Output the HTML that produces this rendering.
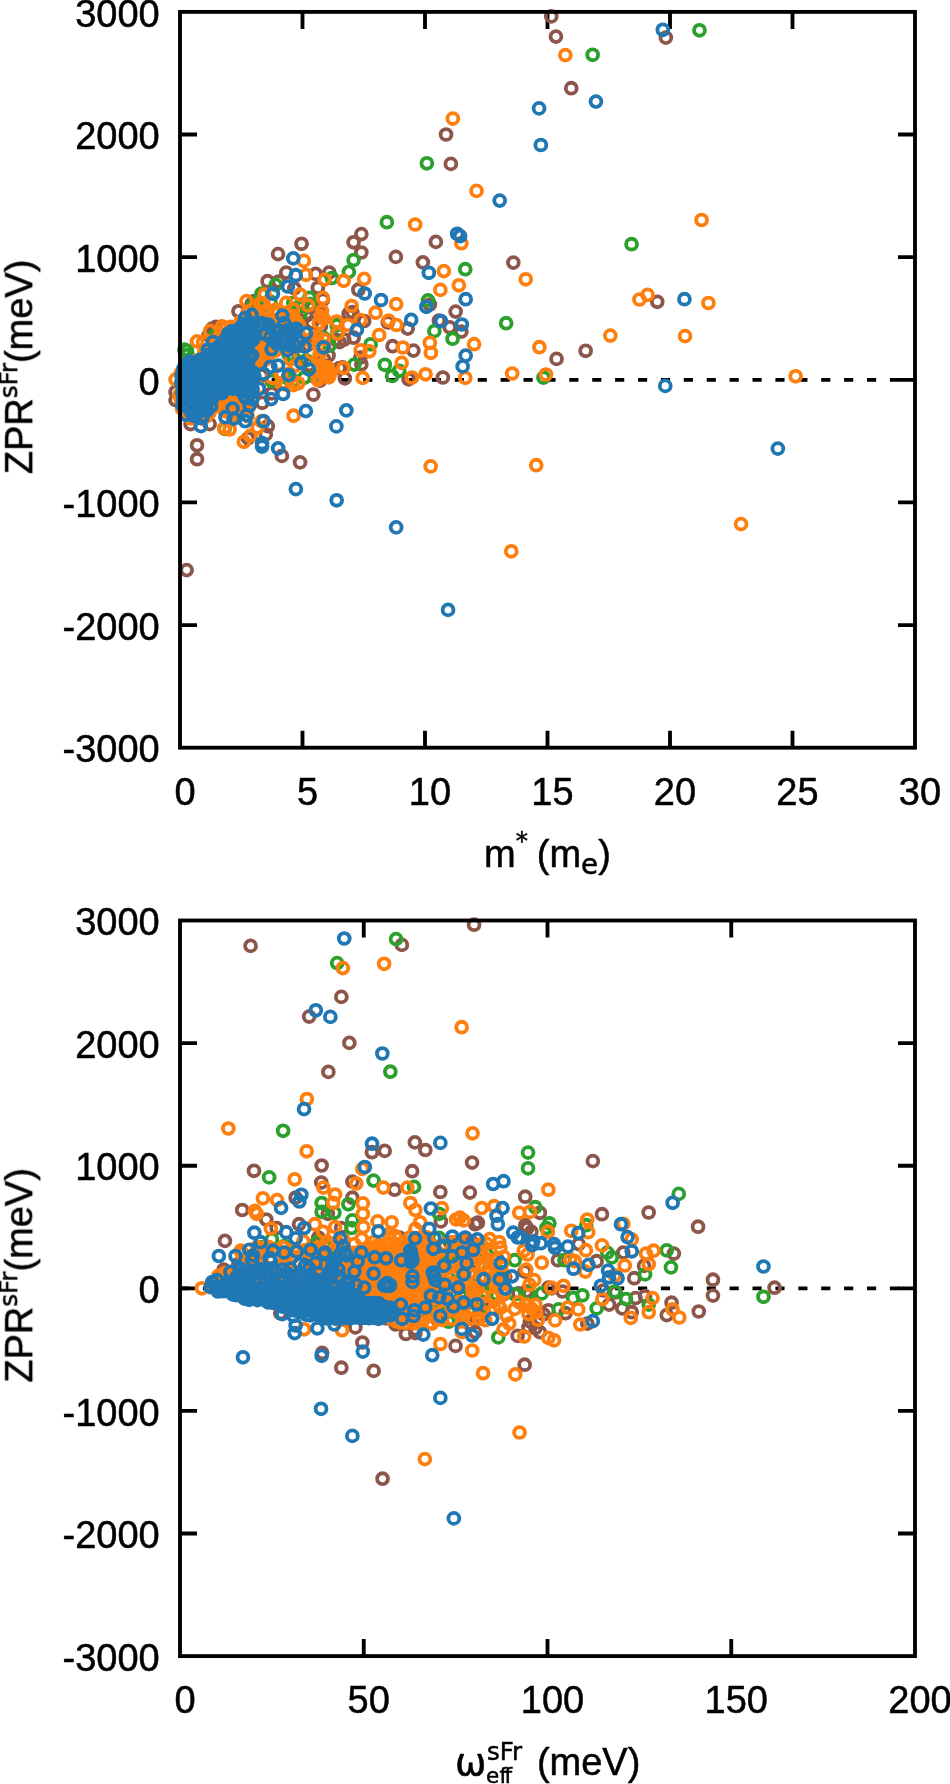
<!DOCTYPE html>
<html><head><meta charset="utf-8"><title>ZPR scatter</title>
<style>html,body{margin:0;padding:0;background:#fff}svg{display:block}text{font-family:"Liberation Sans",sans-serif;font-size:38px;fill:#000;stroke:#000;stroke-width:.5px}.s{font-family:"DejaVu Sans",sans-serif;font-size:24.5px}.w{font-family:"DejaVu Sans",sans-serif;font-size:37.5px}</style></head><body>
<svg width="950" height="1784" viewBox="0 0 950 1784">
<rect width="950" height="1784" fill="#fff"/>
<g style="will-change:transform">
<line x1="180.0" y1="379.80" x2="915.0" y2="379.80" stroke="#000" stroke-width="3.85" stroke-dasharray="9.15 13.75"/>
<path d="M302.50 747.7v-17.0M302.50 11.9v17.0M425.00 747.7v-17.0M425.00 11.9v17.0M547.50 747.7v-17.0M547.50 11.9v17.0M670.00 747.7v-17.0M670.00 11.9v17.0M792.50 747.7v-17.0M792.50 11.9v17.0M180.0 134.53h17.0M915.0 134.53h-17.0M180.0 257.17h17.0M915.0 257.17h-17.0M180.0 379.80h17.0M915.0 379.80h-17.0M180.0 502.43h17.0M915.0 502.43h-17.0M180.0 625.07h17.0M915.0 625.07h-17.0" stroke="#000" stroke-width="3.85" fill="none"/>
<g fill="none" stroke-width="3.8">
<path stroke="#8c564b" d="M210.4 326.9a5.45 5.45 0 1 0 10.9 0a5.45 5.45 0 1 0 -10.9 0zM247.9 305.8a5.45 5.45 0 1 0 10.9 0a5.45 5.45 0 1 0 -10.9 0zM233.0 311.3a5.45 5.45 0 1 0 10.9 0a5.45 5.45 0 1 0 -10.9 0zM246.2 303.9a5.45 5.45 0 1 0 10.9 0a5.45 5.45 0 1 0 -10.9 0zM203.2 335.4a5.45 5.45 0 1 0 10.9 0a5.45 5.45 0 1 0 -10.9 0zM248.6 308.1a5.45 5.45 0 1 0 10.9 0a5.45 5.45 0 1 0 -10.9 0zM206.7 328.7a5.45 5.45 0 1 0 10.9 0a5.45 5.45 0 1 0 -10.9 0zM256.4 308.7a5.45 5.45 0 1 0 10.9 0a5.45 5.45 0 1 0 -10.9 0zM293.7 342.0a5.45 5.45 0 1 0 10.9 0a5.45 5.45 0 1 0 -10.9 0zM294.2 320.2a5.45 5.45 0 1 0 10.9 0a5.45 5.45 0 1 0 -10.9 0zM314.4 380.7a5.45 5.45 0 1 0 10.9 0a5.45 5.45 0 1 0 -10.9 0zM300.8 315.7a5.45 5.45 0 1 0 10.9 0a5.45 5.45 0 1 0 -10.9 0zM289.4 332.1a5.45 5.45 0 1 0 10.9 0a5.45 5.45 0 1 0 -10.9 0zM266.1 393.4a5.45 5.45 0 1 0 10.9 0a5.45 5.45 0 1 0 -10.9 0zM318.6 359.1a5.45 5.45 0 1 0 10.9 0a5.45 5.45 0 1 0 -10.9 0zM277.4 327.8a5.45 5.45 0 1 0 10.9 0a5.45 5.45 0 1 0 -10.9 0zM302.6 344.8a5.45 5.45 0 1 0 10.9 0a5.45 5.45 0 1 0 -10.9 0zM303.6 364.9a5.45 5.45 0 1 0 10.9 0a5.45 5.45 0 1 0 -10.9 0zM255.9 375.2a5.45 5.45 0 1 0 10.9 0a5.45 5.45 0 1 0 -10.9 0zM297.2 304.3a5.45 5.45 0 1 0 10.9 0a5.45 5.45 0 1 0 -10.9 0zM545.8 16.4a5.45 5.45 0 1 0 10.9 0a5.45 5.45 0 1 0 -10.9 0zM550.5 36.6a5.45 5.45 0 1 0 10.9 0a5.45 5.45 0 1 0 -10.9 0zM565.8 88.2a5.45 5.45 0 1 0 10.9 0a5.45 5.45 0 1 0 -10.9 0zM660.4 37.6a5.45 5.45 0 1 0 10.9 0a5.45 5.45 0 1 0 -10.9 0zM450.2 311.6a5.45 5.45 0 1 0 10.9 0a5.45 5.45 0 1 0 -10.9 0zM455.9 331.6a5.45 5.45 0 1 0 10.9 0a5.45 5.45 0 1 0 -10.9 0zM507.9 262.6a5.45 5.45 0 1 0 10.9 0a5.45 5.45 0 1 0 -10.9 0zM551.1 358.9a5.45 5.45 0 1 0 10.9 0a5.45 5.45 0 1 0 -10.9 0zM580.2 350.8a5.45 5.45 0 1 0 10.9 0a5.45 5.45 0 1 0 -10.9 0zM651.8 301.8a5.45 5.45 0 1 0 10.9 0a5.45 5.45 0 1 0 -10.9 0zM440.6 134.5a5.45 5.45 0 1 0 10.9 0a5.45 5.45 0 1 0 -10.9 0zM445.4 163.9a5.45 5.45 0 1 0 10.9 0a5.45 5.45 0 1 0 -10.9 0zM355.9 234.1a5.45 5.45 0 1 0 10.9 0a5.45 5.45 0 1 0 -10.9 0zM348.1 242.3a5.45 5.45 0 1 0 10.9 0a5.45 5.45 0 1 0 -10.9 0zM355.9 252.5a5.45 5.45 0 1 0 10.9 0a5.45 5.45 0 1 0 -10.9 0zM390.4 256.9a5.45 5.45 0 1 0 10.9 0a5.45 5.45 0 1 0 -10.9 0zM430.4 241.9a5.45 5.45 0 1 0 10.9 0a5.45 5.45 0 1 0 -10.9 0zM417.4 262.4a5.45 5.45 0 1 0 10.9 0a5.45 5.45 0 1 0 -10.9 0zM352.9 289.7a5.45 5.45 0 1 0 10.9 0a5.45 5.45 0 1 0 -10.9 0zM346.9 312.1a5.45 5.45 0 1 0 10.9 0a5.45 5.45 0 1 0 -10.9 0zM358.7 321.0a5.45 5.45 0 1 0 10.9 0a5.45 5.45 0 1 0 -10.9 0zM382.4 322.5a5.45 5.45 0 1 0 10.9 0a5.45 5.45 0 1 0 -10.9 0zM402.2 328.6a5.45 5.45 0 1 0 10.9 0a5.45 5.45 0 1 0 -10.9 0zM330.2 339.6a5.45 5.45 0 1 0 10.9 0a5.45 5.45 0 1 0 -10.9 0zM338.8 339.6a5.45 5.45 0 1 0 10.9 0a5.45 5.45 0 1 0 -10.9 0zM348.2 337.7a5.45 5.45 0 1 0 10.9 0a5.45 5.45 0 1 0 -10.9 0zM387.1 346.2a5.45 5.45 0 1 0 10.9 0a5.45 5.45 0 1 0 -10.9 0zM407.9 350.6a5.45 5.45 0 1 0 10.9 0a5.45 5.45 0 1 0 -10.9 0zM354.9 357.6a5.45 5.45 0 1 0 10.9 0a5.45 5.45 0 1 0 -10.9 0zM355.9 364.2a5.45 5.45 0 1 0 10.9 0a5.45 5.45 0 1 0 -10.9 0zM334.1 368.0a5.45 5.45 0 1 0 10.9 0a5.45 5.45 0 1 0 -10.9 0zM339.4 378.4a5.45 5.45 0 1 0 10.9 0a5.45 5.45 0 1 0 -10.9 0zM403.2 379.4a5.45 5.45 0 1 0 10.9 0a5.45 5.45 0 1 0 -10.9 0zM437.4 377.5a5.45 5.45 0 1 0 10.9 0a5.45 5.45 0 1 0 -10.9 0zM433.4 320.6a5.45 5.45 0 1 0 10.9 0a5.45 5.45 0 1 0 -10.9 0zM444.2 327.3a5.45 5.45 0 1 0 10.9 0a5.45 5.45 0 1 0 -10.9 0zM424.4 304.5a5.45 5.45 0 1 0 10.9 0a5.45 5.45 0 1 0 -10.9 0zM296.1 243.8a5.45 5.45 0 1 0 10.9 0a5.45 5.45 0 1 0 -10.9 0zM272.6 254.1a5.45 5.45 0 1 0 10.9 0a5.45 5.45 0 1 0 -10.9 0zM280.8 272.6a5.45 5.45 0 1 0 10.9 0a5.45 5.45 0 1 0 -10.9 0zM310.2 273.9a5.45 5.45 0 1 0 10.9 0a5.45 5.45 0 1 0 -10.9 0zM323.8 272.6a5.45 5.45 0 1 0 10.9 0a5.45 5.45 0 1 0 -10.9 0zM262.1 281.2a5.45 5.45 0 1 0 10.9 0a5.45 5.45 0 1 0 -10.9 0zM273.2 281.5a5.45 5.45 0 1 0 10.9 0a5.45 5.45 0 1 0 -10.9 0zM288.9 288.4a5.45 5.45 0 1 0 10.9 0a5.45 5.45 0 1 0 -10.9 0zM312.4 287.8a5.45 5.45 0 1 0 10.9 0a5.45 5.45 0 1 0 -10.9 0zM317.4 299.8a5.45 5.45 0 1 0 10.9 0a5.45 5.45 0 1 0 -10.9 0zM248.6 301.1a5.45 5.45 0 1 0 10.9 0a5.45 5.45 0 1 0 -10.9 0zM305.4 307.4a5.45 5.45 0 1 0 10.9 0a5.45 5.45 0 1 0 -10.9 0zM316.2 313.7a5.45 5.45 0 1 0 10.9 0a5.45 5.45 0 1 0 -10.9 0zM343.2 313.7a5.45 5.45 0 1 0 10.9 0a5.45 5.45 0 1 0 -10.9 0zM307.9 394.6a5.45 5.45 0 1 0 10.9 0a5.45 5.45 0 1 0 -10.9 0zM256.8 402.8a5.45 5.45 0 1 0 10.9 0a5.45 5.45 0 1 0 -10.9 0zM262.4 426.2a5.45 5.45 0 1 0 10.9 0a5.45 5.45 0 1 0 -10.9 0zM306.7 322.6a5.45 5.45 0 1 0 10.9 0a5.45 5.45 0 1 0 -10.9 0zM315.4 326.4a5.45 5.45 0 1 0 10.9 0a5.45 5.45 0 1 0 -10.9 0zM323.1 355.5a5.45 5.45 0 1 0 10.9 0a5.45 5.45 0 1 0 -10.9 0zM185.1 424.1a5.45 5.45 0 1 0 10.9 0a5.45 5.45 0 1 0 -10.9 0zM204.2 424.1a5.45 5.45 0 1 0 10.9 0a5.45 5.45 0 1 0 -10.9 0zM191.6 445.3a5.45 5.45 0 1 0 10.9 0a5.45 5.45 0 1 0 -10.9 0zM191.6 459.2a5.45 5.45 0 1 0 10.9 0a5.45 5.45 0 1 0 -10.9 0zM242.6 438.4a5.45 5.45 0 1 0 10.9 0a5.45 5.45 0 1 0 -10.9 0zM276.4 455.9a5.45 5.45 0 1 0 10.9 0a5.45 5.45 0 1 0 -10.9 0zM294.6 462.4a5.45 5.45 0 1 0 10.9 0a5.45 5.45 0 1 0 -10.9 0zM260.4 434.3a5.45 5.45 0 1 0 10.9 0a5.45 5.45 0 1 0 -10.9 0zM170.1 391.9a5.45 5.45 0 1 0 10.9 0a5.45 5.45 0 1 0 -10.9 0zM170.1 400.1a5.45 5.45 0 1 0 10.9 0a5.45 5.45 0 1 0 -10.9 0zM181.2 570.1a5.45 5.45 0 1 0 10.9 0a5.45 5.45 0 1 0 -10.9 0zM337.2 367.4a5.45 5.45 0 1 0 10.9 0a5.45 5.45 0 1 0 -10.9 0zM334.1 342.1a5.45 5.45 0 1 0 10.9 0a5.45 5.45 0 1 0 -10.9 0z"/>
<path stroke="#2ca02c" d="M181.5 350.7a5.45 5.45 0 1 0 10.9 0a5.45 5.45 0 1 0 -10.9 0zM256.4 315.1a5.45 5.45 0 1 0 10.9 0a5.45 5.45 0 1 0 -10.9 0zM225.8 333.1a5.45 5.45 0 1 0 10.9 0a5.45 5.45 0 1 0 -10.9 0zM209.6 335.6a5.45 5.45 0 1 0 10.9 0a5.45 5.45 0 1 0 -10.9 0zM246.4 320.6a5.45 5.45 0 1 0 10.9 0a5.45 5.45 0 1 0 -10.9 0zM182.2 355.0a5.45 5.45 0 1 0 10.9 0a5.45 5.45 0 1 0 -10.9 0zM179.0 349.7a5.45 5.45 0 1 0 10.9 0a5.45 5.45 0 1 0 -10.9 0zM216.1 336.7a5.45 5.45 0 1 0 10.9 0a5.45 5.45 0 1 0 -10.9 0zM283.4 354.9a5.45 5.45 0 1 0 10.9 0a5.45 5.45 0 1 0 -10.9 0zM324.1 345.6a5.45 5.45 0 1 0 10.9 0a5.45 5.45 0 1 0 -10.9 0zM288.2 357.6a5.45 5.45 0 1 0 10.9 0a5.45 5.45 0 1 0 -10.9 0zM260.4 350.2a5.45 5.45 0 1 0 10.9 0a5.45 5.45 0 1 0 -10.9 0zM298.8 377.7a5.45 5.45 0 1 0 10.9 0a5.45 5.45 0 1 0 -10.9 0zM252.7 329.7a5.45 5.45 0 1 0 10.9 0a5.45 5.45 0 1 0 -10.9 0zM304.2 304.1a5.45 5.45 0 1 0 10.9 0a5.45 5.45 0 1 0 -10.9 0zM300.8 360.3a5.45 5.45 0 1 0 10.9 0a5.45 5.45 0 1 0 -10.9 0zM587.2 54.8a5.45 5.45 0 1 0 10.9 0a5.45 5.45 0 1 0 -10.9 0zM694.0 30.3a5.45 5.45 0 1 0 10.9 0a5.45 5.45 0 1 0 -10.9 0zM459.8 269.2a5.45 5.45 0 1 0 10.9 0a5.45 5.45 0 1 0 -10.9 0zM447.1 338.7a5.45 5.45 0 1 0 10.9 0a5.45 5.45 0 1 0 -10.9 0zM500.7 323.2a5.45 5.45 0 1 0 10.9 0a5.45 5.45 0 1 0 -10.9 0zM538.0 377.6a5.45 5.45 0 1 0 10.9 0a5.45 5.45 0 1 0 -10.9 0zM626.1 244.2a5.45 5.45 0 1 0 10.9 0a5.45 5.45 0 1 0 -10.9 0zM421.4 163.3a5.45 5.45 0 1 0 10.9 0a5.45 5.45 0 1 0 -10.9 0zM381.4 222.2a5.45 5.45 0 1 0 10.9 0a5.45 5.45 0 1 0 -10.9 0zM348.1 260.1a5.45 5.45 0 1 0 10.9 0a5.45 5.45 0 1 0 -10.9 0zM343.4 271.9a5.45 5.45 0 1 0 10.9 0a5.45 5.45 0 1 0 -10.9 0zM326.4 278.0a5.45 5.45 0 1 0 10.9 0a5.45 5.45 0 1 0 -10.9 0zM331.2 325.4a5.45 5.45 0 1 0 10.9 0a5.45 5.45 0 1 0 -10.9 0zM365.2 344.3a5.45 5.45 0 1 0 10.9 0a5.45 5.45 0 1 0 -10.9 0zM348.9 364.6a5.45 5.45 0 1 0 10.9 0a5.45 5.45 0 1 0 -10.9 0zM379.4 364.8a5.45 5.45 0 1 0 10.9 0a5.45 5.45 0 1 0 -10.9 0zM393.8 370.8a5.45 5.45 0 1 0 10.9 0a5.45 5.45 0 1 0 -10.9 0zM386.7 376.0a5.45 5.45 0 1 0 10.9 0a5.45 5.45 0 1 0 -10.9 0zM428.9 331.1a5.45 5.45 0 1 0 10.9 0a5.45 5.45 0 1 0 -10.9 0zM422.6 300.4a5.45 5.45 0 1 0 10.9 0a5.45 5.45 0 1 0 -10.9 0zM270.2 284.9a5.45 5.45 0 1 0 10.9 0a5.45 5.45 0 1 0 -10.9 0zM256.2 293.5a5.45 5.45 0 1 0 10.9 0a5.45 5.45 0 1 0 -10.9 0zM303.9 297.9a5.45 5.45 0 1 0 10.9 0a5.45 5.45 0 1 0 -10.9 0zM248.0 304.8a5.45 5.45 0 1 0 10.9 0a5.45 5.45 0 1 0 -10.9 0zM287.8 302.9a5.45 5.45 0 1 0 10.9 0a5.45 5.45 0 1 0 -10.9 0zM295.2 313.7a5.45 5.45 0 1 0 10.9 0a5.45 5.45 0 1 0 -10.9 0zM331.2 322.0a5.45 5.45 0 1 0 10.9 0a5.45 5.45 0 1 0 -10.9 0zM331.9 332.7a5.45 5.45 0 1 0 10.9 0a5.45 5.45 0 1 0 -10.9 0zM287.8 380.7a5.45 5.45 0 1 0 10.9 0a5.45 5.45 0 1 0 -10.9 0zM266.2 380.7a5.45 5.45 0 1 0 10.9 0a5.45 5.45 0 1 0 -10.9 0zM309.2 376.9a5.45 5.45 0 1 0 10.9 0a5.45 5.45 0 1 0 -10.9 0zM318.1 337.8a5.45 5.45 0 1 0 10.9 0a5.45 5.45 0 1 0 -10.9 0zM219.2 428.8a5.45 5.45 0 1 0 10.9 0a5.45 5.45 0 1 0 -10.9 0zM282.2 378.2a5.45 5.45 0 1 0 10.9 0a5.45 5.45 0 1 0 -10.9 0zM293.4 306.8a5.45 5.45 0 1 0 10.9 0a5.45 5.45 0 1 0 -10.9 0zM252.2 301.7a5.45 5.45 0 1 0 10.9 0a5.45 5.45 0 1 0 -10.9 0zM264.9 301.7a5.45 5.45 0 1 0 10.9 0a5.45 5.45 0 1 0 -10.9 0zM317.2 347.4a5.45 5.45 0 1 0 10.9 0a5.45 5.45 0 1 0 -10.9 0z"/>
<path stroke="#ff7f0e" d="M235.2 321.8a5.45 5.45 0 1 0 10.9 0a5.45 5.45 0 1 0 -10.9 0zM241.7 322.2a5.45 5.45 0 1 0 10.9 0a5.45 5.45 0 1 0 -10.9 0zM245.4 322.4a5.45 5.45 0 1 0 10.9 0a5.45 5.45 0 1 0 -10.9 0zM228.6 327.6a5.45 5.45 0 1 0 10.9 0a5.45 5.45 0 1 0 -10.9 0zM233.8 326.6a5.45 5.45 0 1 0 10.9 0a5.45 5.45 0 1 0 -10.9 0zM238.1 326.8a5.45 5.45 0 1 0 10.9 0a5.45 5.45 0 1 0 -10.9 0zM244.5 325.7a5.45 5.45 0 1 0 10.9 0a5.45 5.45 0 1 0 -10.9 0zM225.5 331.2a5.45 5.45 0 1 0 10.9 0a5.45 5.45 0 1 0 -10.9 0zM231.8 331.6a5.45 5.45 0 1 0 10.9 0a5.45 5.45 0 1 0 -10.9 0zM236.7 331.6a5.45 5.45 0 1 0 10.9 0a5.45 5.45 0 1 0 -10.9 0zM240.6 331.7a5.45 5.45 0 1 0 10.9 0a5.45 5.45 0 1 0 -10.9 0zM246.4 330.2a5.45 5.45 0 1 0 10.9 0a5.45 5.45 0 1 0 -10.9 0zM218.4 334.7a5.45 5.45 0 1 0 10.9 0a5.45 5.45 0 1 0 -10.9 0zM222.8 336.1a5.45 5.45 0 1 0 10.9 0a5.45 5.45 0 1 0 -10.9 0zM228.6 334.7a5.45 5.45 0 1 0 10.9 0a5.45 5.45 0 1 0 -10.9 0zM233.8 336.0a5.45 5.45 0 1 0 10.9 0a5.45 5.45 0 1 0 -10.9 0zM237.6 334.4a5.45 5.45 0 1 0 10.9 0a5.45 5.45 0 1 0 -10.9 0zM242.9 335.8a5.45 5.45 0 1 0 10.9 0a5.45 5.45 0 1 0 -10.9 0zM247.9 335.7a5.45 5.45 0 1 0 10.9 0a5.45 5.45 0 1 0 -10.9 0zM215.7 340.4a5.45 5.45 0 1 0 10.9 0a5.45 5.45 0 1 0 -10.9 0zM220.7 340.5a5.45 5.45 0 1 0 10.9 0a5.45 5.45 0 1 0 -10.9 0zM226.6 339.5a5.45 5.45 0 1 0 10.9 0a5.45 5.45 0 1 0 -10.9 0zM230.6 338.7a5.45 5.45 0 1 0 10.9 0a5.45 5.45 0 1 0 -10.9 0zM236.9 338.7a5.45 5.45 0 1 0 10.9 0a5.45 5.45 0 1 0 -10.9 0zM241.7 340.6a5.45 5.45 0 1 0 10.9 0a5.45 5.45 0 1 0 -10.9 0zM246.2 339.0a5.45 5.45 0 1 0 10.9 0a5.45 5.45 0 1 0 -10.9 0zM208.2 344.7a5.45 5.45 0 1 0 10.9 0a5.45 5.45 0 1 0 -10.9 0zM214.4 343.0a5.45 5.45 0 1 0 10.9 0a5.45 5.45 0 1 0 -10.9 0zM218.0 343.6a5.45 5.45 0 1 0 10.9 0a5.45 5.45 0 1 0 -10.9 0zM224.6 344.5a5.45 5.45 0 1 0 10.9 0a5.45 5.45 0 1 0 -10.9 0zM228.2 343.4a5.45 5.45 0 1 0 10.9 0a5.45 5.45 0 1 0 -10.9 0zM233.9 344.7a5.45 5.45 0 1 0 10.9 0a5.45 5.45 0 1 0 -10.9 0zM239.5 343.7a5.45 5.45 0 1 0 10.9 0a5.45 5.45 0 1 0 -10.9 0zM244.4 344.4a5.45 5.45 0 1 0 10.9 0a5.45 5.45 0 1 0 -10.9 0zM206.8 348.5a5.45 5.45 0 1 0 10.9 0a5.45 5.45 0 1 0 -10.9 0zM212.0 349.1a5.45 5.45 0 1 0 10.9 0a5.45 5.45 0 1 0 -10.9 0zM215.4 348.4a5.45 5.45 0 1 0 10.9 0a5.45 5.45 0 1 0 -10.9 0zM220.2 347.4a5.45 5.45 0 1 0 10.9 0a5.45 5.45 0 1 0 -10.9 0zM225.2 349.0a5.45 5.45 0 1 0 10.9 0a5.45 5.45 0 1 0 -10.9 0zM231.7 349.0a5.45 5.45 0 1 0 10.9 0a5.45 5.45 0 1 0 -10.9 0zM235.8 348.5a5.45 5.45 0 1 0 10.9 0a5.45 5.45 0 1 0 -10.9 0zM241.7 348.1a5.45 5.45 0 1 0 10.9 0a5.45 5.45 0 1 0 -10.9 0zM246.2 347.8a5.45 5.45 0 1 0 10.9 0a5.45 5.45 0 1 0 -10.9 0zM198.9 351.8a5.45 5.45 0 1 0 10.9 0a5.45 5.45 0 1 0 -10.9 0zM202.8 353.4a5.45 5.45 0 1 0 10.9 0a5.45 5.45 0 1 0 -10.9 0zM207.7 352.1a5.45 5.45 0 1 0 10.9 0a5.45 5.45 0 1 0 -10.9 0zM214.6 352.5a5.45 5.45 0 1 0 10.9 0a5.45 5.45 0 1 0 -10.9 0zM217.8 352.0a5.45 5.45 0 1 0 10.9 0a5.45 5.45 0 1 0 -10.9 0zM223.1 353.1a5.45 5.45 0 1 0 10.9 0a5.45 5.45 0 1 0 -10.9 0zM227.8 353.5a5.45 5.45 0 1 0 10.9 0a5.45 5.45 0 1 0 -10.9 0zM233.4 353.6a5.45 5.45 0 1 0 10.9 0a5.45 5.45 0 1 0 -10.9 0zM239.4 352.2a5.45 5.45 0 1 0 10.9 0a5.45 5.45 0 1 0 -10.9 0zM243.1 352.6a5.45 5.45 0 1 0 10.9 0a5.45 5.45 0 1 0 -10.9 0zM196.9 357.9a5.45 5.45 0 1 0 10.9 0a5.45 5.45 0 1 0 -10.9 0zM202.0 356.2a5.45 5.45 0 1 0 10.9 0a5.45 5.45 0 1 0 -10.9 0zM205.5 357.2a5.45 5.45 0 1 0 10.9 0a5.45 5.45 0 1 0 -10.9 0zM212.1 357.1a5.45 5.45 0 1 0 10.9 0a5.45 5.45 0 1 0 -10.9 0zM216.5 357.3a5.45 5.45 0 1 0 10.9 0a5.45 5.45 0 1 0 -10.9 0zM220.6 357.1a5.45 5.45 0 1 0 10.9 0a5.45 5.45 0 1 0 -10.9 0zM225.7 356.5a5.45 5.45 0 1 0 10.9 0a5.45 5.45 0 1 0 -10.9 0zM230.2 356.5a5.45 5.45 0 1 0 10.9 0a5.45 5.45 0 1 0 -10.9 0zM237.1 356.9a5.45 5.45 0 1 0 10.9 0a5.45 5.45 0 1 0 -10.9 0zM241.4 357.3a5.45 5.45 0 1 0 10.9 0a5.45 5.45 0 1 0 -10.9 0zM188.2 361.4a5.45 5.45 0 1 0 10.9 0a5.45 5.45 0 1 0 -10.9 0zM193.8 361.5a5.45 5.45 0 1 0 10.9 0a5.45 5.45 0 1 0 -10.9 0zM198.1 360.3a5.45 5.45 0 1 0 10.9 0a5.45 5.45 0 1 0 -10.9 0zM203.1 360.4a5.45 5.45 0 1 0 10.9 0a5.45 5.45 0 1 0 -10.9 0zM208.7 360.4a5.45 5.45 0 1 0 10.9 0a5.45 5.45 0 1 0 -10.9 0zM212.8 361.6a5.45 5.45 0 1 0 10.9 0a5.45 5.45 0 1 0 -10.9 0zM218.2 361.9a5.45 5.45 0 1 0 10.9 0a5.45 5.45 0 1 0 -10.9 0zM223.6 362.0a5.45 5.45 0 1 0 10.9 0a5.45 5.45 0 1 0 -10.9 0zM227.9 361.3a5.45 5.45 0 1 0 10.9 0a5.45 5.45 0 1 0 -10.9 0zM234.2 360.5a5.45 5.45 0 1 0 10.9 0a5.45 5.45 0 1 0 -10.9 0zM239.5 360.6a5.45 5.45 0 1 0 10.9 0a5.45 5.45 0 1 0 -10.9 0zM244.2 362.3a5.45 5.45 0 1 0 10.9 0a5.45 5.45 0 1 0 -10.9 0zM181.9 365.2a5.45 5.45 0 1 0 10.9 0a5.45 5.45 0 1 0 -10.9 0zM186.9 364.9a5.45 5.45 0 1 0 10.9 0a5.45 5.45 0 1 0 -10.9 0zM191.9 364.7a5.45 5.45 0 1 0 10.9 0a5.45 5.45 0 1 0 -10.9 0zM195.7 366.4a5.45 5.45 0 1 0 10.9 0a5.45 5.45 0 1 0 -10.9 0zM201.7 366.4a5.45 5.45 0 1 0 10.9 0a5.45 5.45 0 1 0 -10.9 0zM206.8 366.1a5.45 5.45 0 1 0 10.9 0a5.45 5.45 0 1 0 -10.9 0zM211.5 365.0a5.45 5.45 0 1 0 10.9 0a5.45 5.45 0 1 0 -10.9 0zM216.0 364.9a5.45 5.45 0 1 0 10.9 0a5.45 5.45 0 1 0 -10.9 0zM221.5 366.0a5.45 5.45 0 1 0 10.9 0a5.45 5.45 0 1 0 -10.9 0zM225.6 364.8a5.45 5.45 0 1 0 10.9 0a5.45 5.45 0 1 0 -10.9 0zM232.0 366.2a5.45 5.45 0 1 0 10.9 0a5.45 5.45 0 1 0 -10.9 0zM236.2 365.7a5.45 5.45 0 1 0 10.9 0a5.45 5.45 0 1 0 -10.9 0zM241.8 365.5a5.45 5.45 0 1 0 10.9 0a5.45 5.45 0 1 0 -10.9 0zM178.9 369.8a5.45 5.45 0 1 0 10.9 0a5.45 5.45 0 1 0 -10.9 0zM183.7 369.1a5.45 5.45 0 1 0 10.9 0a5.45 5.45 0 1 0 -10.9 0zM188.2 369.2a5.45 5.45 0 1 0 10.9 0a5.45 5.45 0 1 0 -10.9 0zM192.9 369.5a5.45 5.45 0 1 0 10.9 0a5.45 5.45 0 1 0 -10.9 0zM199.2 369.8a5.45 5.45 0 1 0 10.9 0a5.45 5.45 0 1 0 -10.9 0zM203.4 370.2a5.45 5.45 0 1 0 10.9 0a5.45 5.45 0 1 0 -10.9 0zM208.1 369.0a5.45 5.45 0 1 0 10.9 0a5.45 5.45 0 1 0 -10.9 0zM213.7 370.0a5.45 5.45 0 1 0 10.9 0a5.45 5.45 0 1 0 -10.9 0zM218.9 369.8a5.45 5.45 0 1 0 10.9 0a5.45 5.45 0 1 0 -10.9 0zM224.0 370.4a5.45 5.45 0 1 0 10.9 0a5.45 5.45 0 1 0 -10.9 0zM228.1 370.0a5.45 5.45 0 1 0 10.9 0a5.45 5.45 0 1 0 -10.9 0zM233.6 369.4a5.45 5.45 0 1 0 10.9 0a5.45 5.45 0 1 0 -10.9 0zM238.4 370.1a5.45 5.45 0 1 0 10.9 0a5.45 5.45 0 1 0 -10.9 0zM175.2 373.4a5.45 5.45 0 1 0 10.9 0a5.45 5.45 0 1 0 -10.9 0zM181.1 375.0a5.45 5.45 0 1 0 10.9 0a5.45 5.45 0 1 0 -10.9 0zM185.4 374.8a5.45 5.45 0 1 0 10.9 0a5.45 5.45 0 1 0 -10.9 0zM191.9 373.9a5.45 5.45 0 1 0 10.9 0a5.45 5.45 0 1 0 -10.9 0zM196.5 375.0a5.45 5.45 0 1 0 10.9 0a5.45 5.45 0 1 0 -10.9 0zM200.8 374.7a5.45 5.45 0 1 0 10.9 0a5.45 5.45 0 1 0 -10.9 0zM206.6 374.5a5.45 5.45 0 1 0 10.9 0a5.45 5.45 0 1 0 -10.9 0zM211.8 375.1a5.45 5.45 0 1 0 10.9 0a5.45 5.45 0 1 0 -10.9 0zM217.0 374.4a5.45 5.45 0 1 0 10.9 0a5.45 5.45 0 1 0 -10.9 0zM220.5 373.8a5.45 5.45 0 1 0 10.9 0a5.45 5.45 0 1 0 -10.9 0zM225.5 374.4a5.45 5.45 0 1 0 10.9 0a5.45 5.45 0 1 0 -10.9 0zM231.6 373.4a5.45 5.45 0 1 0 10.9 0a5.45 5.45 0 1 0 -10.9 0zM236.5 374.7a5.45 5.45 0 1 0 10.9 0a5.45 5.45 0 1 0 -10.9 0zM240.8 374.3a5.45 5.45 0 1 0 10.9 0a5.45 5.45 0 1 0 -10.9 0zM179.2 378.9a5.45 5.45 0 1 0 10.9 0a5.45 5.45 0 1 0 -10.9 0zM183.1 379.4a5.45 5.45 0 1 0 10.9 0a5.45 5.45 0 1 0 -10.9 0zM189.5 377.9a5.45 5.45 0 1 0 10.9 0a5.45 5.45 0 1 0 -10.9 0zM194.2 379.3a5.45 5.45 0 1 0 10.9 0a5.45 5.45 0 1 0 -10.9 0zM198.9 379.0a5.45 5.45 0 1 0 10.9 0a5.45 5.45 0 1 0 -10.9 0zM203.5 379.5a5.45 5.45 0 1 0 10.9 0a5.45 5.45 0 1 0 -10.9 0zM209.5 378.4a5.45 5.45 0 1 0 10.9 0a5.45 5.45 0 1 0 -10.9 0zM214.2 378.5a5.45 5.45 0 1 0 10.9 0a5.45 5.45 0 1 0 -10.9 0zM217.9 378.3a5.45 5.45 0 1 0 10.9 0a5.45 5.45 0 1 0 -10.9 0zM222.9 379.4a5.45 5.45 0 1 0 10.9 0a5.45 5.45 0 1 0 -10.9 0zM229.5 377.9a5.45 5.45 0 1 0 10.9 0a5.45 5.45 0 1 0 -10.9 0zM233.8 378.4a5.45 5.45 0 1 0 10.9 0a5.45 5.45 0 1 0 -10.9 0zM237.8 378.2a5.45 5.45 0 1 0 10.9 0a5.45 5.45 0 1 0 -10.9 0zM176.0 382.0a5.45 5.45 0 1 0 10.9 0a5.45 5.45 0 1 0 -10.9 0zM181.4 383.2a5.45 5.45 0 1 0 10.9 0a5.45 5.45 0 1 0 -10.9 0zM186.8 382.4a5.45 5.45 0 1 0 10.9 0a5.45 5.45 0 1 0 -10.9 0zM190.7 383.0a5.45 5.45 0 1 0 10.9 0a5.45 5.45 0 1 0 -10.9 0zM195.6 383.1a5.45 5.45 0 1 0 10.9 0a5.45 5.45 0 1 0 -10.9 0zM200.6 383.3a5.45 5.45 0 1 0 10.9 0a5.45 5.45 0 1 0 -10.9 0zM206.7 383.6a5.45 5.45 0 1 0 10.9 0a5.45 5.45 0 1 0 -10.9 0zM212.0 383.0a5.45 5.45 0 1 0 10.9 0a5.45 5.45 0 1 0 -10.9 0zM216.1 383.7a5.45 5.45 0 1 0 10.9 0a5.45 5.45 0 1 0 -10.9 0zM221.6 383.1a5.45 5.45 0 1 0 10.9 0a5.45 5.45 0 1 0 -10.9 0zM225.9 382.5a5.45 5.45 0 1 0 10.9 0a5.45 5.45 0 1 0 -10.9 0zM230.2 383.6a5.45 5.45 0 1 0 10.9 0a5.45 5.45 0 1 0 -10.9 0zM235.2 383.4a5.45 5.45 0 1 0 10.9 0a5.45 5.45 0 1 0 -10.9 0zM178.7 386.9a5.45 5.45 0 1 0 10.9 0a5.45 5.45 0 1 0 -10.9 0zM183.6 387.0a5.45 5.45 0 1 0 10.9 0a5.45 5.45 0 1 0 -10.9 0zM188.7 386.3a5.45 5.45 0 1 0 10.9 0a5.45 5.45 0 1 0 -10.9 0zM193.5 387.2a5.45 5.45 0 1 0 10.9 0a5.45 5.45 0 1 0 -10.9 0zM198.2 387.1a5.45 5.45 0 1 0 10.9 0a5.45 5.45 0 1 0 -10.9 0zM204.2 387.6a5.45 5.45 0 1 0 10.9 0a5.45 5.45 0 1 0 -10.9 0zM208.6 387.6a5.45 5.45 0 1 0 10.9 0a5.45 5.45 0 1 0 -10.9 0zM213.4 386.7a5.45 5.45 0 1 0 10.9 0a5.45 5.45 0 1 0 -10.9 0zM217.6 386.8a5.45 5.45 0 1 0 10.9 0a5.45 5.45 0 1 0 -10.9 0zM223.8 388.0a5.45 5.45 0 1 0 10.9 0a5.45 5.45 0 1 0 -10.9 0zM229.2 387.3a5.45 5.45 0 1 0 10.9 0a5.45 5.45 0 1 0 -10.9 0zM176.2 391.7a5.45 5.45 0 1 0 10.9 0a5.45 5.45 0 1 0 -10.9 0zM180.8 390.6a5.45 5.45 0 1 0 10.9 0a5.45 5.45 0 1 0 -10.9 0zM185.9 391.5a5.45 5.45 0 1 0 10.9 0a5.45 5.45 0 1 0 -10.9 0zM190.9 392.3a5.45 5.45 0 1 0 10.9 0a5.45 5.45 0 1 0 -10.9 0zM196.2 392.1a5.45 5.45 0 1 0 10.9 0a5.45 5.45 0 1 0 -10.9 0zM201.9 392.1a5.45 5.45 0 1 0 10.9 0a5.45 5.45 0 1 0 -10.9 0zM206.1 392.1a5.45 5.45 0 1 0 10.9 0a5.45 5.45 0 1 0 -10.9 0zM211.4 391.9a5.45 5.45 0 1 0 10.9 0a5.45 5.45 0 1 0 -10.9 0zM216.4 391.4a5.45 5.45 0 1 0 10.9 0a5.45 5.45 0 1 0 -10.9 0zM173.7 395.2a5.45 5.45 0 1 0 10.9 0a5.45 5.45 0 1 0 -10.9 0zM179.2 395.9a5.45 5.45 0 1 0 10.9 0a5.45 5.45 0 1 0 -10.9 0zM183.5 395.0a5.45 5.45 0 1 0 10.9 0a5.45 5.45 0 1 0 -10.9 0zM188.6 396.4a5.45 5.45 0 1 0 10.9 0a5.45 5.45 0 1 0 -10.9 0zM193.4 395.7a5.45 5.45 0 1 0 10.9 0a5.45 5.45 0 1 0 -10.9 0zM198.9 395.0a5.45 5.45 0 1 0 10.9 0a5.45 5.45 0 1 0 -10.9 0zM203.6 396.8a5.45 5.45 0 1 0 10.9 0a5.45 5.45 0 1 0 -10.9 0zM209.0 395.7a5.45 5.45 0 1 0 10.9 0a5.45 5.45 0 1 0 -10.9 0zM214.0 396.1a5.45 5.45 0 1 0 10.9 0a5.45 5.45 0 1 0 -10.9 0zM175.6 400.5a5.45 5.45 0 1 0 10.9 0a5.45 5.45 0 1 0 -10.9 0zM180.6 400.4a5.45 5.45 0 1 0 10.9 0a5.45 5.45 0 1 0 -10.9 0zM185.4 400.8a5.45 5.45 0 1 0 10.9 0a5.45 5.45 0 1 0 -10.9 0zM191.8 399.9a5.45 5.45 0 1 0 10.9 0a5.45 5.45 0 1 0 -10.9 0zM195.5 401.2a5.45 5.45 0 1 0 10.9 0a5.45 5.45 0 1 0 -10.9 0zM201.5 401.0a5.45 5.45 0 1 0 10.9 0a5.45 5.45 0 1 0 -10.9 0zM205.2 401.1a5.45 5.45 0 1 0 10.9 0a5.45 5.45 0 1 0 -10.9 0zM211.2 399.9a5.45 5.45 0 1 0 10.9 0a5.45 5.45 0 1 0 -10.9 0zM178.2 405.1a5.45 5.45 0 1 0 10.9 0a5.45 5.45 0 1 0 -10.9 0zM183.1 405.0a5.45 5.45 0 1 0 10.9 0a5.45 5.45 0 1 0 -10.9 0zM189.0 404.2a5.45 5.45 0 1 0 10.9 0a5.45 5.45 0 1 0 -10.9 0zM192.8 404.4a5.45 5.45 0 1 0 10.9 0a5.45 5.45 0 1 0 -10.9 0zM198.6 403.8a5.45 5.45 0 1 0 10.9 0a5.45 5.45 0 1 0 -10.9 0zM203.0 403.7a5.45 5.45 0 1 0 10.9 0a5.45 5.45 0 1 0 -10.9 0zM208.8 405.4a5.45 5.45 0 1 0 10.9 0a5.45 5.45 0 1 0 -10.9 0zM176.7 408.9a5.45 5.45 0 1 0 10.9 0a5.45 5.45 0 1 0 -10.9 0zM181.2 408.4a5.45 5.45 0 1 0 10.9 0a5.45 5.45 0 1 0 -10.9 0zM186.5 408.6a5.45 5.45 0 1 0 10.9 0a5.45 5.45 0 1 0 -10.9 0zM191.2 409.7a5.45 5.45 0 1 0 10.9 0a5.45 5.45 0 1 0 -10.9 0zM197.1 408.0a5.45 5.45 0 1 0 10.9 0a5.45 5.45 0 1 0 -10.9 0zM201.7 409.6a5.45 5.45 0 1 0 10.9 0a5.45 5.45 0 1 0 -10.9 0zM205.7 408.7a5.45 5.45 0 1 0 10.9 0a5.45 5.45 0 1 0 -10.9 0zM179.2 412.3a5.45 5.45 0 1 0 10.9 0a5.45 5.45 0 1 0 -10.9 0zM183.1 412.5a5.45 5.45 0 1 0 10.9 0a5.45 5.45 0 1 0 -10.9 0zM187.8 412.3a5.45 5.45 0 1 0 10.9 0a5.45 5.45 0 1 0 -10.9 0zM193.9 413.7a5.45 5.45 0 1 0 10.9 0a5.45 5.45 0 1 0 -10.9 0zM199.0 414.0a5.45 5.45 0 1 0 10.9 0a5.45 5.45 0 1 0 -10.9 0zM203.9 413.0a5.45 5.45 0 1 0 10.9 0a5.45 5.45 0 1 0 -10.9 0zM185.6 418.5a5.45 5.45 0 1 0 10.9 0a5.45 5.45 0 1 0 -10.9 0zM190.4 418.4a5.45 5.45 0 1 0 10.9 0a5.45 5.45 0 1 0 -10.9 0zM196.8 418.3a5.45 5.45 0 1 0 10.9 0a5.45 5.45 0 1 0 -10.9 0zM200.2 416.8a5.45 5.45 0 1 0 10.9 0a5.45 5.45 0 1 0 -10.9 0zM258.1 311.5a5.45 5.45 0 1 0 10.9 0a5.45 5.45 0 1 0 -10.9 0zM272.2 313.5a5.45 5.45 0 1 0 10.9 0a5.45 5.45 0 1 0 -10.9 0zM279.2 312.8a5.45 5.45 0 1 0 10.9 0a5.45 5.45 0 1 0 -10.9 0zM287.7 309.3a5.45 5.45 0 1 0 10.9 0a5.45 5.45 0 1 0 -10.9 0zM262.1 318.0a5.45 5.45 0 1 0 10.9 0a5.45 5.45 0 1 0 -10.9 0zM268.9 320.1a5.45 5.45 0 1 0 10.9 0a5.45 5.45 0 1 0 -10.9 0zM276.4 320.4a5.45 5.45 0 1 0 10.9 0a5.45 5.45 0 1 0 -10.9 0zM282.4 319.7a5.45 5.45 0 1 0 10.9 0a5.45 5.45 0 1 0 -10.9 0zM290.2 320.4a5.45 5.45 0 1 0 10.9 0a5.45 5.45 0 1 0 -10.9 0zM258.4 322.7a5.45 5.45 0 1 0 10.9 0a5.45 5.45 0 1 0 -10.9 0zM262.1 323.3a5.45 5.45 0 1 0 10.9 0a5.45 5.45 0 1 0 -10.9 0zM273.9 324.4a5.45 5.45 0 1 0 10.9 0a5.45 5.45 0 1 0 -10.9 0zM279.9 323.7a5.45 5.45 0 1 0 10.9 0a5.45 5.45 0 1 0 -10.9 0zM286.8 324.2a5.45 5.45 0 1 0 10.9 0a5.45 5.45 0 1 0 -10.9 0zM293.6 325.2a5.45 5.45 0 1 0 10.9 0a5.45 5.45 0 1 0 -10.9 0zM261.1 333.6a5.45 5.45 0 1 0 10.9 0a5.45 5.45 0 1 0 -10.9 0zM269.7 333.9a5.45 5.45 0 1 0 10.9 0a5.45 5.45 0 1 0 -10.9 0zM276.2 329.6a5.45 5.45 0 1 0 10.9 0a5.45 5.45 0 1 0 -10.9 0zM284.9 333.7a5.45 5.45 0 1 0 10.9 0a5.45 5.45 0 1 0 -10.9 0zM292.7 331.7a5.45 5.45 0 1 0 10.9 0a5.45 5.45 0 1 0 -10.9 0zM257.4 336.4a5.45 5.45 0 1 0 10.9 0a5.45 5.45 0 1 0 -10.9 0zM265.7 338.3a5.45 5.45 0 1 0 10.9 0a5.45 5.45 0 1 0 -10.9 0zM270.4 335.6a5.45 5.45 0 1 0 10.9 0a5.45 5.45 0 1 0 -10.9 0zM280.9 340.5a5.45 5.45 0 1 0 10.9 0a5.45 5.45 0 1 0 -10.9 0zM284.7 339.5a5.45 5.45 0 1 0 10.9 0a5.45 5.45 0 1 0 -10.9 0zM293.9 336.1a5.45 5.45 0 1 0 10.9 0a5.45 5.45 0 1 0 -10.9 0zM262.1 342.1a5.45 5.45 0 1 0 10.9 0a5.45 5.45 0 1 0 -10.9 0zM268.4 342.1a5.45 5.45 0 1 0 10.9 0a5.45 5.45 0 1 0 -10.9 0zM276.4 343.6a5.45 5.45 0 1 0 10.9 0a5.45 5.45 0 1 0 -10.9 0zM284.9 347.0a5.45 5.45 0 1 0 10.9 0a5.45 5.45 0 1 0 -10.9 0zM290.6 347.1a5.45 5.45 0 1 0 10.9 0a5.45 5.45 0 1 0 -10.9 0zM264.4 348.6a5.45 5.45 0 1 0 10.9 0a5.45 5.45 0 1 0 -10.9 0zM269.9 350.6a5.45 5.45 0 1 0 10.9 0a5.45 5.45 0 1 0 -10.9 0zM279.8 349.3a5.45 5.45 0 1 0 10.9 0a5.45 5.45 0 1 0 -10.9 0zM204.7 330.9a5.45 5.45 0 1 0 10.9 0a5.45 5.45 0 1 0 -10.9 0zM313.7 367.7a5.45 5.45 0 1 0 10.9 0a5.45 5.45 0 1 0 -10.9 0zM318.2 367.8a5.45 5.45 0 1 0 10.9 0a5.45 5.45 0 1 0 -10.9 0zM322.2 367.4a5.45 5.45 0 1 0 10.9 0a5.45 5.45 0 1 0 -10.9 0zM316.4 373.4a5.45 5.45 0 1 0 10.9 0a5.45 5.45 0 1 0 -10.9 0zM321.2 371.9a5.45 5.45 0 1 0 10.9 0a5.45 5.45 0 1 0 -10.9 0zM325.1 373.0a5.45 5.45 0 1 0 10.9 0a5.45 5.45 0 1 0 -10.9 0zM313.7 377.8a5.45 5.45 0 1 0 10.9 0a5.45 5.45 0 1 0 -10.9 0zM318.9 376.0a5.45 5.45 0 1 0 10.9 0a5.45 5.45 0 1 0 -10.9 0zM323.4 377.4a5.45 5.45 0 1 0 10.9 0a5.45 5.45 0 1 0 -10.9 0zM248.8 349.5a5.45 5.45 0 1 0 10.9 0a5.45 5.45 0 1 0 -10.9 0zM253.7 349.9a5.45 5.45 0 1 0 10.9 0a5.45 5.45 0 1 0 -10.9 0zM258.1 349.8a5.45 5.45 0 1 0 10.9 0a5.45 5.45 0 1 0 -10.9 0zM251.7 353.2a5.45 5.45 0 1 0 10.9 0a5.45 5.45 0 1 0 -10.9 0zM256.2 352.1a5.45 5.45 0 1 0 10.9 0a5.45 5.45 0 1 0 -10.9 0zM259.8 352.4a5.45 5.45 0 1 0 10.9 0a5.45 5.45 0 1 0 -10.9 0zM252.7 357.6a5.45 5.45 0 1 0 10.9 0a5.45 5.45 0 1 0 -10.9 0zM258.1 356.1a5.45 5.45 0 1 0 10.9 0a5.45 5.45 0 1 0 -10.9 0zM262.7 356.1a5.45 5.45 0 1 0 10.9 0a5.45 5.45 0 1 0 -10.9 0zM251.1 359.9a5.45 5.45 0 1 0 10.9 0a5.45 5.45 0 1 0 -10.9 0zM254.4 361.4a5.45 5.45 0 1 0 10.9 0a5.45 5.45 0 1 0 -10.9 0zM259.2 360.1a5.45 5.45 0 1 0 10.9 0a5.45 5.45 0 1 0 -10.9 0zM312.4 379.8a5.45 5.45 0 1 0 10.9 0a5.45 5.45 0 1 0 -10.9 0zM285.2 322.7a5.45 5.45 0 1 0 10.9 0a5.45 5.45 0 1 0 -10.9 0zM242.6 363.6a5.45 5.45 0 1 0 10.9 0a5.45 5.45 0 1 0 -10.9 0zM283.9 373.5a5.45 5.45 0 1 0 10.9 0a5.45 5.45 0 1 0 -10.9 0zM275.4 374.6a5.45 5.45 0 1 0 10.9 0a5.45 5.45 0 1 0 -10.9 0zM266.6 377.8a5.45 5.45 0 1 0 10.9 0a5.45 5.45 0 1 0 -10.9 0zM306.8 338.2a5.45 5.45 0 1 0 10.9 0a5.45 5.45 0 1 0 -10.9 0zM289.9 365.6a5.45 5.45 0 1 0 10.9 0a5.45 5.45 0 1 0 -10.9 0zM259.6 352.5a5.45 5.45 0 1 0 10.9 0a5.45 5.45 0 1 0 -10.9 0zM313.4 323.1a5.45 5.45 0 1 0 10.9 0a5.45 5.45 0 1 0 -10.9 0zM216.7 326.3a5.45 5.45 0 1 0 10.9 0a5.45 5.45 0 1 0 -10.9 0zM220.2 328.6a5.45 5.45 0 1 0 10.9 0a5.45 5.45 0 1 0 -10.9 0zM254.6 303.4a5.45 5.45 0 1 0 10.9 0a5.45 5.45 0 1 0 -10.9 0zM244.4 320.9a5.45 5.45 0 1 0 10.9 0a5.45 5.45 0 1 0 -10.9 0zM225.5 326.8a5.45 5.45 0 1 0 10.9 0a5.45 5.45 0 1 0 -10.9 0zM229.1 330.8a5.45 5.45 0 1 0 10.9 0a5.45 5.45 0 1 0 -10.9 0zM197.6 342.2a5.45 5.45 0 1 0 10.9 0a5.45 5.45 0 1 0 -10.9 0zM191.6 341.4a5.45 5.45 0 1 0 10.9 0a5.45 5.45 0 1 0 -10.9 0zM234.8 385.5a5.45 5.45 0 1 0 10.9 0a5.45 5.45 0 1 0 -10.9 0zM218.2 389.1a5.45 5.45 0 1 0 10.9 0a5.45 5.45 0 1 0 -10.9 0zM221.7 390.4a5.45 5.45 0 1 0 10.9 0a5.45 5.45 0 1 0 -10.9 0zM228.0 388.5a5.45 5.45 0 1 0 10.9 0a5.45 5.45 0 1 0 -10.9 0zM232.9 390.0a5.45 5.45 0 1 0 10.9 0a5.45 5.45 0 1 0 -10.9 0zM237.1 389.9a5.45 5.45 0 1 0 10.9 0a5.45 5.45 0 1 0 -10.9 0zM221.1 393.7a5.45 5.45 0 1 0 10.9 0a5.45 5.45 0 1 0 -10.9 0zM226.4 393.8a5.45 5.45 0 1 0 10.9 0a5.45 5.45 0 1 0 -10.9 0zM230.5 395.0a5.45 5.45 0 1 0 10.9 0a5.45 5.45 0 1 0 -10.9 0zM235.9 392.9a5.45 5.45 0 1 0 10.9 0a5.45 5.45 0 1 0 -10.9 0zM240.8 394.4a5.45 5.45 0 1 0 10.9 0a5.45 5.45 0 1 0 -10.9 0zM218.2 398.5a5.45 5.45 0 1 0 10.9 0a5.45 5.45 0 1 0 -10.9 0zM221.5 398.4a5.45 5.45 0 1 0 10.9 0a5.45 5.45 0 1 0 -10.9 0zM226.8 399.3a5.45 5.45 0 1 0 10.9 0a5.45 5.45 0 1 0 -10.9 0zM232.8 397.4a5.45 5.45 0 1 0 10.9 0a5.45 5.45 0 1 0 -10.9 0zM238.9 397.4a5.45 5.45 0 1 0 10.9 0a5.45 5.45 0 1 0 -10.9 0zM242.6 397.2a5.45 5.45 0 1 0 10.9 0a5.45 5.45 0 1 0 -10.9 0zM215.2 401.9a5.45 5.45 0 1 0 10.9 0a5.45 5.45 0 1 0 -10.9 0zM219.9 401.9a5.45 5.45 0 1 0 10.9 0a5.45 5.45 0 1 0 -10.9 0zM224.9 403.5a5.45 5.45 0 1 0 10.9 0a5.45 5.45 0 1 0 -10.9 0zM230.2 402.9a5.45 5.45 0 1 0 10.9 0a5.45 5.45 0 1 0 -10.9 0zM235.4 402.8a5.45 5.45 0 1 0 10.9 0a5.45 5.45 0 1 0 -10.9 0zM240.9 401.9a5.45 5.45 0 1 0 10.9 0a5.45 5.45 0 1 0 -10.9 0zM218.2 408.7a5.45 5.45 0 1 0 10.9 0a5.45 5.45 0 1 0 -10.9 0zM221.2 406.5a5.45 5.45 0 1 0 10.9 0a5.45 5.45 0 1 0 -10.9 0zM228.2 407.7a5.45 5.45 0 1 0 10.9 0a5.45 5.45 0 1 0 -10.9 0zM231.5 408.1a5.45 5.45 0 1 0 10.9 0a5.45 5.45 0 1 0 -10.9 0zM239.2 407.3a5.45 5.45 0 1 0 10.9 0a5.45 5.45 0 1 0 -10.9 0zM242.8 407.7a5.45 5.45 0 1 0 10.9 0a5.45 5.45 0 1 0 -10.9 0zM219.2 411.1a5.45 5.45 0 1 0 10.9 0a5.45 5.45 0 1 0 -10.9 0zM225.4 411.9a5.45 5.45 0 1 0 10.9 0a5.45 5.45 0 1 0 -10.9 0zM229.5 411.7a5.45 5.45 0 1 0 10.9 0a5.45 5.45 0 1 0 -10.9 0zM234.1 411.5a5.45 5.45 0 1 0 10.9 0a5.45 5.45 0 1 0 -10.9 0zM226.8 415.8a5.45 5.45 0 1 0 10.9 0a5.45 5.45 0 1 0 -10.9 0zM559.9 55.1a5.45 5.45 0 1 0 10.9 0a5.45 5.45 0 1 0 -10.9 0zM696.1 220.0a5.45 5.45 0 1 0 10.9 0a5.45 5.45 0 1 0 -10.9 0zM703.0 303.0a5.45 5.45 0 1 0 10.9 0a5.45 5.45 0 1 0 -10.9 0zM679.6 336.1a5.45 5.45 0 1 0 10.9 0a5.45 5.45 0 1 0 -10.9 0zM790.2 376.3a5.45 5.45 0 1 0 10.9 0a5.45 5.45 0 1 0 -10.9 0zM471.1 190.9a5.45 5.45 0 1 0 10.9 0a5.45 5.45 0 1 0 -10.9 0zM455.9 243.2a5.45 5.45 0 1 0 10.9 0a5.45 5.45 0 1 0 -10.9 0zM453.4 285.3a5.45 5.45 0 1 0 10.9 0a5.45 5.45 0 1 0 -10.9 0zM468.6 344.2a5.45 5.45 0 1 0 10.9 0a5.45 5.45 0 1 0 -10.9 0zM459.8 377.8a5.45 5.45 0 1 0 10.9 0a5.45 5.45 0 1 0 -10.9 0zM520.3 279.3a5.45 5.45 0 1 0 10.9 0a5.45 5.45 0 1 0 -10.9 0zM533.9 347.2a5.45 5.45 0 1 0 10.9 0a5.45 5.45 0 1 0 -10.9 0zM506.7 373.5a5.45 5.45 0 1 0 10.9 0a5.45 5.45 0 1 0 -10.9 0zM540.5 374.5a5.45 5.45 0 1 0 10.9 0a5.45 5.45 0 1 0 -10.9 0zM604.9 335.6a5.45 5.45 0 1 0 10.9 0a5.45 5.45 0 1 0 -10.9 0zM634.0 299.5a5.45 5.45 0 1 0 10.9 0a5.45 5.45 0 1 0 -10.9 0zM642.1 294.9a5.45 5.45 0 1 0 10.9 0a5.45 5.45 0 1 0 -10.9 0zM447.4 118.6a5.45 5.45 0 1 0 10.9 0a5.45 5.45 0 1 0 -10.9 0zM409.7 224.5a5.45 5.45 0 1 0 10.9 0a5.45 5.45 0 1 0 -10.9 0zM438.4 271.1a5.45 5.45 0 1 0 10.9 0a5.45 5.45 0 1 0 -10.9 0zM338.2 280.8a5.45 5.45 0 1 0 10.9 0a5.45 5.45 0 1 0 -10.9 0zM358.7 278.9a5.45 5.45 0 1 0 10.9 0a5.45 5.45 0 1 0 -10.9 0zM390.7 304.1a5.45 5.45 0 1 0 10.9 0a5.45 5.45 0 1 0 -10.9 0zM346.2 306.0a5.45 5.45 0 1 0 10.9 0a5.45 5.45 0 1 0 -10.9 0zM370.1 312.7a5.45 5.45 0 1 0 10.9 0a5.45 5.45 0 1 0 -10.9 0zM354.9 320.1a5.45 5.45 0 1 0 10.9 0a5.45 5.45 0 1 0 -10.9 0zM383.2 320.6a5.45 5.45 0 1 0 10.9 0a5.45 5.45 0 1 0 -10.9 0zM390.9 325.0a5.45 5.45 0 1 0 10.9 0a5.45 5.45 0 1 0 -10.9 0zM331.2 321.6a5.45 5.45 0 1 0 10.9 0a5.45 5.45 0 1 0 -10.9 0zM342.6 325.0a5.45 5.45 0 1 0 10.9 0a5.45 5.45 0 1 0 -10.9 0zM332.2 333.5a5.45 5.45 0 1 0 10.9 0a5.45 5.45 0 1 0 -10.9 0zM373.7 335.0a5.45 5.45 0 1 0 10.9 0a5.45 5.45 0 1 0 -10.9 0zM397.4 347.5a5.45 5.45 0 1 0 10.9 0a5.45 5.45 0 1 0 -10.9 0zM355.2 350.4a5.45 5.45 0 1 0 10.9 0a5.45 5.45 0 1 0 -10.9 0zM363.9 351.3a5.45 5.45 0 1 0 10.9 0a5.45 5.45 0 1 0 -10.9 0zM337.9 368.0a5.45 5.45 0 1 0 10.9 0a5.45 5.45 0 1 0 -10.9 0zM357.2 377.9a5.45 5.45 0 1 0 10.9 0a5.45 5.45 0 1 0 -10.9 0zM396.2 362.9a5.45 5.45 0 1 0 10.9 0a5.45 5.45 0 1 0 -10.9 0zM406.4 377.5a5.45 5.45 0 1 0 10.9 0a5.45 5.45 0 1 0 -10.9 0zM420.1 374.3a5.45 5.45 0 1 0 10.9 0a5.45 5.45 0 1 0 -10.9 0zM424.4 342.8a5.45 5.45 0 1 0 10.9 0a5.45 5.45 0 1 0 -10.9 0zM425.4 352.8a5.45 5.45 0 1 0 10.9 0a5.45 5.45 0 1 0 -10.9 0zM434.9 289.9a5.45 5.45 0 1 0 10.9 0a5.45 5.45 0 1 0 -10.9 0zM298.4 260.9a5.45 5.45 0 1 0 10.9 0a5.45 5.45 0 1 0 -10.9 0zM300.4 274.8a5.45 5.45 0 1 0 10.9 0a5.45 5.45 0 1 0 -10.9 0zM319.1 279.6a5.45 5.45 0 1 0 10.9 0a5.45 5.45 0 1 0 -10.9 0zM259.2 294.7a5.45 5.45 0 1 0 10.9 0a5.45 5.45 0 1 0 -10.9 0zM294.7 294.7a5.45 5.45 0 1 0 10.9 0a5.45 5.45 0 1 0 -10.9 0zM317.4 297.9a5.45 5.45 0 1 0 10.9 0a5.45 5.45 0 1 0 -10.9 0zM241.0 301.1a5.45 5.45 0 1 0 10.9 0a5.45 5.45 0 1 0 -10.9 0zM280.8 302.9a5.45 5.45 0 1 0 10.9 0a5.45 5.45 0 1 0 -10.9 0zM302.7 305.5a5.45 5.45 0 1 0 10.9 0a5.45 5.45 0 1 0 -10.9 0zM270.1 309.9a5.45 5.45 0 1 0 10.9 0a5.45 5.45 0 1 0 -10.9 0zM242.2 312.4a5.45 5.45 0 1 0 10.9 0a5.45 5.45 0 1 0 -10.9 0zM261.2 313.7a5.45 5.45 0 1 0 10.9 0a5.45 5.45 0 1 0 -10.9 0zM280.2 313.7a5.45 5.45 0 1 0 10.9 0a5.45 5.45 0 1 0 -10.9 0zM316.6 311.2a5.45 5.45 0 1 0 10.9 0a5.45 5.45 0 1 0 -10.9 0zM318.1 318.7a5.45 5.45 0 1 0 10.9 0a5.45 5.45 0 1 0 -10.9 0zM287.8 316.2a5.45 5.45 0 1 0 10.9 0a5.45 5.45 0 1 0 -10.9 0zM318.7 346.6a5.45 5.45 0 1 0 10.9 0a5.45 5.45 0 1 0 -10.9 0zM318.1 370.6a5.45 5.45 0 1 0 10.9 0a5.45 5.45 0 1 0 -10.9 0zM320.6 373.2a5.45 5.45 0 1 0 10.9 0a5.45 5.45 0 1 0 -10.9 0zM319.2 367.5a5.45 5.45 0 1 0 10.9 0a5.45 5.45 0 1 0 -10.9 0zM288.1 415.7a5.45 5.45 0 1 0 10.9 0a5.45 5.45 0 1 0 -10.9 0zM256.2 421.2a5.45 5.45 0 1 0 10.9 0a5.45 5.45 0 1 0 -10.9 0zM242.2 416.1a5.45 5.45 0 1 0 10.9 0a5.45 5.45 0 1 0 -10.9 0zM312.9 360.5a5.45 5.45 0 1 0 10.9 0a5.45 5.45 0 1 0 -10.9 0zM306.7 352.9a5.45 5.45 0 1 0 10.9 0a5.45 5.45 0 1 0 -10.9 0zM285.2 359.3a5.45 5.45 0 1 0 10.9 0a5.45 5.45 0 1 0 -10.9 0zM292.8 383.3a5.45 5.45 0 1 0 10.9 0a5.45 5.45 0 1 0 -10.9 0zM280.2 384.5a5.45 5.45 0 1 0 10.9 0a5.45 5.45 0 1 0 -10.9 0zM285.2 326.4a5.45 5.45 0 1 0 10.9 0a5.45 5.45 0 1 0 -10.9 0zM311.8 336.5a5.45 5.45 0 1 0 10.9 0a5.45 5.45 0 1 0 -10.9 0zM218.7 428.2a5.45 5.45 0 1 0 10.9 0a5.45 5.45 0 1 0 -10.9 0zM224.1 429.5a5.45 5.45 0 1 0 10.9 0a5.45 5.45 0 1 0 -10.9 0zM238.5 441.8a5.45 5.45 0 1 0 10.9 0a5.45 5.45 0 1 0 -10.9 0zM245.2 435.7a5.45 5.45 0 1 0 10.9 0a5.45 5.45 0 1 0 -10.9 0zM252.2 427.5a5.45 5.45 0 1 0 10.9 0a5.45 5.45 0 1 0 -10.9 0zM216.2 396.7a5.45 5.45 0 1 0 10.9 0a5.45 5.45 0 1 0 -10.9 0zM253.4 387.8a5.45 5.45 0 1 0 10.9 0a5.45 5.45 0 1 0 -10.9 0zM287.8 385.1a5.45 5.45 0 1 0 10.9 0a5.45 5.45 0 1 0 -10.9 0zM170.1 379.6a5.45 5.45 0 1 0 10.9 0a5.45 5.45 0 1 0 -10.9 0zM425.2 466.4a5.45 5.45 0 1 0 10.9 0a5.45 5.45 0 1 0 -10.9 0zM530.8 465.2a5.45 5.45 0 1 0 10.9 0a5.45 5.45 0 1 0 -10.9 0zM505.8 551.3a5.45 5.45 0 1 0 10.9 0a5.45 5.45 0 1 0 -10.9 0zM735.6 524.1a5.45 5.45 0 1 0 10.9 0a5.45 5.45 0 1 0 -10.9 0zM315.4 316.1a5.45 5.45 0 1 0 10.9 0a5.45 5.45 0 1 0 -10.9 0zM258.2 303.2a5.45 5.45 0 1 0 10.9 0a5.45 5.45 0 1 0 -10.9 0zM318.2 339.5a5.45 5.45 0 1 0 10.9 0a5.45 5.45 0 1 0 -10.9 0zM276.2 383.2a5.45 5.45 0 1 0 10.9 0a5.45 5.45 0 1 0 -10.9 0zM303.4 340.0a5.45 5.45 0 1 0 10.9 0a5.45 5.45 0 1 0 -10.9 0zM314.1 354.7a5.45 5.45 0 1 0 10.9 0a5.45 5.45 0 1 0 -10.9 0z"/>
<path stroke="#1f77b4" d="M236.5 391.4a5.45 5.45 0 1 0 10.9 0a5.45 5.45 0 1 0 -10.9 0zM240.2 389.3a5.45 5.45 0 1 0 10.9 0a5.45 5.45 0 1 0 -10.9 0zM247.2 389.1a5.45 5.45 0 1 0 10.9 0a5.45 5.45 0 1 0 -10.9 0zM239.2 395.9a5.45 5.45 0 1 0 10.9 0a5.45 5.45 0 1 0 -10.9 0zM244.8 393.8a5.45 5.45 0 1 0 10.9 0a5.45 5.45 0 1 0 -10.9 0zM240.7 398.2a5.45 5.45 0 1 0 10.9 0a5.45 5.45 0 1 0 -10.9 0zM246.8 399.1a5.45 5.45 0 1 0 10.9 0a5.45 5.45 0 1 0 -10.9 0zM238.1 324.0a5.45 5.45 0 1 0 10.9 0a5.45 5.45 0 1 0 -10.9 0zM241.8 323.7a5.45 5.45 0 1 0 10.9 0a5.45 5.45 0 1 0 -10.9 0zM247.2 323.4a5.45 5.45 0 1 0 10.9 0a5.45 5.45 0 1 0 -10.9 0zM234.7 328.0a5.45 5.45 0 1 0 10.9 0a5.45 5.45 0 1 0 -10.9 0zM240.6 327.5a5.45 5.45 0 1 0 10.9 0a5.45 5.45 0 1 0 -10.9 0zM244.1 328.7a5.45 5.45 0 1 0 10.9 0a5.45 5.45 0 1 0 -10.9 0zM249.1 328.4a5.45 5.45 0 1 0 10.9 0a5.45 5.45 0 1 0 -10.9 0zM227.8 331.7a5.45 5.45 0 1 0 10.9 0a5.45 5.45 0 1 0 -10.9 0zM232.2 331.9a5.45 5.45 0 1 0 10.9 0a5.45 5.45 0 1 0 -10.9 0zM238.2 332.4a5.45 5.45 0 1 0 10.9 0a5.45 5.45 0 1 0 -10.9 0zM243.0 332.4a5.45 5.45 0 1 0 10.9 0a5.45 5.45 0 1 0 -10.9 0zM247.6 332.3a5.45 5.45 0 1 0 10.9 0a5.45 5.45 0 1 0 -10.9 0zM225.5 336.2a5.45 5.45 0 1 0 10.9 0a5.45 5.45 0 1 0 -10.9 0zM230.8 336.8a5.45 5.45 0 1 0 10.9 0a5.45 5.45 0 1 0 -10.9 0zM236.2 336.8a5.45 5.45 0 1 0 10.9 0a5.45 5.45 0 1 0 -10.9 0zM239.5 335.8a5.45 5.45 0 1 0 10.9 0a5.45 5.45 0 1 0 -10.9 0zM244.2 336.1a5.45 5.45 0 1 0 10.9 0a5.45 5.45 0 1 0 -10.9 0zM249.4 336.5a5.45 5.45 0 1 0 10.9 0a5.45 5.45 0 1 0 -10.9 0zM218.8 340.6a5.45 5.45 0 1 0 10.9 0a5.45 5.45 0 1 0 -10.9 0zM224.7 340.3a5.45 5.45 0 1 0 10.9 0a5.45 5.45 0 1 0 -10.9 0zM228.4 339.9a5.45 5.45 0 1 0 10.9 0a5.45 5.45 0 1 0 -10.9 0zM233.2 339.1a5.45 5.45 0 1 0 10.9 0a5.45 5.45 0 1 0 -10.9 0zM237.6 340.0a5.45 5.45 0 1 0 10.9 0a5.45 5.45 0 1 0 -10.9 0zM241.7 339.2a5.45 5.45 0 1 0 10.9 0a5.45 5.45 0 1 0 -10.9 0zM247.4 339.7a5.45 5.45 0 1 0 10.9 0a5.45 5.45 0 1 0 -10.9 0zM216.2 343.5a5.45 5.45 0 1 0 10.9 0a5.45 5.45 0 1 0 -10.9 0zM221.4 344.7a5.45 5.45 0 1 0 10.9 0a5.45 5.45 0 1 0 -10.9 0zM225.4 344.4a5.45 5.45 0 1 0 10.9 0a5.45 5.45 0 1 0 -10.9 0zM230.2 344.0a5.45 5.45 0 1 0 10.9 0a5.45 5.45 0 1 0 -10.9 0zM235.2 343.8a5.45 5.45 0 1 0 10.9 0a5.45 5.45 0 1 0 -10.9 0zM240.5 343.7a5.45 5.45 0 1 0 10.9 0a5.45 5.45 0 1 0 -10.9 0zM243.9 343.2a5.45 5.45 0 1 0 10.9 0a5.45 5.45 0 1 0 -10.9 0zM210.9 348.4a5.45 5.45 0 1 0 10.9 0a5.45 5.45 0 1 0 -10.9 0zM215.5 348.5a5.45 5.45 0 1 0 10.9 0a5.45 5.45 0 1 0 -10.9 0zM218.9 347.4a5.45 5.45 0 1 0 10.9 0a5.45 5.45 0 1 0 -10.9 0zM223.9 347.5a5.45 5.45 0 1 0 10.9 0a5.45 5.45 0 1 0 -10.9 0zM228.4 348.2a5.45 5.45 0 1 0 10.9 0a5.45 5.45 0 1 0 -10.9 0zM233.9 348.0a5.45 5.45 0 1 0 10.9 0a5.45 5.45 0 1 0 -10.9 0zM238.2 347.2a5.45 5.45 0 1 0 10.9 0a5.45 5.45 0 1 0 -10.9 0zM242.0 348.8a5.45 5.45 0 1 0 10.9 0a5.45 5.45 0 1 0 -10.9 0zM208.6 352.3a5.45 5.45 0 1 0 10.9 0a5.45 5.45 0 1 0 -10.9 0zM211.7 351.9a5.45 5.45 0 1 0 10.9 0a5.45 5.45 0 1 0 -10.9 0zM217.4 351.4a5.45 5.45 0 1 0 10.9 0a5.45 5.45 0 1 0 -10.9 0zM222.2 351.8a5.45 5.45 0 1 0 10.9 0a5.45 5.45 0 1 0 -10.9 0zM226.6 351.7a5.45 5.45 0 1 0 10.9 0a5.45 5.45 0 1 0 -10.9 0zM231.7 352.4a5.45 5.45 0 1 0 10.9 0a5.45 5.45 0 1 0 -10.9 0zM235.5 351.2a5.45 5.45 0 1 0 10.9 0a5.45 5.45 0 1 0 -10.9 0zM239.9 351.0a5.45 5.45 0 1 0 10.9 0a5.45 5.45 0 1 0 -10.9 0zM201.4 356.5a5.45 5.45 0 1 0 10.9 0a5.45 5.45 0 1 0 -10.9 0zM205.0 356.1a5.45 5.45 0 1 0 10.9 0a5.45 5.45 0 1 0 -10.9 0zM209.9 356.2a5.45 5.45 0 1 0 10.9 0a5.45 5.45 0 1 0 -10.9 0zM215.6 356.1a5.45 5.45 0 1 0 10.9 0a5.45 5.45 0 1 0 -10.9 0zM218.4 355.8a5.45 5.45 0 1 0 10.9 0a5.45 5.45 0 1 0 -10.9 0zM224.2 356.5a5.45 5.45 0 1 0 10.9 0a5.45 5.45 0 1 0 -10.9 0zM228.8 356.4a5.45 5.45 0 1 0 10.9 0a5.45 5.45 0 1 0 -10.9 0zM232.2 356.7a5.45 5.45 0 1 0 10.9 0a5.45 5.45 0 1 0 -10.9 0zM238.1 356.0a5.45 5.45 0 1 0 10.9 0a5.45 5.45 0 1 0 -10.9 0zM243.0 356.5a5.45 5.45 0 1 0 10.9 0a5.45 5.45 0 1 0 -10.9 0zM198.7 359.8a5.45 5.45 0 1 0 10.9 0a5.45 5.45 0 1 0 -10.9 0zM202.7 360.7a5.45 5.45 0 1 0 10.9 0a5.45 5.45 0 1 0 -10.9 0zM207.0 358.9a5.45 5.45 0 1 0 10.9 0a5.45 5.45 0 1 0 -10.9 0zM212.4 360.4a5.45 5.45 0 1 0 10.9 0a5.45 5.45 0 1 0 -10.9 0zM217.2 360.3a5.45 5.45 0 1 0 10.9 0a5.45 5.45 0 1 0 -10.9 0zM221.6 360.2a5.45 5.45 0 1 0 10.9 0a5.45 5.45 0 1 0 -10.9 0zM225.9 359.4a5.45 5.45 0 1 0 10.9 0a5.45 5.45 0 1 0 -10.9 0zM230.8 359.0a5.45 5.45 0 1 0 10.9 0a5.45 5.45 0 1 0 -10.9 0zM234.6 360.3a5.45 5.45 0 1 0 10.9 0a5.45 5.45 0 1 0 -10.9 0zM239.4 360.3a5.45 5.45 0 1 0 10.9 0a5.45 5.45 0 1 0 -10.9 0zM190.8 363.9a5.45 5.45 0 1 0 10.9 0a5.45 5.45 0 1 0 -10.9 0zM197.1 363.6a5.45 5.45 0 1 0 10.9 0a5.45 5.45 0 1 0 -10.9 0zM201.0 363.6a5.45 5.45 0 1 0 10.9 0a5.45 5.45 0 1 0 -10.9 0zM205.4 364.5a5.45 5.45 0 1 0 10.9 0a5.45 5.45 0 1 0 -10.9 0zM209.8 364.1a5.45 5.45 0 1 0 10.9 0a5.45 5.45 0 1 0 -10.9 0zM214.7 363.9a5.45 5.45 0 1 0 10.9 0a5.45 5.45 0 1 0 -10.9 0zM220.0 363.1a5.45 5.45 0 1 0 10.9 0a5.45 5.45 0 1 0 -10.9 0zM224.5 363.5a5.45 5.45 0 1 0 10.9 0a5.45 5.45 0 1 0 -10.9 0zM228.8 364.4a5.45 5.45 0 1 0 10.9 0a5.45 5.45 0 1 0 -10.9 0zM233.4 363.6a5.45 5.45 0 1 0 10.9 0a5.45 5.45 0 1 0 -10.9 0zM238.2 363.1a5.45 5.45 0 1 0 10.9 0a5.45 5.45 0 1 0 -10.9 0zM242.5 363.6a5.45 5.45 0 1 0 10.9 0a5.45 5.45 0 1 0 -10.9 0zM184.7 367.3a5.45 5.45 0 1 0 10.9 0a5.45 5.45 0 1 0 -10.9 0zM189.0 368.6a5.45 5.45 0 1 0 10.9 0a5.45 5.45 0 1 0 -10.9 0zM193.2 368.4a5.45 5.45 0 1 0 10.9 0a5.45 5.45 0 1 0 -10.9 0zM198.4 367.6a5.45 5.45 0 1 0 10.9 0a5.45 5.45 0 1 0 -10.9 0zM202.9 367.0a5.45 5.45 0 1 0 10.9 0a5.45 5.45 0 1 0 -10.9 0zM207.7 367.2a5.45 5.45 0 1 0 10.9 0a5.45 5.45 0 1 0 -10.9 0zM212.2 367.4a5.45 5.45 0 1 0 10.9 0a5.45 5.45 0 1 0 -10.9 0zM217.7 368.6a5.45 5.45 0 1 0 10.9 0a5.45 5.45 0 1 0 -10.9 0zM221.5 368.1a5.45 5.45 0 1 0 10.9 0a5.45 5.45 0 1 0 -10.9 0zM227.0 367.5a5.45 5.45 0 1 0 10.9 0a5.45 5.45 0 1 0 -10.9 0zM230.1 367.3a5.45 5.45 0 1 0 10.9 0a5.45 5.45 0 1 0 -10.9 0zM234.8 368.1a5.45 5.45 0 1 0 10.9 0a5.45 5.45 0 1 0 -10.9 0zM239.8 367.5a5.45 5.45 0 1 0 10.9 0a5.45 5.45 0 1 0 -10.9 0zM177.7 372.4a5.45 5.45 0 1 0 10.9 0a5.45 5.45 0 1 0 -10.9 0zM182.2 372.5a5.45 5.45 0 1 0 10.9 0a5.45 5.45 0 1 0 -10.9 0zM187.9 371.8a5.45 5.45 0 1 0 10.9 0a5.45 5.45 0 1 0 -10.9 0zM192.0 372.6a5.45 5.45 0 1 0 10.9 0a5.45 5.45 0 1 0 -10.9 0zM196.7 372.2a5.45 5.45 0 1 0 10.9 0a5.45 5.45 0 1 0 -10.9 0zM201.6 372.6a5.45 5.45 0 1 0 10.9 0a5.45 5.45 0 1 0 -10.9 0zM206.0 372.6a5.45 5.45 0 1 0 10.9 0a5.45 5.45 0 1 0 -10.9 0zM209.7 372.0a5.45 5.45 0 1 0 10.9 0a5.45 5.45 0 1 0 -10.9 0zM215.0 371.5a5.45 5.45 0 1 0 10.9 0a5.45 5.45 0 1 0 -10.9 0zM219.1 371.2a5.45 5.45 0 1 0 10.9 0a5.45 5.45 0 1 0 -10.9 0zM224.7 371.5a5.45 5.45 0 1 0 10.9 0a5.45 5.45 0 1 0 -10.9 0zM228.5 372.5a5.45 5.45 0 1 0 10.9 0a5.45 5.45 0 1 0 -10.9 0zM232.5 372.6a5.45 5.45 0 1 0 10.9 0a5.45 5.45 0 1 0 -10.9 0zM237.0 370.9a5.45 5.45 0 1 0 10.9 0a5.45 5.45 0 1 0 -10.9 0zM242.0 371.5a5.45 5.45 0 1 0 10.9 0a5.45 5.45 0 1 0 -10.9 0zM247.7 372.5a5.45 5.45 0 1 0 10.9 0a5.45 5.45 0 1 0 -10.9 0zM176.1 375.7a5.45 5.45 0 1 0 10.9 0a5.45 5.45 0 1 0 -10.9 0zM180.2 375.3a5.45 5.45 0 1 0 10.9 0a5.45 5.45 0 1 0 -10.9 0zM185.4 375.6a5.45 5.45 0 1 0 10.9 0a5.45 5.45 0 1 0 -10.9 0zM189.0 376.0a5.45 5.45 0 1 0 10.9 0a5.45 5.45 0 1 0 -10.9 0zM193.4 375.4a5.45 5.45 0 1 0 10.9 0a5.45 5.45 0 1 0 -10.9 0zM199.4 375.0a5.45 5.45 0 1 0 10.9 0a5.45 5.45 0 1 0 -10.9 0zM202.6 375.2a5.45 5.45 0 1 0 10.9 0a5.45 5.45 0 1 0 -10.9 0zM207.4 375.6a5.45 5.45 0 1 0 10.9 0a5.45 5.45 0 1 0 -10.9 0zM212.0 375.5a5.45 5.45 0 1 0 10.9 0a5.45 5.45 0 1 0 -10.9 0zM216.5 375.3a5.45 5.45 0 1 0 10.9 0a5.45 5.45 0 1 0 -10.9 0zM221.8 375.5a5.45 5.45 0 1 0 10.9 0a5.45 5.45 0 1 0 -10.9 0zM226.0 376.3a5.45 5.45 0 1 0 10.9 0a5.45 5.45 0 1 0 -10.9 0zM230.0 375.1a5.45 5.45 0 1 0 10.9 0a5.45 5.45 0 1 0 -10.9 0zM236.0 375.6a5.45 5.45 0 1 0 10.9 0a5.45 5.45 0 1 0 -10.9 0zM240.5 375.1a5.45 5.45 0 1 0 10.9 0a5.45 5.45 0 1 0 -10.9 0zM244.6 376.4a5.45 5.45 0 1 0 10.9 0a5.45 5.45 0 1 0 -10.9 0zM248.9 376.3a5.45 5.45 0 1 0 10.9 0a5.45 5.45 0 1 0 -10.9 0zM178.1 379.6a5.45 5.45 0 1 0 10.9 0a5.45 5.45 0 1 0 -10.9 0zM183.4 379.6a5.45 5.45 0 1 0 10.9 0a5.45 5.45 0 1 0 -10.9 0zM187.1 380.0a5.45 5.45 0 1 0 10.9 0a5.45 5.45 0 1 0 -10.9 0zM191.4 380.4a5.45 5.45 0 1 0 10.9 0a5.45 5.45 0 1 0 -10.9 0zM196.5 379.9a5.45 5.45 0 1 0 10.9 0a5.45 5.45 0 1 0 -10.9 0zM201.0 380.6a5.45 5.45 0 1 0 10.9 0a5.45 5.45 0 1 0 -10.9 0zM206.4 380.4a5.45 5.45 0 1 0 10.9 0a5.45 5.45 0 1 0 -10.9 0zM210.0 379.6a5.45 5.45 0 1 0 10.9 0a5.45 5.45 0 1 0 -10.9 0zM214.7 378.9a5.45 5.45 0 1 0 10.9 0a5.45 5.45 0 1 0 -10.9 0zM218.6 380.6a5.45 5.45 0 1 0 10.9 0a5.45 5.45 0 1 0 -10.9 0zM223.2 380.5a5.45 5.45 0 1 0 10.9 0a5.45 5.45 0 1 0 -10.9 0zM228.8 380.5a5.45 5.45 0 1 0 10.9 0a5.45 5.45 0 1 0 -10.9 0zM232.2 379.4a5.45 5.45 0 1 0 10.9 0a5.45 5.45 0 1 0 -10.9 0zM238.2 378.9a5.45 5.45 0 1 0 10.9 0a5.45 5.45 0 1 0 -10.9 0zM241.6 379.5a5.45 5.45 0 1 0 10.9 0a5.45 5.45 0 1 0 -10.9 0zM246.2 379.1a5.45 5.45 0 1 0 10.9 0a5.45 5.45 0 1 0 -10.9 0zM175.9 383.0a5.45 5.45 0 1 0 10.9 0a5.45 5.45 0 1 0 -10.9 0zM181.0 384.0a5.45 5.45 0 1 0 10.9 0a5.45 5.45 0 1 0 -10.9 0zM184.0 384.5a5.45 5.45 0 1 0 10.9 0a5.45 5.45 0 1 0 -10.9 0zM188.9 383.7a5.45 5.45 0 1 0 10.9 0a5.45 5.45 0 1 0 -10.9 0zM194.1 383.1a5.45 5.45 0 1 0 10.9 0a5.45 5.45 0 1 0 -10.9 0zM198.6 382.9a5.45 5.45 0 1 0 10.9 0a5.45 5.45 0 1 0 -10.9 0zM202.7 384.5a5.45 5.45 0 1 0 10.9 0a5.45 5.45 0 1 0 -10.9 0zM208.4 383.8a5.45 5.45 0 1 0 10.9 0a5.45 5.45 0 1 0 -10.9 0zM212.7 384.4a5.45 5.45 0 1 0 10.9 0a5.45 5.45 0 1 0 -10.9 0zM216.4 383.7a5.45 5.45 0 1 0 10.9 0a5.45 5.45 0 1 0 -10.9 0zM220.9 383.0a5.45 5.45 0 1 0 10.9 0a5.45 5.45 0 1 0 -10.9 0zM225.5 383.2a5.45 5.45 0 1 0 10.9 0a5.45 5.45 0 1 0 -10.9 0zM230.0 383.2a5.45 5.45 0 1 0 10.9 0a5.45 5.45 0 1 0 -10.9 0zM235.2 384.0a5.45 5.45 0 1 0 10.9 0a5.45 5.45 0 1 0 -10.9 0zM240.6 384.5a5.45 5.45 0 1 0 10.9 0a5.45 5.45 0 1 0 -10.9 0zM245.0 383.8a5.45 5.45 0 1 0 10.9 0a5.45 5.45 0 1 0 -10.9 0zM182.7 387.2a5.45 5.45 0 1 0 10.9 0a5.45 5.45 0 1 0 -10.9 0zM186.9 387.4a5.45 5.45 0 1 0 10.9 0a5.45 5.45 0 1 0 -10.9 0zM191.6 387.6a5.45 5.45 0 1 0 10.9 0a5.45 5.45 0 1 0 -10.9 0zM201.5 387.8a5.45 5.45 0 1 0 10.9 0a5.45 5.45 0 1 0 -10.9 0zM205.5 387.3a5.45 5.45 0 1 0 10.9 0a5.45 5.45 0 1 0 -10.9 0zM223.1 387.8a5.45 5.45 0 1 0 10.9 0a5.45 5.45 0 1 0 -10.9 0zM228.0 387.2a5.45 5.45 0 1 0 10.9 0a5.45 5.45 0 1 0 -10.9 0zM233.2 388.0a5.45 5.45 0 1 0 10.9 0a5.45 5.45 0 1 0 -10.9 0zM182.8 389.5a5.45 5.45 0 1 0 10.9 0a5.45 5.45 0 1 0 -10.9 0zM221.9 388.5a5.45 5.45 0 1 0 10.9 0a5.45 5.45 0 1 0 -10.9 0zM180.2 394.9a5.45 5.45 0 1 0 10.9 0a5.45 5.45 0 1 0 -10.9 0zM186.6 394.6a5.45 5.45 0 1 0 10.9 0a5.45 5.45 0 1 0 -10.9 0zM193.6 394.8a5.45 5.45 0 1 0 10.9 0a5.45 5.45 0 1 0 -10.9 0zM196.9 395.1a5.45 5.45 0 1 0 10.9 0a5.45 5.45 0 1 0 -10.9 0zM204.2 394.7a5.45 5.45 0 1 0 10.9 0a5.45 5.45 0 1 0 -10.9 0zM211.1 393.2a5.45 5.45 0 1 0 10.9 0a5.45 5.45 0 1 0 -10.9 0zM216.6 393.2a5.45 5.45 0 1 0 10.9 0a5.45 5.45 0 1 0 -10.9 0zM177.7 399.9a5.45 5.45 0 1 0 10.9 0a5.45 5.45 0 1 0 -10.9 0zM182.2 400.2a5.45 5.45 0 1 0 10.9 0a5.45 5.45 0 1 0 -10.9 0zM186.8 399.9a5.45 5.45 0 1 0 10.9 0a5.45 5.45 0 1 0 -10.9 0zM194.6 397.7a5.45 5.45 0 1 0 10.9 0a5.45 5.45 0 1 0 -10.9 0zM199.9 399.2a5.45 5.45 0 1 0 10.9 0a5.45 5.45 0 1 0 -10.9 0zM206.5 398.9a5.45 5.45 0 1 0 10.9 0a5.45 5.45 0 1 0 -10.9 0zM176.9 405.3a5.45 5.45 0 1 0 10.9 0a5.45 5.45 0 1 0 -10.9 0zM187.2 404.1a5.45 5.45 0 1 0 10.9 0a5.45 5.45 0 1 0 -10.9 0zM192.6 406.5a5.45 5.45 0 1 0 10.9 0a5.45 5.45 0 1 0 -10.9 0zM196.0 403.1a5.45 5.45 0 1 0 10.9 0a5.45 5.45 0 1 0 -10.9 0zM205.7 406.1a5.45 5.45 0 1 0 10.9 0a5.45 5.45 0 1 0 -10.9 0zM188.9 411.1a5.45 5.45 0 1 0 10.9 0a5.45 5.45 0 1 0 -10.9 0zM193.5 410.7a5.45 5.45 0 1 0 10.9 0a5.45 5.45 0 1 0 -10.9 0zM201.6 410.6a5.45 5.45 0 1 0 10.9 0a5.45 5.45 0 1 0 -10.9 0zM190.9 413.9a5.45 5.45 0 1 0 10.9 0a5.45 5.45 0 1 0 -10.9 0zM211.7 387.0a5.45 5.45 0 1 0 10.9 0a5.45 5.45 0 1 0 -10.9 0zM226.2 331.4a5.45 5.45 0 1 0 10.9 0a5.45 5.45 0 1 0 -10.9 0zM196.4 403.5a5.45 5.45 0 1 0 10.9 0a5.45 5.45 0 1 0 -10.9 0zM228.1 381.0a5.45 5.45 0 1 0 10.9 0a5.45 5.45 0 1 0 -10.9 0zM218.0 387.4a5.45 5.45 0 1 0 10.9 0a5.45 5.45 0 1 0 -10.9 0zM186.6 363.5a5.45 5.45 0 1 0 10.9 0a5.45 5.45 0 1 0 -10.9 0zM187.9 413.8a5.45 5.45 0 1 0 10.9 0a5.45 5.45 0 1 0 -10.9 0zM180.1 404.4a5.45 5.45 0 1 0 10.9 0a5.45 5.45 0 1 0 -10.9 0zM181.2 390.2a5.45 5.45 0 1 0 10.9 0a5.45 5.45 0 1 0 -10.9 0zM201.2 359.7a5.45 5.45 0 1 0 10.9 0a5.45 5.45 0 1 0 -10.9 0zM239.6 318.0a5.45 5.45 0 1 0 10.9 0a5.45 5.45 0 1 0 -10.9 0zM180.2 414.8a5.45 5.45 0 1 0 10.9 0a5.45 5.45 0 1 0 -10.9 0zM184.2 361.7a5.45 5.45 0 1 0 10.9 0a5.45 5.45 0 1 0 -10.9 0zM222.8 333.7a5.45 5.45 0 1 0 10.9 0a5.45 5.45 0 1 0 -10.9 0zM188.6 404.1a5.45 5.45 0 1 0 10.9 0a5.45 5.45 0 1 0 -10.9 0zM206.0 361.2a5.45 5.45 0 1 0 10.9 0a5.45 5.45 0 1 0 -10.9 0zM220.9 367.5a5.45 5.45 0 1 0 10.9 0a5.45 5.45 0 1 0 -10.9 0zM202.7 355.2a5.45 5.45 0 1 0 10.9 0a5.45 5.45 0 1 0 -10.9 0zM228.0 388.8a5.45 5.45 0 1 0 10.9 0a5.45 5.45 0 1 0 -10.9 0zM203.2 371.2a5.45 5.45 0 1 0 10.9 0a5.45 5.45 0 1 0 -10.9 0zM237.2 370.0a5.45 5.45 0 1 0 10.9 0a5.45 5.45 0 1 0 -10.9 0zM177.7 404.8a5.45 5.45 0 1 0 10.9 0a5.45 5.45 0 1 0 -10.9 0zM208.2 372.1a5.45 5.45 0 1 0 10.9 0a5.45 5.45 0 1 0 -10.9 0zM192.5 362.1a5.45 5.45 0 1 0 10.9 0a5.45 5.45 0 1 0 -10.9 0zM205.1 399.4a5.45 5.45 0 1 0 10.9 0a5.45 5.45 0 1 0 -10.9 0zM183.4 375.4a5.45 5.45 0 1 0 10.9 0a5.45 5.45 0 1 0 -10.9 0zM189.1 391.2a5.45 5.45 0 1 0 10.9 0a5.45 5.45 0 1 0 -10.9 0zM201.8 384.8a5.45 5.45 0 1 0 10.9 0a5.45 5.45 0 1 0 -10.9 0zM179.6 365.6a5.45 5.45 0 1 0 10.9 0a5.45 5.45 0 1 0 -10.9 0zM188.2 415.8a5.45 5.45 0 1 0 10.9 0a5.45 5.45 0 1 0 -10.9 0zM234.2 352.9a5.45 5.45 0 1 0 10.9 0a5.45 5.45 0 1 0 -10.9 0zM178.6 382.9a5.45 5.45 0 1 0 10.9 0a5.45 5.45 0 1 0 -10.9 0zM200.1 401.0a5.45 5.45 0 1 0 10.9 0a5.45 5.45 0 1 0 -10.9 0zM238.8 385.1a5.45 5.45 0 1 0 10.9 0a5.45 5.45 0 1 0 -10.9 0zM193.0 372.9a5.45 5.45 0 1 0 10.9 0a5.45 5.45 0 1 0 -10.9 0zM211.9 383.7a5.45 5.45 0 1 0 10.9 0a5.45 5.45 0 1 0 -10.9 0zM195.6 418.2a5.45 5.45 0 1 0 10.9 0a5.45 5.45 0 1 0 -10.9 0zM243.6 333.5a5.45 5.45 0 1 0 10.9 0a5.45 5.45 0 1 0 -10.9 0zM197.7 410.3a5.45 5.45 0 1 0 10.9 0a5.45 5.45 0 1 0 -10.9 0zM196.8 417.9a5.45 5.45 0 1 0 10.9 0a5.45 5.45 0 1 0 -10.9 0zM214.8 391.2a5.45 5.45 0 1 0 10.9 0a5.45 5.45 0 1 0 -10.9 0zM229.2 339.1a5.45 5.45 0 1 0 10.9 0a5.45 5.45 0 1 0 -10.9 0zM185.6 411.7a5.45 5.45 0 1 0 10.9 0a5.45 5.45 0 1 0 -10.9 0zM207.5 342.1a5.45 5.45 0 1 0 10.9 0a5.45 5.45 0 1 0 -10.9 0zM218.2 383.5a5.45 5.45 0 1 0 10.9 0a5.45 5.45 0 1 0 -10.9 0zM233.4 361.1a5.45 5.45 0 1 0 10.9 0a5.45 5.45 0 1 0 -10.9 0zM235.6 378.7a5.45 5.45 0 1 0 10.9 0a5.45 5.45 0 1 0 -10.9 0zM202.0 355.8a5.45 5.45 0 1 0 10.9 0a5.45 5.45 0 1 0 -10.9 0zM231.5 376.8a5.45 5.45 0 1 0 10.9 0a5.45 5.45 0 1 0 -10.9 0zM176.9 392.7a5.45 5.45 0 1 0 10.9 0a5.45 5.45 0 1 0 -10.9 0zM202.4 349.7a5.45 5.45 0 1 0 10.9 0a5.45 5.45 0 1 0 -10.9 0zM216.8 383.2a5.45 5.45 0 1 0 10.9 0a5.45 5.45 0 1 0 -10.9 0zM185.1 373.7a5.45 5.45 0 1 0 10.9 0a5.45 5.45 0 1 0 -10.9 0zM228.8 358.6a5.45 5.45 0 1 0 10.9 0a5.45 5.45 0 1 0 -10.9 0zM194.2 359.9a5.45 5.45 0 1 0 10.9 0a5.45 5.45 0 1 0 -10.9 0zM200.2 390.0a5.45 5.45 0 1 0 10.9 0a5.45 5.45 0 1 0 -10.9 0zM199.2 391.1a5.45 5.45 0 1 0 10.9 0a5.45 5.45 0 1 0 -10.9 0zM233.2 387.2a5.45 5.45 0 1 0 10.9 0a5.45 5.45 0 1 0 -10.9 0zM246.6 355.5a5.45 5.45 0 1 0 10.9 0a5.45 5.45 0 1 0 -10.9 0zM177.9 368.7a5.45 5.45 0 1 0 10.9 0a5.45 5.45 0 1 0 -10.9 0zM590.5 101.6a5.45 5.45 0 1 0 10.9 0a5.45 5.45 0 1 0 -10.9 0zM533.6 108.4a5.45 5.45 0 1 0 10.9 0a5.45 5.45 0 1 0 -10.9 0zM535.4 145.0a5.45 5.45 0 1 0 10.9 0a5.45 5.45 0 1 0 -10.9 0zM494.2 200.6a5.45 5.45 0 1 0 10.9 0a5.45 5.45 0 1 0 -10.9 0zM657.4 29.8a5.45 5.45 0 1 0 10.9 0a5.45 5.45 0 1 0 -10.9 0zM679.0 299.2a5.45 5.45 0 1 0 10.9 0a5.45 5.45 0 1 0 -10.9 0zM451.7 233.8a5.45 5.45 0 1 0 10.9 0a5.45 5.45 0 1 0 -10.9 0zM454.7 236.1a5.45 5.45 0 1 0 10.9 0a5.45 5.45 0 1 0 -10.9 0zM460.2 299.2a5.45 5.45 0 1 0 10.9 0a5.45 5.45 0 1 0 -10.9 0zM456.4 324.5a5.45 5.45 0 1 0 10.9 0a5.45 5.45 0 1 0 -10.9 0zM460.2 355.6a5.45 5.45 0 1 0 10.9 0a5.45 5.45 0 1 0 -10.9 0zM457.2 366.4a5.45 5.45 0 1 0 10.9 0a5.45 5.45 0 1 0 -10.9 0zM659.8 385.9a5.45 5.45 0 1 0 10.9 0a5.45 5.45 0 1 0 -10.9 0zM423.4 272.8a5.45 5.45 0 1 0 10.9 0a5.45 5.45 0 1 0 -10.9 0zM359.2 293.5a5.45 5.45 0 1 0 10.9 0a5.45 5.45 0 1 0 -10.9 0zM375.6 300.0a5.45 5.45 0 1 0 10.9 0a5.45 5.45 0 1 0 -10.9 0zM405.7 319.9a5.45 5.45 0 1 0 10.9 0a5.45 5.45 0 1 0 -10.9 0zM351.4 329.9a5.45 5.45 0 1 0 10.9 0a5.45 5.45 0 1 0 -10.9 0zM435.6 321.2a5.45 5.45 0 1 0 10.9 0a5.45 5.45 0 1 0 -10.9 0zM420.9 306.8a5.45 5.45 0 1 0 10.9 0a5.45 5.45 0 1 0 -10.9 0zM340.9 410.4a5.45 5.45 0 1 0 10.9 0a5.45 5.45 0 1 0 -10.9 0zM330.9 426.4a5.45 5.45 0 1 0 10.9 0a5.45 5.45 0 1 0 -10.9 0zM287.8 258.4a5.45 5.45 0 1 0 10.9 0a5.45 5.45 0 1 0 -10.9 0zM290.2 275.2a5.45 5.45 0 1 0 10.9 0a5.45 5.45 0 1 0 -10.9 0zM282.4 286.5a5.45 5.45 0 1 0 10.9 0a5.45 5.45 0 1 0 -10.9 0zM267.4 293.7a5.45 5.45 0 1 0 10.9 0a5.45 5.45 0 1 0 -10.9 0zM246.2 314.9a5.45 5.45 0 1 0 10.9 0a5.45 5.45 0 1 0 -10.9 0zM276.9 315.6a5.45 5.45 0 1 0 10.9 0a5.45 5.45 0 1 0 -10.9 0zM258.7 323.9a5.45 5.45 0 1 0 10.9 0a5.45 5.45 0 1 0 -10.9 0zM290.9 328.9a5.45 5.45 0 1 0 10.9 0a5.45 5.45 0 1 0 -10.9 0zM300.4 333.4a5.45 5.45 0 1 0 10.9 0a5.45 5.45 0 1 0 -10.9 0zM287.8 344.1a5.45 5.45 0 1 0 10.9 0a5.45 5.45 0 1 0 -10.9 0zM299.1 346.6a5.45 5.45 0 1 0 10.9 0a5.45 5.45 0 1 0 -10.9 0zM318.1 347.3a5.45 5.45 0 1 0 10.9 0a5.45 5.45 0 1 0 -10.9 0zM282.1 350.4a5.45 5.45 0 1 0 10.9 0a5.45 5.45 0 1 0 -10.9 0zM266.2 349.2a5.45 5.45 0 1 0 10.9 0a5.45 5.45 0 1 0 -10.9 0zM295.9 362.8a5.45 5.45 0 1 0 10.9 0a5.45 5.45 0 1 0 -10.9 0zM303.4 369.4a5.45 5.45 0 1 0 10.9 0a5.45 5.45 0 1 0 -10.9 0zM283.2 375.1a5.45 5.45 0 1 0 10.9 0a5.45 5.45 0 1 0 -10.9 0zM272.6 365.6a5.45 5.45 0 1 0 10.9 0a5.45 5.45 0 1 0 -10.9 0zM264.9 366.8a5.45 5.45 0 1 0 10.9 0a5.45 5.45 0 1 0 -10.9 0zM258.1 373.8a5.45 5.45 0 1 0 10.9 0a5.45 5.45 0 1 0 -10.9 0zM277.7 394.0a5.45 5.45 0 1 0 10.9 0a5.45 5.45 0 1 0 -10.9 0zM265.7 399.1a5.45 5.45 0 1 0 10.9 0a5.45 5.45 0 1 0 -10.9 0zM253.7 388.9a5.45 5.45 0 1 0 10.9 0a5.45 5.45 0 1 0 -10.9 0zM244.2 405.4a5.45 5.45 0 1 0 10.9 0a5.45 5.45 0 1 0 -10.9 0zM300.4 411.1a5.45 5.45 0 1 0 10.9 0a5.45 5.45 0 1 0 -10.9 0zM258.1 421.2a5.45 5.45 0 1 0 10.9 0a5.45 5.45 0 1 0 -10.9 0zM239.8 421.2a5.45 5.45 0 1 0 10.9 0a5.45 5.45 0 1 0 -10.9 0zM227.1 408.5a5.45 5.45 0 1 0 10.9 0a5.45 5.45 0 1 0 -10.9 0zM228.4 418.6a5.45 5.45 0 1 0 10.9 0a5.45 5.45 0 1 0 -10.9 0zM195.4 426.1a5.45 5.45 0 1 0 10.9 0a5.45 5.45 0 1 0 -10.9 0zM256.6 443.2a5.45 5.45 0 1 0 10.9 0a5.45 5.45 0 1 0 -10.9 0zM256.6 446.6a5.45 5.45 0 1 0 10.9 0a5.45 5.45 0 1 0 -10.9 0zM272.7 448.4a5.45 5.45 0 1 0 10.9 0a5.45 5.45 0 1 0 -10.9 0zM290.4 489.1a5.45 5.45 0 1 0 10.9 0a5.45 5.45 0 1 0 -10.9 0zM241.2 415.2a5.45 5.45 0 1 0 10.9 0a5.45 5.45 0 1 0 -10.9 0zM220.0 417.2a5.45 5.45 0 1 0 10.9 0a5.45 5.45 0 1 0 -10.9 0zM331.2 500.3a5.45 5.45 0 1 0 10.9 0a5.45 5.45 0 1 0 -10.9 0zM390.7 527.4a5.45 5.45 0 1 0 10.9 0a5.45 5.45 0 1 0 -10.9 0zM442.6 609.9a5.45 5.45 0 1 0 10.9 0a5.45 5.45 0 1 0 -10.9 0zM772.4 448.6a5.45 5.45 0 1 0 10.9 0a5.45 5.45 0 1 0 -10.9 0zM286.8 329.5a5.45 5.45 0 1 0 10.9 0a5.45 5.45 0 1 0 -10.9 0zM269.1 330.4a5.45 5.45 0 1 0 10.9 0a5.45 5.45 0 1 0 -10.9 0zM274.9 338.8a5.45 5.45 0 1 0 10.9 0a5.45 5.45 0 1 0 -10.9 0zM264.9 337.1a5.45 5.45 0 1 0 10.9 0a5.45 5.45 0 1 0 -10.9 0zM271.6 343.8a5.45 5.45 0 1 0 10.9 0a5.45 5.45 0 1 0 -10.9 0zM283.4 329.5a5.45 5.45 0 1 0 10.9 0a5.45 5.45 0 1 0 -10.9 0zM290.9 346.3a5.45 5.45 0 1 0 10.9 0a5.45 5.45 0 1 0 -10.9 0zM270.9 336.8a5.45 5.45 0 1 0 10.9 0a5.45 5.45 0 1 0 -10.9 0zM278.2 342.1a5.45 5.45 0 1 0 10.9 0a5.45 5.45 0 1 0 -10.9 0zM255.1 323.2a5.45 5.45 0 1 0 10.9 0a5.45 5.45 0 1 0 -10.9 0zM262.9 324.7a5.45 5.45 0 1 0 10.9 0a5.45 5.45 0 1 0 -10.9 0zM278.8 323.2a5.45 5.45 0 1 0 10.9 0a5.45 5.45 0 1 0 -10.9 0zM274.1 331.1a5.45 5.45 0 1 0 10.9 0a5.45 5.45 0 1 0 -10.9 0zM288.2 334.2a5.45 5.45 0 1 0 10.9 0a5.45 5.45 0 1 0 -10.9 0zM283.4 345.3a5.45 5.45 0 1 0 10.9 0a5.45 5.45 0 1 0 -10.9 0zM292.9 342.1a5.45 5.45 0 1 0 10.9 0a5.45 5.45 0 1 0 -10.9 0zM259.9 334.2a5.45 5.45 0 1 0 10.9 0a5.45 5.45 0 1 0 -10.9 0zM239.2 324.7a5.45 5.45 0 1 0 10.9 0a5.45 5.45 0 1 0 -10.9 0zM248.8 334.2a5.45 5.45 0 1 0 10.9 0a5.45 5.45 0 1 0 -10.9 0z"/>
</g>
<rect x="180.0" y="11.9" width="735.0" height="735.80" fill="none" stroke="#000" stroke-width="3.85"/>
<text x="159.7" y="26.60" text-anchor="end">3000</text>
<text x="159.7" y="149.23" text-anchor="end">2000</text>
<text x="159.7" y="271.87" text-anchor="end">1000</text>
<text x="159.7" y="394.50" text-anchor="end">0</text>
<text x="159.7" y="517.13" text-anchor="end">-1000</text>
<text x="159.7" y="639.77" text-anchor="end">-2000</text>
<text x="159.7" y="762.40" text-anchor="end">-3000</text>
<text x="185.00" y="804.50" text-anchor="middle">0</text>
<text x="307.50" y="804.50" text-anchor="middle">5</text>
<text x="430.00" y="804.50" text-anchor="middle">10</text>
<text x="552.50" y="804.50" text-anchor="middle">15</text>
<text x="675.00" y="804.50" text-anchor="middle">20</text>
<text x="797.50" y="804.50" text-anchor="middle">25</text>
<text x="920.00" y="804.50" text-anchor="middle">30</text>
<g transform="translate(32.2 474.20) rotate(-90)"><text x="0" y="0">ZPR<tspan dy="-15.3" class="s">sFr</tspan><tspan dy="15.3">(meV)</tspan></text></g>
<text x="484" y="866.5">m<tspan dy="-17.2" class="s">*</tspan></text>
<text x="536.8" y="866.5">(m<tspan dy="7.9" class="s" style="font-size:27.8px">e</tspan><tspan dy="-7.9">)</tspan></text>
<line x1="180.0" y1="1288.30" x2="915.0" y2="1288.30" stroke="#000" stroke-width="3.85" stroke-dasharray="9.15 13.75"/>
<path d="M363.75 1656.1v-17.0M363.75 920.5v17.0M547.50 1656.1v-17.0M547.50 920.5v17.0M731.25 1656.1v-17.0M731.25 920.5v17.0M180.0 1043.10h17.0M915.0 1043.10h-17.0M180.0 1165.70h17.0M915.0 1165.70h-17.0M180.0 1288.30h17.0M915.0 1288.30h-17.0M180.0 1410.90h17.0M915.0 1410.90h-17.0M180.0 1533.50h17.0M915.0 1533.50h-17.0" stroke="#000" stroke-width="3.85" fill="none"/>
<g fill="none" stroke-width="3.8">
<path stroke="#8c564b" d="M387.2 1267.1a5.45 5.45 0 1 0 10.9 0a5.45 5.45 0 1 0 -10.9 0zM413.1 1262.1a5.45 5.45 0 1 0 10.9 0a5.45 5.45 0 1 0 -10.9 0zM383.9 1266.9a5.45 5.45 0 1 0 10.9 0a5.45 5.45 0 1 0 -10.9 0zM348.6 1275.7a5.45 5.45 0 1 0 10.9 0a5.45 5.45 0 1 0 -10.9 0zM359.2 1267.4a5.45 5.45 0 1 0 10.9 0a5.45 5.45 0 1 0 -10.9 0zM426.4 1265.6a5.45 5.45 0 1 0 10.9 0a5.45 5.45 0 1 0 -10.9 0zM392.4 1273.5a5.45 5.45 0 1 0 10.9 0a5.45 5.45 0 1 0 -10.9 0zM403.1 1275.9a5.45 5.45 0 1 0 10.9 0a5.45 5.45 0 1 0 -10.9 0zM354.4 1274.8a5.45 5.45 0 1 0 10.9 0a5.45 5.45 0 1 0 -10.9 0zM375.1 1306.0a5.45 5.45 0 1 0 10.9 0a5.45 5.45 0 1 0 -10.9 0zM388.4 1254.1a5.45 5.45 0 1 0 10.9 0a5.45 5.45 0 1 0 -10.9 0zM398.2 1263.0a5.45 5.45 0 1 0 10.9 0a5.45 5.45 0 1 0 -10.9 0zM384.1 1256.1a5.45 5.45 0 1 0 10.9 0a5.45 5.45 0 1 0 -10.9 0zM375.2 1305.4a5.45 5.45 0 1 0 10.9 0a5.45 5.45 0 1 0 -10.9 0zM384.4 1302.5a5.45 5.45 0 1 0 10.9 0a5.45 5.45 0 1 0 -10.9 0zM405.4 1288.1a5.45 5.45 0 1 0 10.9 0a5.45 5.45 0 1 0 -10.9 0zM395.7 1271.6a5.45 5.45 0 1 0 10.9 0a5.45 5.45 0 1 0 -10.9 0zM393.4 1304.6a5.45 5.45 0 1 0 10.9 0a5.45 5.45 0 1 0 -10.9 0zM371.4 1249.1a5.45 5.45 0 1 0 10.9 0a5.45 5.45 0 1 0 -10.9 0zM352.7 1266.6a5.45 5.45 0 1 0 10.9 0a5.45 5.45 0 1 0 -10.9 0zM345.6 1271.6a5.45 5.45 0 1 0 10.9 0a5.45 5.45 0 1 0 -10.9 0zM375.7 1294.0a5.45 5.45 0 1 0 10.9 0a5.45 5.45 0 1 0 -10.9 0zM380.2 1318.4a5.45 5.45 0 1 0 10.9 0a5.45 5.45 0 1 0 -10.9 0zM396.9 1264.9a5.45 5.45 0 1 0 10.9 0a5.45 5.45 0 1 0 -10.9 0zM415.7 1297.8a5.45 5.45 0 1 0 10.9 0a5.45 5.45 0 1 0 -10.9 0zM466.4 1261.7a5.45 5.45 0 1 0 10.9 0a5.45 5.45 0 1 0 -10.9 0zM428.8 1294.2a5.45 5.45 0 1 0 10.9 0a5.45 5.45 0 1 0 -10.9 0zM442.1 1258.9a5.45 5.45 0 1 0 10.9 0a5.45 5.45 0 1 0 -10.9 0zM455.9 1293.1a5.45 5.45 0 1 0 10.9 0a5.45 5.45 0 1 0 -10.9 0zM499.8 1277.1a5.45 5.45 0 1 0 10.9 0a5.45 5.45 0 1 0 -10.9 0zM444.6 1242.5a5.45 5.45 0 1 0 10.9 0a5.45 5.45 0 1 0 -10.9 0zM438.4 1310.9a5.45 5.45 0 1 0 10.9 0a5.45 5.45 0 1 0 -10.9 0zM470.9 1317.7a5.45 5.45 0 1 0 10.9 0a5.45 5.45 0 1 0 -10.9 0zM498.4 1294.2a5.45 5.45 0 1 0 10.9 0a5.45 5.45 0 1 0 -10.9 0zM466.2 1242.0a5.45 5.45 0 1 0 10.9 0a5.45 5.45 0 1 0 -10.9 0zM428.2 1307.7a5.45 5.45 0 1 0 10.9 0a5.45 5.45 0 1 0 -10.9 0zM476.2 1303.9a5.45 5.45 0 1 0 10.9 0a5.45 5.45 0 1 0 -10.9 0zM468.4 1296.0a5.45 5.45 0 1 0 10.9 0a5.45 5.45 0 1 0 -10.9 0zM473.9 1315.7a5.45 5.45 0 1 0 10.9 0a5.45 5.45 0 1 0 -10.9 0zM434.9 1280.0a5.45 5.45 0 1 0 10.9 0a5.45 5.45 0 1 0 -10.9 0zM449.4 1309.8a5.45 5.45 0 1 0 10.9 0a5.45 5.45 0 1 0 -10.9 0zM491.4 1258.4a5.45 5.45 0 1 0 10.9 0a5.45 5.45 0 1 0 -10.9 0zM432.4 1257.6a5.45 5.45 0 1 0 10.9 0a5.45 5.45 0 1 0 -10.9 0zM449.9 1304.5a5.45 5.45 0 1 0 10.9 0a5.45 5.45 0 1 0 -10.9 0zM456.9 1302.7a5.45 5.45 0 1 0 10.9 0a5.45 5.45 0 1 0 -10.9 0zM448.9 1282.6a5.45 5.45 0 1 0 10.9 0a5.45 5.45 0 1 0 -10.9 0zM440.4 1293.4a5.45 5.45 0 1 0 10.9 0a5.45 5.45 0 1 0 -10.9 0zM464.6 1312.8a5.45 5.45 0 1 0 10.9 0a5.45 5.45 0 1 0 -10.9 0zM496.8 1282.3a5.45 5.45 0 1 0 10.9 0a5.45 5.45 0 1 0 -10.9 0zM431.7 1319.4a5.45 5.45 0 1 0 10.9 0a5.45 5.45 0 1 0 -10.9 0zM496.4 1278.2a5.45 5.45 0 1 0 10.9 0a5.45 5.45 0 1 0 -10.9 0zM462.4 1319.0a5.45 5.45 0 1 0 10.9 0a5.45 5.45 0 1 0 -10.9 0zM445.4 1258.7a5.45 5.45 0 1 0 10.9 0a5.45 5.45 0 1 0 -10.9 0zM477.9 1296.1a5.45 5.45 0 1 0 10.9 0a5.45 5.45 0 1 0 -10.9 0zM477.4 1309.7a5.45 5.45 0 1 0 10.9 0a5.45 5.45 0 1 0 -10.9 0zM310.9 1243.3a5.45 5.45 0 1 0 10.9 0a5.45 5.45 0 1 0 -10.9 0zM249.8 1257.6a5.45 5.45 0 1 0 10.9 0a5.45 5.45 0 1 0 -10.9 0zM233.0 1263.9a5.45 5.45 0 1 0 10.9 0a5.45 5.45 0 1 0 -10.9 0zM312.9 1237.5a5.45 5.45 0 1 0 10.9 0a5.45 5.45 0 1 0 -10.9 0zM303.8 1254.1a5.45 5.45 0 1 0 10.9 0a5.45 5.45 0 1 0 -10.9 0zM298.4 1270.3a5.45 5.45 0 1 0 10.9 0a5.45 5.45 0 1 0 -10.9 0zM338.1 1250.7a5.45 5.45 0 1 0 10.9 0a5.45 5.45 0 1 0 -10.9 0zM321.9 1264.3a5.45 5.45 0 1 0 10.9 0a5.45 5.45 0 1 0 -10.9 0zM336.4 1237.0a5.45 5.45 0 1 0 10.9 0a5.45 5.45 0 1 0 -10.9 0zM332.6 1244.0a5.45 5.45 0 1 0 10.9 0a5.45 5.45 0 1 0 -10.9 0zM245.1 945.9a5.45 5.45 0 1 0 10.9 0a5.45 5.45 0 1 0 -10.9 0zM396.4 944.9a5.45 5.45 0 1 0 10.9 0a5.45 5.45 0 1 0 -10.9 0zM335.9 996.9a5.45 5.45 0 1 0 10.9 0a5.45 5.45 0 1 0 -10.9 0zM303.7 1016.6a5.45 5.45 0 1 0 10.9 0a5.45 5.45 0 1 0 -10.9 0zM343.9 1042.9a5.45 5.45 0 1 0 10.9 0a5.45 5.45 0 1 0 -10.9 0zM322.9 1071.9a5.45 5.45 0 1 0 10.9 0a5.45 5.45 0 1 0 -10.9 0zM409.4 1142.4a5.45 5.45 0 1 0 10.9 0a5.45 5.45 0 1 0 -10.9 0zM468.6 924.7a5.45 5.45 0 1 0 10.9 0a5.45 5.45 0 1 0 -10.9 0zM419.9 1150.0a5.45 5.45 0 1 0 10.9 0a5.45 5.45 0 1 0 -10.9 0zM316.2 1165.5a5.45 5.45 0 1 0 10.9 0a5.45 5.45 0 1 0 -10.9 0zM248.5 1170.8a5.45 5.45 0 1 0 10.9 0a5.45 5.45 0 1 0 -10.9 0zM315.8 1182.5a5.45 5.45 0 1 0 10.9 0a5.45 5.45 0 1 0 -10.9 0zM346.9 1181.6a5.45 5.45 0 1 0 10.9 0a5.45 5.45 0 1 0 -10.9 0zM290.2 1197.7a5.45 5.45 0 1 0 10.9 0a5.45 5.45 0 1 0 -10.9 0zM236.7 1210.0a5.45 5.45 0 1 0 10.9 0a5.45 5.45 0 1 0 -10.9 0zM322.4 1213.8a5.45 5.45 0 1 0 10.9 0a5.45 5.45 0 1 0 -10.9 0zM346.9 1197.7a5.45 5.45 0 1 0 10.9 0a5.45 5.45 0 1 0 -10.9 0zM260.8 1219.5a5.45 5.45 0 1 0 10.9 0a5.45 5.45 0 1 0 -10.9 0zM271.2 1228.0a5.45 5.45 0 1 0 10.9 0a5.45 5.45 0 1 0 -10.9 0zM293.6 1224.2a5.45 5.45 0 1 0 10.9 0a5.45 5.45 0 1 0 -10.9 0zM335.7 1228.0a5.45 5.45 0 1 0 10.9 0a5.45 5.45 0 1 0 -10.9 0zM219.5 1240.9a5.45 5.45 0 1 0 10.9 0a5.45 5.45 0 1 0 -10.9 0zM218.2 1269.7a5.45 5.45 0 1 0 10.9 0a5.45 5.45 0 1 0 -10.9 0zM366.4 1152.2a5.45 5.45 0 1 0 10.9 0a5.45 5.45 0 1 0 -10.9 0zM379.2 1150.9a5.45 5.45 0 1 0 10.9 0a5.45 5.45 0 1 0 -10.9 0zM466.6 1162.6a5.45 5.45 0 1 0 10.9 0a5.45 5.45 0 1 0 -10.9 0zM406.7 1171.2a5.45 5.45 0 1 0 10.9 0a5.45 5.45 0 1 0 -10.9 0zM389.1 1189.7a5.45 5.45 0 1 0 10.9 0a5.45 5.45 0 1 0 -10.9 0zM434.9 1192.0a5.45 5.45 0 1 0 10.9 0a5.45 5.45 0 1 0 -10.9 0zM464.4 1192.6a5.45 5.45 0 1 0 10.9 0a5.45 5.45 0 1 0 -10.9 0zM519.8 1196.7a5.45 5.45 0 1 0 10.9 0a5.45 5.45 0 1 0 -10.9 0zM435.4 1221.4a5.45 5.45 0 1 0 10.9 0a5.45 5.45 0 1 0 -10.9 0zM469.7 1224.2a5.45 5.45 0 1 0 10.9 0a5.45 5.45 0 1 0 -10.9 0zM393.9 1237.5a5.45 5.45 0 1 0 10.9 0a5.45 5.45 0 1 0 -10.9 0zM519.8 1225.2a5.45 5.45 0 1 0 10.9 0a5.45 5.45 0 1 0 -10.9 0zM587.4 1161.1a5.45 5.45 0 1 0 10.9 0a5.45 5.45 0 1 0 -10.9 0zM643.2 1212.5a5.45 5.45 0 1 0 10.9 0a5.45 5.45 0 1 0 -10.9 0zM596.5 1214.2a5.45 5.45 0 1 0 10.9 0a5.45 5.45 0 1 0 -10.9 0zM692.6 1226.7a5.45 5.45 0 1 0 10.9 0a5.45 5.45 0 1 0 -10.9 0zM534.4 1212.8a5.45 5.45 0 1 0 10.9 0a5.45 5.45 0 1 0 -10.9 0zM525.9 1231.8a5.45 5.45 0 1 0 10.9 0a5.45 5.45 0 1 0 -10.9 0zM573.2 1244.1a5.45 5.45 0 1 0 10.9 0a5.45 5.45 0 1 0 -10.9 0zM617.8 1252.6a5.45 5.45 0 1 0 10.9 0a5.45 5.45 0 1 0 -10.9 0zM668.4 1253.6a5.45 5.45 0 1 0 10.9 0a5.45 5.45 0 1 0 -10.9 0zM552.4 1260.2a5.45 5.45 0 1 0 10.9 0a5.45 5.45 0 1 0 -10.9 0zM591.2 1261.2a5.45 5.45 0 1 0 10.9 0a5.45 5.45 0 1 0 -10.9 0zM638.6 1265.9a5.45 5.45 0 1 0 10.9 0a5.45 5.45 0 1 0 -10.9 0zM628.8 1278.2a5.45 5.45 0 1 0 10.9 0a5.45 5.45 0 1 0 -10.9 0zM519.2 1271.6a5.45 5.45 0 1 0 10.9 0a5.45 5.45 0 1 0 -10.9 0zM542.9 1287.7a5.45 5.45 0 1 0 10.9 0a5.45 5.45 0 1 0 -10.9 0zM557.1 1291.5a5.45 5.45 0 1 0 10.9 0a5.45 5.45 0 1 0 -10.9 0zM524.0 1294.3a5.45 5.45 0 1 0 10.9 0a5.45 5.45 0 1 0 -10.9 0zM610.2 1292.4a5.45 5.45 0 1 0 10.9 0a5.45 5.45 0 1 0 -10.9 0zM630.1 1298.1a5.45 5.45 0 1 0 10.9 0a5.45 5.45 0 1 0 -10.9 0zM639.6 1296.2a5.45 5.45 0 1 0 10.9 0a5.45 5.45 0 1 0 -10.9 0zM597.9 1290.5a5.45 5.45 0 1 0 10.9 0a5.45 5.45 0 1 0 -10.9 0zM707.5 1279.7a5.45 5.45 0 1 0 10.9 0a5.45 5.45 0 1 0 -10.9 0zM707.5 1295.6a5.45 5.45 0 1 0 10.9 0a5.45 5.45 0 1 0 -10.9 0zM693.3 1311.5a5.45 5.45 0 1 0 10.9 0a5.45 5.45 0 1 0 -10.9 0zM769.1 1287.7a5.45 5.45 0 1 0 10.9 0a5.45 5.45 0 1 0 -10.9 0zM316.7 1352.9a5.45 5.45 0 1 0 10.9 0a5.45 5.45 0 1 0 -10.9 0zM335.9 1367.7a5.45 5.45 0 1 0 10.9 0a5.45 5.45 0 1 0 -10.9 0zM274.9 1313.2a5.45 5.45 0 1 0 10.9 0a5.45 5.45 0 1 0 -10.9 0zM349.9 1327.4a5.45 5.45 0 1 0 10.9 0a5.45 5.45 0 1 0 -10.9 0zM356.9 1342.5a5.45 5.45 0 1 0 10.9 0a5.45 5.45 0 1 0 -10.9 0zM368.2 1370.9a5.45 5.45 0 1 0 10.9 0a5.45 5.45 0 1 0 -10.9 0zM390.1 1324.5a5.45 5.45 0 1 0 10.9 0a5.45 5.45 0 1 0 -10.9 0zM400.4 1334.0a5.45 5.45 0 1 0 10.9 0a5.45 5.45 0 1 0 -10.9 0zM409.9 1333.1a5.45 5.45 0 1 0 10.9 0a5.45 5.45 0 1 0 -10.9 0zM450.1 1345.9a5.45 5.45 0 1 0 10.9 0a5.45 5.45 0 1 0 -10.9 0zM469.7 1332.1a5.45 5.45 0 1 0 10.9 0a5.45 5.45 0 1 0 -10.9 0zM519.2 1364.7a5.45 5.45 0 1 0 10.9 0a5.45 5.45 0 1 0 -10.9 0zM512.2 1335.9a5.45 5.45 0 1 0 10.9 0a5.45 5.45 0 1 0 -10.9 0zM513.1 1293.3a5.45 5.45 0 1 0 10.9 0a5.45 5.45 0 1 0 -10.9 0zM520.8 1291.4a5.45 5.45 0 1 0 10.9 0a5.45 5.45 0 1 0 -10.9 0zM666.1 1302.7a5.45 5.45 0 1 0 10.9 0a5.45 5.45 0 1 0 -10.9 0zM661.3 1315.1a5.45 5.45 0 1 0 10.9 0a5.45 5.45 0 1 0 -10.9 0zM626.3 1312.2a5.45 5.45 0 1 0 10.9 0a5.45 5.45 0 1 0 -10.9 0zM616.8 1308.4a5.45 5.45 0 1 0 10.9 0a5.45 5.45 0 1 0 -10.9 0zM603.6 1304.6a5.45 5.45 0 1 0 10.9 0a5.45 5.45 0 1 0 -10.9 0zM581.8 1323.6a5.45 5.45 0 1 0 10.9 0a5.45 5.45 0 1 0 -10.9 0zM560.0 1313.2a5.45 5.45 0 1 0 10.9 0a5.45 5.45 0 1 0 -10.9 0zM542.9 1310.3a5.45 5.45 0 1 0 10.9 0a5.45 5.45 0 1 0 -10.9 0zM534.4 1332.1a5.45 5.45 0 1 0 10.9 0a5.45 5.45 0 1 0 -10.9 0zM523.0 1327.4a5.45 5.45 0 1 0 10.9 0a5.45 5.45 0 1 0 -10.9 0zM377.1 1478.7a5.45 5.45 0 1 0 10.9 0a5.45 5.45 0 1 0 -10.9 0zM410.4 1329.4a5.45 5.45 0 1 0 10.9 0a5.45 5.45 0 1 0 -10.9 0zM465.9 1324.3a5.45 5.45 0 1 0 10.9 0a5.45 5.45 0 1 0 -10.9 0zM521.8 1228.2a5.45 5.45 0 1 0 10.9 0a5.45 5.45 0 1 0 -10.9 0zM538.1 1314.4a5.45 5.45 0 1 0 10.9 0a5.45 5.45 0 1 0 -10.9 0zM524.4 1321.3a5.45 5.45 0 1 0 10.9 0a5.45 5.45 0 1 0 -10.9 0zM529.9 1328.1a5.45 5.45 0 1 0 10.9 0a5.45 5.45 0 1 0 -10.9 0zM546.3 1288.4a5.45 5.45 0 1 0 10.9 0a5.45 5.45 0 1 0 -10.9 0zM472.4 1222.7a5.45 5.45 0 1 0 10.9 0a5.45 5.45 0 1 0 -10.9 0z"/>
<path stroke="#2ca02c" d="M427.4 1246.0a5.45 5.45 0 1 0 10.9 0a5.45 5.45 0 1 0 -10.9 0zM455.7 1296.9a5.45 5.45 0 1 0 10.9 0a5.45 5.45 0 1 0 -10.9 0zM436.9 1246.0a5.45 5.45 0 1 0 10.9 0a5.45 5.45 0 1 0 -10.9 0zM443.8 1303.4a5.45 5.45 0 1 0 10.9 0a5.45 5.45 0 1 0 -10.9 0zM437.4 1301.9a5.45 5.45 0 1 0 10.9 0a5.45 5.45 0 1 0 -10.9 0zM475.6 1248.2a5.45 5.45 0 1 0 10.9 0a5.45 5.45 0 1 0 -10.9 0zM466.2 1275.8a5.45 5.45 0 1 0 10.9 0a5.45 5.45 0 1 0 -10.9 0zM433.4 1237.8a5.45 5.45 0 1 0 10.9 0a5.45 5.45 0 1 0 -10.9 0zM496.1 1271.9a5.45 5.45 0 1 0 10.9 0a5.45 5.45 0 1 0 -10.9 0zM441.2 1265.4a5.45 5.45 0 1 0 10.9 0a5.45 5.45 0 1 0 -10.9 0zM453.6 1321.0a5.45 5.45 0 1 0 10.9 0a5.45 5.45 0 1 0 -10.9 0zM442.2 1255.3a5.45 5.45 0 1 0 10.9 0a5.45 5.45 0 1 0 -10.9 0zM469.9 1284.7a5.45 5.45 0 1 0 10.9 0a5.45 5.45 0 1 0 -10.9 0zM452.9 1254.1a5.45 5.45 0 1 0 10.9 0a5.45 5.45 0 1 0 -10.9 0zM428.8 1301.4a5.45 5.45 0 1 0 10.9 0a5.45 5.45 0 1 0 -10.9 0zM490.9 1294.0a5.45 5.45 0 1 0 10.9 0a5.45 5.45 0 1 0 -10.9 0zM442.8 1306.9a5.45 5.45 0 1 0 10.9 0a5.45 5.45 0 1 0 -10.9 0zM480.6 1253.2a5.45 5.45 0 1 0 10.9 0a5.45 5.45 0 1 0 -10.9 0zM473.9 1255.5a5.45 5.45 0 1 0 10.9 0a5.45 5.45 0 1 0 -10.9 0zM429.7 1265.9a5.45 5.45 0 1 0 10.9 0a5.45 5.45 0 1 0 -10.9 0zM451.2 1271.3a5.45 5.45 0 1 0 10.9 0a5.45 5.45 0 1 0 -10.9 0zM474.4 1310.4a5.45 5.45 0 1 0 10.9 0a5.45 5.45 0 1 0 -10.9 0zM346.2 1255.6a5.45 5.45 0 1 0 10.9 0a5.45 5.45 0 1 0 -10.9 0zM382.8 1299.7a5.45 5.45 0 1 0 10.9 0a5.45 5.45 0 1 0 -10.9 0zM348.2 1281.3a5.45 5.45 0 1 0 10.9 0a5.45 5.45 0 1 0 -10.9 0zM412.9 1282.5a5.45 5.45 0 1 0 10.9 0a5.45 5.45 0 1 0 -10.9 0zM421.8 1313.7a5.45 5.45 0 1 0 10.9 0a5.45 5.45 0 1 0 -10.9 0zM405.2 1248.0a5.45 5.45 0 1 0 10.9 0a5.45 5.45 0 1 0 -10.9 0zM412.9 1309.8a5.45 5.45 0 1 0 10.9 0a5.45 5.45 0 1 0 -10.9 0zM422.4 1254.5a5.45 5.45 0 1 0 10.9 0a5.45 5.45 0 1 0 -10.9 0zM424.7 1246.7a5.45 5.45 0 1 0 10.9 0a5.45 5.45 0 1 0 -10.9 0zM370.2 1251.2a5.45 5.45 0 1 0 10.9 0a5.45 5.45 0 1 0 -10.9 0zM403.8 1286.5a5.45 5.45 0 1 0 10.9 0a5.45 5.45 0 1 0 -10.9 0zM389.7 1304.0a5.45 5.45 0 1 0 10.9 0a5.45 5.45 0 1 0 -10.9 0zM269.2 1269.4a5.45 5.45 0 1 0 10.9 0a5.45 5.45 0 1 0 -10.9 0zM321.9 1243.7a5.45 5.45 0 1 0 10.9 0a5.45 5.45 0 1 0 -10.9 0zM325.1 1258.9a5.45 5.45 0 1 0 10.9 0a5.45 5.45 0 1 0 -10.9 0zM231.4 1270.3a5.45 5.45 0 1 0 10.9 0a5.45 5.45 0 1 0 -10.9 0zM255.4 1247.0a5.45 5.45 0 1 0 10.9 0a5.45 5.45 0 1 0 -10.9 0zM274.4 1257.2a5.45 5.45 0 1 0 10.9 0a5.45 5.45 0 1 0 -10.9 0zM240.7 1260.7a5.45 5.45 0 1 0 10.9 0a5.45 5.45 0 1 0 -10.9 0zM320.6 1254.4a5.45 5.45 0 1 0 10.9 0a5.45 5.45 0 1 0 -10.9 0zM316.4 1258.5a5.45 5.45 0 1 0 10.9 0a5.45 5.45 0 1 0 -10.9 0zM319.8 1242.5a5.45 5.45 0 1 0 10.9 0a5.45 5.45 0 1 0 -10.9 0zM390.6 939.1a5.45 5.45 0 1 0 10.9 0a5.45 5.45 0 1 0 -10.9 0zM331.7 963.1a5.45 5.45 0 1 0 10.9 0a5.45 5.45 0 1 0 -10.9 0zM384.9 1071.7a5.45 5.45 0 1 0 10.9 0a5.45 5.45 0 1 0 -10.9 0zM277.7 1130.8a5.45 5.45 0 1 0 10.9 0a5.45 5.45 0 1 0 -10.9 0zM263.7 1177.4a5.45 5.45 0 1 0 10.9 0a5.45 5.45 0 1 0 -10.9 0zM316.2 1203.0a5.45 5.45 0 1 0 10.9 0a5.45 5.45 0 1 0 -10.9 0zM316.2 1211.9a5.45 5.45 0 1 0 10.9 0a5.45 5.45 0 1 0 -10.9 0zM328.9 1212.8a5.45 5.45 0 1 0 10.9 0a5.45 5.45 0 1 0 -10.9 0zM342.9 1204.3a5.45 5.45 0 1 0 10.9 0a5.45 5.45 0 1 0 -10.9 0zM346.9 1220.4a5.45 5.45 0 1 0 10.9 0a5.45 5.45 0 1 0 -10.9 0zM346.1 1228.0a5.45 5.45 0 1 0 10.9 0a5.45 5.45 0 1 0 -10.9 0zM266.4 1239.4a5.45 5.45 0 1 0 10.9 0a5.45 5.45 0 1 0 -10.9 0zM278.8 1246.0a5.45 5.45 0 1 0 10.9 0a5.45 5.45 0 1 0 -10.9 0zM312.9 1241.3a5.45 5.45 0 1 0 10.9 0a5.45 5.45 0 1 0 -10.9 0zM324.2 1246.9a5.45 5.45 0 1 0 10.9 0a5.45 5.45 0 1 0 -10.9 0zM522.6 1152.6a5.45 5.45 0 1 0 10.9 0a5.45 5.45 0 1 0 -10.9 0zM522.6 1168.3a5.45 5.45 0 1 0 10.9 0a5.45 5.45 0 1 0 -10.9 0zM368.1 1180.6a5.45 5.45 0 1 0 10.9 0a5.45 5.45 0 1 0 -10.9 0zM408.6 1186.9a5.45 5.45 0 1 0 10.9 0a5.45 5.45 0 1 0 -10.9 0zM433.7 1213.8a5.45 5.45 0 1 0 10.9 0a5.45 5.45 0 1 0 -10.9 0zM488.6 1286.7a5.45 5.45 0 1 0 10.9 0a5.45 5.45 0 1 0 -10.9 0zM480.1 1291.5a5.45 5.45 0 1 0 10.9 0a5.45 5.45 0 1 0 -10.9 0zM509.3 1260.2a5.45 5.45 0 1 0 10.9 0a5.45 5.45 0 1 0 -10.9 0zM673.3 1193.9a5.45 5.45 0 1 0 10.9 0a5.45 5.45 0 1 0 -10.9 0zM529.8 1207.2a5.45 5.45 0 1 0 10.9 0a5.45 5.45 0 1 0 -10.9 0zM543.9 1223.3a5.45 5.45 0 1 0 10.9 0a5.45 5.45 0 1 0 -10.9 0zM580.8 1225.2a5.45 5.45 0 1 0 10.9 0a5.45 5.45 0 1 0 -10.9 0zM541.0 1228.0a5.45 5.45 0 1 0 10.9 0a5.45 5.45 0 1 0 -10.9 0zM601.8 1252.6a5.45 5.45 0 1 0 10.9 0a5.45 5.45 0 1 0 -10.9 0zM606.4 1257.4a5.45 5.45 0 1 0 10.9 0a5.45 5.45 0 1 0 -10.9 0zM661.3 1250.4a5.45 5.45 0 1 0 10.9 0a5.45 5.45 0 1 0 -10.9 0zM559.0 1260.2a5.45 5.45 0 1 0 10.9 0a5.45 5.45 0 1 0 -10.9 0zM665.5 1267.4a5.45 5.45 0 1 0 10.9 0a5.45 5.45 0 1 0 -10.9 0zM639.6 1274.4a5.45 5.45 0 1 0 10.9 0a5.45 5.45 0 1 0 -10.9 0zM536.3 1293.4a5.45 5.45 0 1 0 10.9 0a5.45 5.45 0 1 0 -10.9 0zM609.2 1291.5a5.45 5.45 0 1 0 10.9 0a5.45 5.45 0 1 0 -10.9 0zM577.0 1295.3a5.45 5.45 0 1 0 10.9 0a5.45 5.45 0 1 0 -10.9 0zM567.6 1298.1a5.45 5.45 0 1 0 10.9 0a5.45 5.45 0 1 0 -10.9 0zM620.6 1299.1a5.45 5.45 0 1 0 10.9 0a5.45 5.45 0 1 0 -10.9 0zM758.0 1296.8a5.45 5.45 0 1 0 10.9 0a5.45 5.45 0 1 0 -10.9 0zM492.8 1337.4a5.45 5.45 0 1 0 10.9 0a5.45 5.45 0 1 0 -10.9 0zM443.1 1321.7a5.45 5.45 0 1 0 10.9 0a5.45 5.45 0 1 0 -10.9 0zM418.4 1316.9a5.45 5.45 0 1 0 10.9 0a5.45 5.45 0 1 0 -10.9 0zM509.3 1294.2a5.45 5.45 0 1 0 10.9 0a5.45 5.45 0 1 0 -10.9 0zM480.9 1295.2a5.45 5.45 0 1 0 10.9 0a5.45 5.45 0 1 0 -10.9 0zM523.0 1293.3a5.45 5.45 0 1 0 10.9 0a5.45 5.45 0 1 0 -10.9 0zM643.3 1304.6a5.45 5.45 0 1 0 10.9 0a5.45 5.45 0 1 0 -10.9 0zM591.2 1308.4a5.45 5.45 0 1 0 10.9 0a5.45 5.45 0 1 0 -10.9 0zM553.3 1309.4a5.45 5.45 0 1 0 10.9 0a5.45 5.45 0 1 0 -10.9 0zM483.4 1269.3a5.45 5.45 0 1 0 10.9 0a5.45 5.45 0 1 0 -10.9 0z"/>
<path stroke="#ff7f0e" d="M248.6 1268.5a5.45 5.45 0 1 0 10.9 0a5.45 5.45 0 1 0 -10.9 0zM253.4 1268.2a5.45 5.45 0 1 0 10.9 0a5.45 5.45 0 1 0 -10.9 0zM271.9 1268.6a5.45 5.45 0 1 0 10.9 0a5.45 5.45 0 1 0 -10.9 0zM276.8 1268.9a5.45 5.45 0 1 0 10.9 0a5.45 5.45 0 1 0 -10.9 0zM282.4 1268.1a5.45 5.45 0 1 0 10.9 0a5.45 5.45 0 1 0 -10.9 0zM308.4 1268.8a5.45 5.45 0 1 0 10.9 0a5.45 5.45 0 1 0 -10.9 0zM313.1 1268.5a5.45 5.45 0 1 0 10.9 0a5.45 5.45 0 1 0 -10.9 0zM317.8 1268.5a5.45 5.45 0 1 0 10.9 0a5.45 5.45 0 1 0 -10.9 0zM333.4 1268.8a5.45 5.45 0 1 0 10.9 0a5.45 5.45 0 1 0 -10.9 0zM219.2 1273.0a5.45 5.45 0 1 0 10.9 0a5.45 5.45 0 1 0 -10.9 0zM225.7 1272.1a5.45 5.45 0 1 0 10.9 0a5.45 5.45 0 1 0 -10.9 0zM230.5 1272.7a5.45 5.45 0 1 0 10.9 0a5.45 5.45 0 1 0 -10.9 0zM235.9 1273.2a5.45 5.45 0 1 0 10.9 0a5.45 5.45 0 1 0 -10.9 0zM239.9 1273.3a5.45 5.45 0 1 0 10.9 0a5.45 5.45 0 1 0 -10.9 0zM246.0 1272.5a5.45 5.45 0 1 0 10.9 0a5.45 5.45 0 1 0 -10.9 0zM250.9 1272.3a5.45 5.45 0 1 0 10.9 0a5.45 5.45 0 1 0 -10.9 0zM254.9 1271.8a5.45 5.45 0 1 0 10.9 0a5.45 5.45 0 1 0 -10.9 0zM260.9 1271.7a5.45 5.45 0 1 0 10.9 0a5.45 5.45 0 1 0 -10.9 0zM264.2 1272.9a5.45 5.45 0 1 0 10.9 0a5.45 5.45 0 1 0 -10.9 0zM270.6 1272.3a5.45 5.45 0 1 0 10.9 0a5.45 5.45 0 1 0 -10.9 0zM275.8 1271.4a5.45 5.45 0 1 0 10.9 0a5.45 5.45 0 1 0 -10.9 0zM279.6 1271.9a5.45 5.45 0 1 0 10.9 0a5.45 5.45 0 1 0 -10.9 0zM284.9 1271.7a5.45 5.45 0 1 0 10.9 0a5.45 5.45 0 1 0 -10.9 0zM289.2 1272.0a5.45 5.45 0 1 0 10.9 0a5.45 5.45 0 1 0 -10.9 0zM295.9 1273.3a5.45 5.45 0 1 0 10.9 0a5.45 5.45 0 1 0 -10.9 0zM300.6 1272.3a5.45 5.45 0 1 0 10.9 0a5.45 5.45 0 1 0 -10.9 0zM304.6 1273.2a5.45 5.45 0 1 0 10.9 0a5.45 5.45 0 1 0 -10.9 0zM310.2 1272.8a5.45 5.45 0 1 0 10.9 0a5.45 5.45 0 1 0 -10.9 0zM314.2 1271.8a5.45 5.45 0 1 0 10.9 0a5.45 5.45 0 1 0 -10.9 0zM320.8 1272.9a5.45 5.45 0 1 0 10.9 0a5.45 5.45 0 1 0 -10.9 0zM325.9 1272.5a5.45 5.45 0 1 0 10.9 0a5.45 5.45 0 1 0 -10.9 0zM329.9 1272.5a5.45 5.45 0 1 0 10.9 0a5.45 5.45 0 1 0 -10.9 0zM335.8 1271.9a5.45 5.45 0 1 0 10.9 0a5.45 5.45 0 1 0 -10.9 0zM340.2 1271.9a5.45 5.45 0 1 0 10.9 0a5.45 5.45 0 1 0 -10.9 0zM212.9 1275.9a5.45 5.45 0 1 0 10.9 0a5.45 5.45 0 1 0 -10.9 0zM217.7 1276.3a5.45 5.45 0 1 0 10.9 0a5.45 5.45 0 1 0 -10.9 0zM222.6 1276.1a5.45 5.45 0 1 0 10.9 0a5.45 5.45 0 1 0 -10.9 0zM226.9 1276.0a5.45 5.45 0 1 0 10.9 0a5.45 5.45 0 1 0 -10.9 0zM232.4 1277.1a5.45 5.45 0 1 0 10.9 0a5.45 5.45 0 1 0 -10.9 0zM237.7 1275.8a5.45 5.45 0 1 0 10.9 0a5.45 5.45 0 1 0 -10.9 0zM243.0 1277.4a5.45 5.45 0 1 0 10.9 0a5.45 5.45 0 1 0 -10.9 0zM248.1 1277.2a5.45 5.45 0 1 0 10.9 0a5.45 5.45 0 1 0 -10.9 0zM251.6 1276.6a5.45 5.45 0 1 0 10.9 0a5.45 5.45 0 1 0 -10.9 0zM256.7 1277.2a5.45 5.45 0 1 0 10.9 0a5.45 5.45 0 1 0 -10.9 0zM261.9 1277.1a5.45 5.45 0 1 0 10.9 0a5.45 5.45 0 1 0 -10.9 0zM267.1 1277.1a5.45 5.45 0 1 0 10.9 0a5.45 5.45 0 1 0 -10.9 0zM272.2 1275.7a5.45 5.45 0 1 0 10.9 0a5.45 5.45 0 1 0 -10.9 0zM277.4 1276.3a5.45 5.45 0 1 0 10.9 0a5.45 5.45 0 1 0 -10.9 0zM283.4 1276.3a5.45 5.45 0 1 0 10.9 0a5.45 5.45 0 1 0 -10.9 0zM287.6 1276.8a5.45 5.45 0 1 0 10.9 0a5.45 5.45 0 1 0 -10.9 0zM293.4 1275.9a5.45 5.45 0 1 0 10.9 0a5.45 5.45 0 1 0 -10.9 0zM297.8 1276.7a5.45 5.45 0 1 0 10.9 0a5.45 5.45 0 1 0 -10.9 0zM303.1 1277.6a5.45 5.45 0 1 0 10.9 0a5.45 5.45 0 1 0 -10.9 0zM307.2 1277.1a5.45 5.45 0 1 0 10.9 0a5.45 5.45 0 1 0 -10.9 0zM312.7 1276.8a5.45 5.45 0 1 0 10.9 0a5.45 5.45 0 1 0 -10.9 0zM316.7 1277.3a5.45 5.45 0 1 0 10.9 0a5.45 5.45 0 1 0 -10.9 0zM323.6 1276.4a5.45 5.45 0 1 0 10.9 0a5.45 5.45 0 1 0 -10.9 0zM327.2 1277.6a5.45 5.45 0 1 0 10.9 0a5.45 5.45 0 1 0 -10.9 0zM331.8 1275.8a5.45 5.45 0 1 0 10.9 0a5.45 5.45 0 1 0 -10.9 0zM336.7 1277.3a5.45 5.45 0 1 0 10.9 0a5.45 5.45 0 1 0 -10.9 0zM343.1 1276.6a5.45 5.45 0 1 0 10.9 0a5.45 5.45 0 1 0 -10.9 0zM210.4 1281.9a5.45 5.45 0 1 0 10.9 0a5.45 5.45 0 1 0 -10.9 0zM214.2 1280.9a5.45 5.45 0 1 0 10.9 0a5.45 5.45 0 1 0 -10.9 0zM220.1 1281.4a5.45 5.45 0 1 0 10.9 0a5.45 5.45 0 1 0 -10.9 0zM225.9 1281.5a5.45 5.45 0 1 0 10.9 0a5.45 5.45 0 1 0 -10.9 0zM230.4 1281.5a5.45 5.45 0 1 0 10.9 0a5.45 5.45 0 1 0 -10.9 0zM235.4 1281.7a5.45 5.45 0 1 0 10.9 0a5.45 5.45 0 1 0 -10.9 0zM240.5 1281.4a5.45 5.45 0 1 0 10.9 0a5.45 5.45 0 1 0 -10.9 0zM244.6 1281.8a5.45 5.45 0 1 0 10.9 0a5.45 5.45 0 1 0 -10.9 0zM249.9 1281.2a5.45 5.45 0 1 0 10.9 0a5.45 5.45 0 1 0 -10.9 0zM255.7 1281.9a5.45 5.45 0 1 0 10.9 0a5.45 5.45 0 1 0 -10.9 0zM261.1 1280.0a5.45 5.45 0 1 0 10.9 0a5.45 5.45 0 1 0 -10.9 0zM264.7 1280.6a5.45 5.45 0 1 0 10.9 0a5.45 5.45 0 1 0 -10.9 0zM269.9 1280.3a5.45 5.45 0 1 0 10.9 0a5.45 5.45 0 1 0 -10.9 0zM275.2 1280.1a5.45 5.45 0 1 0 10.9 0a5.45 5.45 0 1 0 -10.9 0zM279.7 1281.9a5.45 5.45 0 1 0 10.9 0a5.45 5.45 0 1 0 -10.9 0zM285.6 1280.9a5.45 5.45 0 1 0 10.9 0a5.45 5.45 0 1 0 -10.9 0zM289.2 1281.9a5.45 5.45 0 1 0 10.9 0a5.45 5.45 0 1 0 -10.9 0zM295.4 1280.4a5.45 5.45 0 1 0 10.9 0a5.45 5.45 0 1 0 -10.9 0zM299.8 1281.3a5.45 5.45 0 1 0 10.9 0a5.45 5.45 0 1 0 -10.9 0zM305.4 1280.5a5.45 5.45 0 1 0 10.9 0a5.45 5.45 0 1 0 -10.9 0zM310.9 1280.6a5.45 5.45 0 1 0 10.9 0a5.45 5.45 0 1 0 -10.9 0zM314.6 1281.7a5.45 5.45 0 1 0 10.9 0a5.45 5.45 0 1 0 -10.9 0zM319.4 1281.4a5.45 5.45 0 1 0 10.9 0a5.45 5.45 0 1 0 -10.9 0zM324.4 1281.2a5.45 5.45 0 1 0 10.9 0a5.45 5.45 0 1 0 -10.9 0zM329.7 1280.7a5.45 5.45 0 1 0 10.9 0a5.45 5.45 0 1 0 -10.9 0zM335.9 1280.9a5.45 5.45 0 1 0 10.9 0a5.45 5.45 0 1 0 -10.9 0zM339.9 1281.2a5.45 5.45 0 1 0 10.9 0a5.45 5.45 0 1 0 -10.9 0zM206.8 1284.9a5.45 5.45 0 1 0 10.9 0a5.45 5.45 0 1 0 -10.9 0zM212.5 1286.1a5.45 5.45 0 1 0 10.9 0a5.45 5.45 0 1 0 -10.9 0zM217.2 1284.6a5.45 5.45 0 1 0 10.9 0a5.45 5.45 0 1 0 -10.9 0zM223.2 1286.0a5.45 5.45 0 1 0 10.9 0a5.45 5.45 0 1 0 -10.9 0zM227.7 1284.4a5.45 5.45 0 1 0 10.9 0a5.45 5.45 0 1 0 -10.9 0zM232.0 1285.1a5.45 5.45 0 1 0 10.9 0a5.45 5.45 0 1 0 -10.9 0zM237.7 1284.8a5.45 5.45 0 1 0 10.9 0a5.45 5.45 0 1 0 -10.9 0zM243.2 1286.0a5.45 5.45 0 1 0 10.9 0a5.45 5.45 0 1 0 -10.9 0zM248.5 1286.1a5.45 5.45 0 1 0 10.9 0a5.45 5.45 0 1 0 -10.9 0zM251.6 1285.5a5.45 5.45 0 1 0 10.9 0a5.45 5.45 0 1 0 -10.9 0zM256.8 1286.1a5.45 5.45 0 1 0 10.9 0a5.45 5.45 0 1 0 -10.9 0zM263.1 1285.8a5.45 5.45 0 1 0 10.9 0a5.45 5.45 0 1 0 -10.9 0zM266.9 1284.4a5.45 5.45 0 1 0 10.9 0a5.45 5.45 0 1 0 -10.9 0zM273.2 1285.5a5.45 5.45 0 1 0 10.9 0a5.45 5.45 0 1 0 -10.9 0zM277.8 1285.3a5.45 5.45 0 1 0 10.9 0a5.45 5.45 0 1 0 -10.9 0zM283.2 1285.0a5.45 5.45 0 1 0 10.9 0a5.45 5.45 0 1 0 -10.9 0zM287.1 1285.0a5.45 5.45 0 1 0 10.9 0a5.45 5.45 0 1 0 -10.9 0zM292.2 1285.6a5.45 5.45 0 1 0 10.9 0a5.45 5.45 0 1 0 -10.9 0zM298.4 1284.5a5.45 5.45 0 1 0 10.9 0a5.45 5.45 0 1 0 -10.9 0zM301.7 1285.3a5.45 5.45 0 1 0 10.9 0a5.45 5.45 0 1 0 -10.9 0zM307.9 1284.7a5.45 5.45 0 1 0 10.9 0a5.45 5.45 0 1 0 -10.9 0zM312.1 1284.4a5.45 5.45 0 1 0 10.9 0a5.45 5.45 0 1 0 -10.9 0zM316.7 1285.3a5.45 5.45 0 1 0 10.9 0a5.45 5.45 0 1 0 -10.9 0zM322.9 1285.6a5.45 5.45 0 1 0 10.9 0a5.45 5.45 0 1 0 -10.9 0zM326.9 1284.5a5.45 5.45 0 1 0 10.9 0a5.45 5.45 0 1 0 -10.9 0zM333.4 1285.4a5.45 5.45 0 1 0 10.9 0a5.45 5.45 0 1 0 -10.9 0zM337.4 1285.7a5.45 5.45 0 1 0 10.9 0a5.45 5.45 0 1 0 -10.9 0zM343.1 1285.4a5.45 5.45 0 1 0 10.9 0a5.45 5.45 0 1 0 -10.9 0zM216.0 1289.4a5.45 5.45 0 1 0 10.9 0a5.45 5.45 0 1 0 -10.9 0zM225.7 1288.7a5.45 5.45 0 1 0 10.9 0a5.45 5.45 0 1 0 -10.9 0zM229.8 1289.9a5.45 5.45 0 1 0 10.9 0a5.45 5.45 0 1 0 -10.9 0zM235.2 1290.2a5.45 5.45 0 1 0 10.9 0a5.45 5.45 0 1 0 -10.9 0zM240.4 1289.0a5.45 5.45 0 1 0 10.9 0a5.45 5.45 0 1 0 -10.9 0zM246.0 1289.7a5.45 5.45 0 1 0 10.9 0a5.45 5.45 0 1 0 -10.9 0zM250.9 1289.1a5.45 5.45 0 1 0 10.9 0a5.45 5.45 0 1 0 -10.9 0zM256.1 1289.8a5.45 5.45 0 1 0 10.9 0a5.45 5.45 0 1 0 -10.9 0zM260.7 1290.1a5.45 5.45 0 1 0 10.9 0a5.45 5.45 0 1 0 -10.9 0zM265.9 1289.4a5.45 5.45 0 1 0 10.9 0a5.45 5.45 0 1 0 -10.9 0zM269.2 1289.5a5.45 5.45 0 1 0 10.9 0a5.45 5.45 0 1 0 -10.9 0zM274.4 1289.7a5.45 5.45 0 1 0 10.9 0a5.45 5.45 0 1 0 -10.9 0zM280.7 1289.4a5.45 5.45 0 1 0 10.9 0a5.45 5.45 0 1 0 -10.9 0zM284.4 1288.7a5.45 5.45 0 1 0 10.9 0a5.45 5.45 0 1 0 -10.9 0zM289.9 1289.8a5.45 5.45 0 1 0 10.9 0a5.45 5.45 0 1 0 -10.9 0zM294.2 1290.0a5.45 5.45 0 1 0 10.9 0a5.45 5.45 0 1 0 -10.9 0zM299.4 1288.9a5.45 5.45 0 1 0 10.9 0a5.45 5.45 0 1 0 -10.9 0zM305.9 1289.7a5.45 5.45 0 1 0 10.9 0a5.45 5.45 0 1 0 -10.9 0zM310.9 1289.7a5.45 5.45 0 1 0 10.9 0a5.45 5.45 0 1 0 -10.9 0zM314.2 1289.1a5.45 5.45 0 1 0 10.9 0a5.45 5.45 0 1 0 -10.9 0zM319.9 1289.9a5.45 5.45 0 1 0 10.9 0a5.45 5.45 0 1 0 -10.9 0zM325.6 1290.2a5.45 5.45 0 1 0 10.9 0a5.45 5.45 0 1 0 -10.9 0zM330.4 1289.2a5.45 5.45 0 1 0 10.9 0a5.45 5.45 0 1 0 -10.9 0zM334.9 1289.4a5.45 5.45 0 1 0 10.9 0a5.45 5.45 0 1 0 -10.9 0zM340.1 1289.2a5.45 5.45 0 1 0 10.9 0a5.45 5.45 0 1 0 -10.9 0zM238.2 1294.5a5.45 5.45 0 1 0 10.9 0a5.45 5.45 0 1 0 -10.9 0zM242.2 1293.5a5.45 5.45 0 1 0 10.9 0a5.45 5.45 0 1 0 -10.9 0zM248.2 1294.6a5.45 5.45 0 1 0 10.9 0a5.45 5.45 0 1 0 -10.9 0zM253.4 1293.4a5.45 5.45 0 1 0 10.9 0a5.45 5.45 0 1 0 -10.9 0zM258.2 1294.8a5.45 5.45 0 1 0 10.9 0a5.45 5.45 0 1 0 -10.9 0zM261.8 1293.6a5.45 5.45 0 1 0 10.9 0a5.45 5.45 0 1 0 -10.9 0zM267.9 1293.3a5.45 5.45 0 1 0 10.9 0a5.45 5.45 0 1 0 -10.9 0zM273.2 1293.5a5.45 5.45 0 1 0 10.9 0a5.45 5.45 0 1 0 -10.9 0zM277.9 1293.6a5.45 5.45 0 1 0 10.9 0a5.45 5.45 0 1 0 -10.9 0zM281.9 1293.4a5.45 5.45 0 1 0 10.9 0a5.45 5.45 0 1 0 -10.9 0zM287.6 1294.4a5.45 5.45 0 1 0 10.9 0a5.45 5.45 0 1 0 -10.9 0zM291.9 1294.4a5.45 5.45 0 1 0 10.9 0a5.45 5.45 0 1 0 -10.9 0zM297.2 1294.3a5.45 5.45 0 1 0 10.9 0a5.45 5.45 0 1 0 -10.9 0zM302.2 1293.4a5.45 5.45 0 1 0 10.9 0a5.45 5.45 0 1 0 -10.9 0zM306.9 1293.1a5.45 5.45 0 1 0 10.9 0a5.45 5.45 0 1 0 -10.9 0zM312.9 1293.8a5.45 5.45 0 1 0 10.9 0a5.45 5.45 0 1 0 -10.9 0zM316.8 1294.7a5.45 5.45 0 1 0 10.9 0a5.45 5.45 0 1 0 -10.9 0zM322.9 1293.0a5.45 5.45 0 1 0 10.9 0a5.45 5.45 0 1 0 -10.9 0zM327.9 1294.2a5.45 5.45 0 1 0 10.9 0a5.45 5.45 0 1 0 -10.9 0zM332.4 1294.0a5.45 5.45 0 1 0 10.9 0a5.45 5.45 0 1 0 -10.9 0zM338.4 1293.7a5.45 5.45 0 1 0 10.9 0a5.45 5.45 0 1 0 -10.9 0zM342.9 1294.3a5.45 5.45 0 1 0 10.9 0a5.45 5.45 0 1 0 -10.9 0zM347.2 1293.7a5.45 5.45 0 1 0 10.9 0a5.45 5.45 0 1 0 -10.9 0zM353.1 1294.3a5.45 5.45 0 1 0 10.9 0a5.45 5.45 0 1 0 -10.9 0zM357.4 1294.0a5.45 5.45 0 1 0 10.9 0a5.45 5.45 0 1 0 -10.9 0zM250.2 1297.5a5.45 5.45 0 1 0 10.9 0a5.45 5.45 0 1 0 -10.9 0zM259.2 1297.7a5.45 5.45 0 1 0 10.9 0a5.45 5.45 0 1 0 -10.9 0zM265.2 1298.9a5.45 5.45 0 1 0 10.9 0a5.45 5.45 0 1 0 -10.9 0zM270.1 1298.6a5.45 5.45 0 1 0 10.9 0a5.45 5.45 0 1 0 -10.9 0zM274.1 1297.9a5.45 5.45 0 1 0 10.9 0a5.45 5.45 0 1 0 -10.9 0zM279.7 1299.1a5.45 5.45 0 1 0 10.9 0a5.45 5.45 0 1 0 -10.9 0zM284.8 1298.9a5.45 5.45 0 1 0 10.9 0a5.45 5.45 0 1 0 -10.9 0zM289.2 1298.3a5.45 5.45 0 1 0 10.9 0a5.45 5.45 0 1 0 -10.9 0zM295.9 1298.9a5.45 5.45 0 1 0 10.9 0a5.45 5.45 0 1 0 -10.9 0zM300.2 1297.7a5.45 5.45 0 1 0 10.9 0a5.45 5.45 0 1 0 -10.9 0zM305.9 1297.5a5.45 5.45 0 1 0 10.9 0a5.45 5.45 0 1 0 -10.9 0zM310.9 1298.9a5.45 5.45 0 1 0 10.9 0a5.45 5.45 0 1 0 -10.9 0zM315.4 1298.4a5.45 5.45 0 1 0 10.9 0a5.45 5.45 0 1 0 -10.9 0zM319.4 1298.0a5.45 5.45 0 1 0 10.9 0a5.45 5.45 0 1 0 -10.9 0zM325.4 1298.6a5.45 5.45 0 1 0 10.9 0a5.45 5.45 0 1 0 -10.9 0zM329.9 1298.9a5.45 5.45 0 1 0 10.9 0a5.45 5.45 0 1 0 -10.9 0zM334.2 1297.9a5.45 5.45 0 1 0 10.9 0a5.45 5.45 0 1 0 -10.9 0zM339.2 1298.0a5.45 5.45 0 1 0 10.9 0a5.45 5.45 0 1 0 -10.9 0zM345.7 1298.8a5.45 5.45 0 1 0 10.9 0a5.45 5.45 0 1 0 -10.9 0zM349.4 1297.9a5.45 5.45 0 1 0 10.9 0a5.45 5.45 0 1 0 -10.9 0zM354.2 1298.6a5.45 5.45 0 1 0 10.9 0a5.45 5.45 0 1 0 -10.9 0zM359.9 1297.8a5.45 5.45 0 1 0 10.9 0a5.45 5.45 0 1 0 -10.9 0zM364.8 1299.0a5.45 5.45 0 1 0 10.9 0a5.45 5.45 0 1 0 -10.9 0zM369.9 1298.7a5.45 5.45 0 1 0 10.9 0a5.45 5.45 0 1 0 -10.9 0zM283.4 1302.1a5.45 5.45 0 1 0 10.9 0a5.45 5.45 0 1 0 -10.9 0zM288.6 1302.3a5.45 5.45 0 1 0 10.9 0a5.45 5.45 0 1 0 -10.9 0zM292.4 1303.6a5.45 5.45 0 1 0 10.9 0a5.45 5.45 0 1 0 -10.9 0zM296.9 1302.4a5.45 5.45 0 1 0 10.9 0a5.45 5.45 0 1 0 -10.9 0zM302.9 1302.2a5.45 5.45 0 1 0 10.9 0a5.45 5.45 0 1 0 -10.9 0zM307.1 1303.2a5.45 5.45 0 1 0 10.9 0a5.45 5.45 0 1 0 -10.9 0zM312.8 1303.1a5.45 5.45 0 1 0 10.9 0a5.45 5.45 0 1 0 -10.9 0zM318.2 1303.4a5.45 5.45 0 1 0 10.9 0a5.45 5.45 0 1 0 -10.9 0zM323.4 1303.3a5.45 5.45 0 1 0 10.9 0a5.45 5.45 0 1 0 -10.9 0zM328.6 1302.6a5.45 5.45 0 1 0 10.9 0a5.45 5.45 0 1 0 -10.9 0zM332.9 1302.7a5.45 5.45 0 1 0 10.9 0a5.45 5.45 0 1 0 -10.9 0zM338.4 1303.0a5.45 5.45 0 1 0 10.9 0a5.45 5.45 0 1 0 -10.9 0zM342.4 1303.0a5.45 5.45 0 1 0 10.9 0a5.45 5.45 0 1 0 -10.9 0zM347.2 1301.9a5.45 5.45 0 1 0 10.9 0a5.45 5.45 0 1 0 -10.9 0zM352.4 1301.9a5.45 5.45 0 1 0 10.9 0a5.45 5.45 0 1 0 -10.9 0zM356.6 1301.8a5.45 5.45 0 1 0 10.9 0a5.45 5.45 0 1 0 -10.9 0zM362.4 1303.2a5.45 5.45 0 1 0 10.9 0a5.45 5.45 0 1 0 -10.9 0zM366.7 1302.9a5.45 5.45 0 1 0 10.9 0a5.45 5.45 0 1 0 -10.9 0zM371.8 1302.7a5.45 5.45 0 1 0 10.9 0a5.45 5.45 0 1 0 -10.9 0zM377.2 1302.5a5.45 5.45 0 1 0 10.9 0a5.45 5.45 0 1 0 -10.9 0zM285.2 1306.3a5.45 5.45 0 1 0 10.9 0a5.45 5.45 0 1 0 -10.9 0zM290.6 1306.2a5.45 5.45 0 1 0 10.9 0a5.45 5.45 0 1 0 -10.9 0zM295.9 1306.6a5.45 5.45 0 1 0 10.9 0a5.45 5.45 0 1 0 -10.9 0zM299.6 1306.4a5.45 5.45 0 1 0 10.9 0a5.45 5.45 0 1 0 -10.9 0zM304.9 1307.6a5.45 5.45 0 1 0 10.9 0a5.45 5.45 0 1 0 -10.9 0zM310.8 1307.5a5.45 5.45 0 1 0 10.9 0a5.45 5.45 0 1 0 -10.9 0zM315.6 1306.5a5.45 5.45 0 1 0 10.9 0a5.45 5.45 0 1 0 -10.9 0zM319.7 1306.6a5.45 5.45 0 1 0 10.9 0a5.45 5.45 0 1 0 -10.9 0zM324.9 1307.7a5.45 5.45 0 1 0 10.9 0a5.45 5.45 0 1 0 -10.9 0zM331.1 1306.1a5.45 5.45 0 1 0 10.9 0a5.45 5.45 0 1 0 -10.9 0zM335.9 1307.8a5.45 5.45 0 1 0 10.9 0a5.45 5.45 0 1 0 -10.9 0zM339.9 1307.4a5.45 5.45 0 1 0 10.9 0a5.45 5.45 0 1 0 -10.9 0zM345.7 1306.3a5.45 5.45 0 1 0 10.9 0a5.45 5.45 0 1 0 -10.9 0zM350.2 1307.9a5.45 5.45 0 1 0 10.9 0a5.45 5.45 0 1 0 -10.9 0zM355.9 1307.8a5.45 5.45 0 1 0 10.9 0a5.45 5.45 0 1 0 -10.9 0zM359.2 1307.4a5.45 5.45 0 1 0 10.9 0a5.45 5.45 0 1 0 -10.9 0zM365.1 1307.8a5.45 5.45 0 1 0 10.9 0a5.45 5.45 0 1 0 -10.9 0zM369.4 1307.1a5.45 5.45 0 1 0 10.9 0a5.45 5.45 0 1 0 -10.9 0zM374.2 1307.6a5.45 5.45 0 1 0 10.9 0a5.45 5.45 0 1 0 -10.9 0zM380.4 1306.0a5.45 5.45 0 1 0 10.9 0a5.45 5.45 0 1 0 -10.9 0zM307.7 1311.8a5.45 5.45 0 1 0 10.9 0a5.45 5.45 0 1 0 -10.9 0zM312.9 1312.2a5.45 5.45 0 1 0 10.9 0a5.45 5.45 0 1 0 -10.9 0zM317.1 1311.6a5.45 5.45 0 1 0 10.9 0a5.45 5.45 0 1 0 -10.9 0zM323.6 1311.4a5.45 5.45 0 1 0 10.9 0a5.45 5.45 0 1 0 -10.9 0zM328.4 1310.5a5.45 5.45 0 1 0 10.9 0a5.45 5.45 0 1 0 -10.9 0zM332.9 1310.8a5.45 5.45 0 1 0 10.9 0a5.45 5.45 0 1 0 -10.9 0zM338.1 1311.1a5.45 5.45 0 1 0 10.9 0a5.45 5.45 0 1 0 -10.9 0zM342.7 1310.8a5.45 5.45 0 1 0 10.9 0a5.45 5.45 0 1 0 -10.9 0zM347.1 1312.0a5.45 5.45 0 1 0 10.9 0a5.45 5.45 0 1 0 -10.9 0zM352.9 1311.6a5.45 5.45 0 1 0 10.9 0a5.45 5.45 0 1 0 -10.9 0zM356.8 1310.9a5.45 5.45 0 1 0 10.9 0a5.45 5.45 0 1 0 -10.9 0zM363.4 1310.7a5.45 5.45 0 1 0 10.9 0a5.45 5.45 0 1 0 -10.9 0zM367.7 1311.7a5.45 5.45 0 1 0 10.9 0a5.45 5.45 0 1 0 -10.9 0zM372.6 1311.4a5.45 5.45 0 1 0 10.9 0a5.45 5.45 0 1 0 -10.9 0zM378.4 1311.9a5.45 5.45 0 1 0 10.9 0a5.45 5.45 0 1 0 -10.9 0zM382.1 1311.2a5.45 5.45 0 1 0 10.9 0a5.45 5.45 0 1 0 -10.9 0zM344.4 1315.7a5.45 5.45 0 1 0 10.9 0a5.45 5.45 0 1 0 -10.9 0zM349.4 1314.9a5.45 5.45 0 1 0 10.9 0a5.45 5.45 0 1 0 -10.9 0zM354.8 1314.9a5.45 5.45 0 1 0 10.9 0a5.45 5.45 0 1 0 -10.9 0zM404.7 1237.3a5.45 5.45 0 1 0 10.9 0a5.45 5.45 0 1 0 -10.9 0zM410.8 1238.0a5.45 5.45 0 1 0 10.9 0a5.45 5.45 0 1 0 -10.9 0zM416.7 1237.2a5.45 5.45 0 1 0 10.9 0a5.45 5.45 0 1 0 -10.9 0zM421.4 1237.4a5.45 5.45 0 1 0 10.9 0a5.45 5.45 0 1 0 -10.9 0zM399.9 1242.3a5.45 5.45 0 1 0 10.9 0a5.45 5.45 0 1 0 -10.9 0zM405.6 1242.4a5.45 5.45 0 1 0 10.9 0a5.45 5.45 0 1 0 -10.9 0zM412.2 1241.8a5.45 5.45 0 1 0 10.9 0a5.45 5.45 0 1 0 -10.9 0zM418.4 1242.1a5.45 5.45 0 1 0 10.9 0a5.45 5.45 0 1 0 -10.9 0zM422.2 1243.8a5.45 5.45 0 1 0 10.9 0a5.45 5.45 0 1 0 -10.9 0zM386.1 1248.1a5.45 5.45 0 1 0 10.9 0a5.45 5.45 0 1 0 -10.9 0zM398.2 1245.4a5.45 5.45 0 1 0 10.9 0a5.45 5.45 0 1 0 -10.9 0zM403.1 1248.2a5.45 5.45 0 1 0 10.9 0a5.45 5.45 0 1 0 -10.9 0zM410.7 1246.9a5.45 5.45 0 1 0 10.9 0a5.45 5.45 0 1 0 -10.9 0zM416.2 1247.0a5.45 5.45 0 1 0 10.9 0a5.45 5.45 0 1 0 -10.9 0zM420.9 1247.3a5.45 5.45 0 1 0 10.9 0a5.45 5.45 0 1 0 -10.9 0zM344.2 1252.9a5.45 5.45 0 1 0 10.9 0a5.45 5.45 0 1 0 -10.9 0zM348.2 1252.9a5.45 5.45 0 1 0 10.9 0a5.45 5.45 0 1 0 -10.9 0zM354.6 1251.5a5.45 5.45 0 1 0 10.9 0a5.45 5.45 0 1 0 -10.9 0zM360.9 1253.2a5.45 5.45 0 1 0 10.9 0a5.45 5.45 0 1 0 -10.9 0zM366.1 1253.7a5.45 5.45 0 1 0 10.9 0a5.45 5.45 0 1 0 -10.9 0zM369.8 1252.1a5.45 5.45 0 1 0 10.9 0a5.45 5.45 0 1 0 -10.9 0zM377.8 1251.5a5.45 5.45 0 1 0 10.9 0a5.45 5.45 0 1 0 -10.9 0zM381.9 1252.8a5.45 5.45 0 1 0 10.9 0a5.45 5.45 0 1 0 -10.9 0zM388.7 1251.2a5.45 5.45 0 1 0 10.9 0a5.45 5.45 0 1 0 -10.9 0zM393.1 1253.8a5.45 5.45 0 1 0 10.9 0a5.45 5.45 0 1 0 -10.9 0zM399.9 1250.7a5.45 5.45 0 1 0 10.9 0a5.45 5.45 0 1 0 -10.9 0zM405.2 1251.2a5.45 5.45 0 1 0 10.9 0a5.45 5.45 0 1 0 -10.9 0zM413.4 1250.9a5.45 5.45 0 1 0 10.9 0a5.45 5.45 0 1 0 -10.9 0zM417.1 1250.6a5.45 5.45 0 1 0 10.9 0a5.45 5.45 0 1 0 -10.9 0zM423.6 1251.0a5.45 5.45 0 1 0 10.9 0a5.45 5.45 0 1 0 -10.9 0zM346.9 1258.3a5.45 5.45 0 1 0 10.9 0a5.45 5.45 0 1 0 -10.9 0zM349.4 1256.7a5.45 5.45 0 1 0 10.9 0a5.45 5.45 0 1 0 -10.9 0zM358.2 1255.4a5.45 5.45 0 1 0 10.9 0a5.45 5.45 0 1 0 -10.9 0zM361.7 1257.1a5.45 5.45 0 1 0 10.9 0a5.45 5.45 0 1 0 -10.9 0zM368.2 1258.0a5.45 5.45 0 1 0 10.9 0a5.45 5.45 0 1 0 -10.9 0zM375.2 1257.0a5.45 5.45 0 1 0 10.9 0a5.45 5.45 0 1 0 -10.9 0zM379.2 1256.1a5.45 5.45 0 1 0 10.9 0a5.45 5.45 0 1 0 -10.9 0zM385.2 1255.5a5.45 5.45 0 1 0 10.9 0a5.45 5.45 0 1 0 -10.9 0zM392.4 1255.9a5.45 5.45 0 1 0 10.9 0a5.45 5.45 0 1 0 -10.9 0zM398.9 1257.6a5.45 5.45 0 1 0 10.9 0a5.45 5.45 0 1 0 -10.9 0zM401.8 1257.1a5.45 5.45 0 1 0 10.9 0a5.45 5.45 0 1 0 -10.9 0zM409.6 1255.4a5.45 5.45 0 1 0 10.9 0a5.45 5.45 0 1 0 -10.9 0zM414.9 1255.4a5.45 5.45 0 1 0 10.9 0a5.45 5.45 0 1 0 -10.9 0zM421.8 1255.3a5.45 5.45 0 1 0 10.9 0a5.45 5.45 0 1 0 -10.9 0zM342.9 1263.9a5.45 5.45 0 1 0 10.9 0a5.45 5.45 0 1 0 -10.9 0zM349.4 1261.2a5.45 5.45 0 1 0 10.9 0a5.45 5.45 0 1 0 -10.9 0zM354.2 1260.8a5.45 5.45 0 1 0 10.9 0a5.45 5.45 0 1 0 -10.9 0zM359.2 1263.4a5.45 5.45 0 1 0 10.9 0a5.45 5.45 0 1 0 -10.9 0zM366.8 1260.3a5.45 5.45 0 1 0 10.9 0a5.45 5.45 0 1 0 -10.9 0zM371.1 1262.6a5.45 5.45 0 1 0 10.9 0a5.45 5.45 0 1 0 -10.9 0zM376.1 1263.2a5.45 5.45 0 1 0 10.9 0a5.45 5.45 0 1 0 -10.9 0zM384.4 1262.3a5.45 5.45 0 1 0 10.9 0a5.45 5.45 0 1 0 -10.9 0zM388.4 1263.4a5.45 5.45 0 1 0 10.9 0a5.45 5.45 0 1 0 -10.9 0zM394.7 1261.0a5.45 5.45 0 1 0 10.9 0a5.45 5.45 0 1 0 -10.9 0zM399.7 1260.9a5.45 5.45 0 1 0 10.9 0a5.45 5.45 0 1 0 -10.9 0zM407.4 1262.1a5.45 5.45 0 1 0 10.9 0a5.45 5.45 0 1 0 -10.9 0zM412.8 1263.3a5.45 5.45 0 1 0 10.9 0a5.45 5.45 0 1 0 -10.9 0zM419.6 1261.0a5.45 5.45 0 1 0 10.9 0a5.45 5.45 0 1 0 -10.9 0zM423.4 1263.5a5.45 5.45 0 1 0 10.9 0a5.45 5.45 0 1 0 -10.9 0zM340.4 1266.7a5.45 5.45 0 1 0 10.9 0a5.45 5.45 0 1 0 -10.9 0zM345.9 1266.0a5.45 5.45 0 1 0 10.9 0a5.45 5.45 0 1 0 -10.9 0zM349.9 1265.5a5.45 5.45 0 1 0 10.9 0a5.45 5.45 0 1 0 -10.9 0zM356.6 1266.2a5.45 5.45 0 1 0 10.9 0a5.45 5.45 0 1 0 -10.9 0zM362.9 1268.8a5.45 5.45 0 1 0 10.9 0a5.45 5.45 0 1 0 -10.9 0zM367.4 1267.3a5.45 5.45 0 1 0 10.9 0a5.45 5.45 0 1 0 -10.9 0zM375.7 1267.5a5.45 5.45 0 1 0 10.9 0a5.45 5.45 0 1 0 -10.9 0zM380.2 1268.1a5.45 5.45 0 1 0 10.9 0a5.45 5.45 0 1 0 -10.9 0zM384.2 1268.8a5.45 5.45 0 1 0 10.9 0a5.45 5.45 0 1 0 -10.9 0zM392.4 1268.2a5.45 5.45 0 1 0 10.9 0a5.45 5.45 0 1 0 -10.9 0zM398.8 1265.7a5.45 5.45 0 1 0 10.9 0a5.45 5.45 0 1 0 -10.9 0zM401.8 1266.0a5.45 5.45 0 1 0 10.9 0a5.45 5.45 0 1 0 -10.9 0zM409.2 1268.7a5.45 5.45 0 1 0 10.9 0a5.45 5.45 0 1 0 -10.9 0zM416.4 1266.8a5.45 5.45 0 1 0 10.9 0a5.45 5.45 0 1 0 -10.9 0zM421.2 1268.0a5.45 5.45 0 1 0 10.9 0a5.45 5.45 0 1 0 -10.9 0zM341.9 1273.9a5.45 5.45 0 1 0 10.9 0a5.45 5.45 0 1 0 -10.9 0zM349.9 1273.0a5.45 5.45 0 1 0 10.9 0a5.45 5.45 0 1 0 -10.9 0zM355.4 1273.2a5.45 5.45 0 1 0 10.9 0a5.45 5.45 0 1 0 -10.9 0zM360.4 1271.5a5.45 5.45 0 1 0 10.9 0a5.45 5.45 0 1 0 -10.9 0zM364.9 1271.2a5.45 5.45 0 1 0 10.9 0a5.45 5.45 0 1 0 -10.9 0zM369.9 1273.7a5.45 5.45 0 1 0 10.9 0a5.45 5.45 0 1 0 -10.9 0zM376.6 1270.4a5.45 5.45 0 1 0 10.9 0a5.45 5.45 0 1 0 -10.9 0zM382.4 1270.7a5.45 5.45 0 1 0 10.9 0a5.45 5.45 0 1 0 -10.9 0zM388.7 1271.6a5.45 5.45 0 1 0 10.9 0a5.45 5.45 0 1 0 -10.9 0zM393.4 1272.1a5.45 5.45 0 1 0 10.9 0a5.45 5.45 0 1 0 -10.9 0zM400.2 1271.6a5.45 5.45 0 1 0 10.9 0a5.45 5.45 0 1 0 -10.9 0zM407.4 1271.5a5.45 5.45 0 1 0 10.9 0a5.45 5.45 0 1 0 -10.9 0zM412.2 1273.5a5.45 5.45 0 1 0 10.9 0a5.45 5.45 0 1 0 -10.9 0zM419.6 1271.7a5.45 5.45 0 1 0 10.9 0a5.45 5.45 0 1 0 -10.9 0zM421.9 1273.8a5.45 5.45 0 1 0 10.9 0a5.45 5.45 0 1 0 -10.9 0zM339.7 1276.2a5.45 5.45 0 1 0 10.9 0a5.45 5.45 0 1 0 -10.9 0zM344.1 1276.2a5.45 5.45 0 1 0 10.9 0a5.45 5.45 0 1 0 -10.9 0zM350.4 1275.9a5.45 5.45 0 1 0 10.9 0a5.45 5.45 0 1 0 -10.9 0zM355.4 1279.0a5.45 5.45 0 1 0 10.9 0a5.45 5.45 0 1 0 -10.9 0zM363.9 1275.8a5.45 5.45 0 1 0 10.9 0a5.45 5.45 0 1 0 -10.9 0zM368.4 1278.3a5.45 5.45 0 1 0 10.9 0a5.45 5.45 0 1 0 -10.9 0zM374.4 1275.6a5.45 5.45 0 1 0 10.9 0a5.45 5.45 0 1 0 -10.9 0zM379.6 1276.8a5.45 5.45 0 1 0 10.9 0a5.45 5.45 0 1 0 -10.9 0zM387.4 1277.5a5.45 5.45 0 1 0 10.9 0a5.45 5.45 0 1 0 -10.9 0zM391.7 1277.7a5.45 5.45 0 1 0 10.9 0a5.45 5.45 0 1 0 -10.9 0zM395.9 1277.9a5.45 5.45 0 1 0 10.9 0a5.45 5.45 0 1 0 -10.9 0zM404.4 1277.8a5.45 5.45 0 1 0 10.9 0a5.45 5.45 0 1 0 -10.9 0zM408.7 1276.4a5.45 5.45 0 1 0 10.9 0a5.45 5.45 0 1 0 -10.9 0zM413.2 1275.7a5.45 5.45 0 1 0 10.9 0a5.45 5.45 0 1 0 -10.9 0zM419.6 1277.0a5.45 5.45 0 1 0 10.9 0a5.45 5.45 0 1 0 -10.9 0zM343.4 1281.2a5.45 5.45 0 1 0 10.9 0a5.45 5.45 0 1 0 -10.9 0zM348.2 1282.7a5.45 5.45 0 1 0 10.9 0a5.45 5.45 0 1 0 -10.9 0zM354.6 1280.5a5.45 5.45 0 1 0 10.9 0a5.45 5.45 0 1 0 -10.9 0zM361.4 1282.5a5.45 5.45 0 1 0 10.9 0a5.45 5.45 0 1 0 -10.9 0zM364.9 1281.3a5.45 5.45 0 1 0 10.9 0a5.45 5.45 0 1 0 -10.9 0zM372.2 1283.8a5.45 5.45 0 1 0 10.9 0a5.45 5.45 0 1 0 -10.9 0zM376.7 1281.8a5.45 5.45 0 1 0 10.9 0a5.45 5.45 0 1 0 -10.9 0zM383.2 1281.0a5.45 5.45 0 1 0 10.9 0a5.45 5.45 0 1 0 -10.9 0zM388.6 1283.7a5.45 5.45 0 1 0 10.9 0a5.45 5.45 0 1 0 -10.9 0zM394.9 1283.4a5.45 5.45 0 1 0 10.9 0a5.45 5.45 0 1 0 -10.9 0zM399.6 1283.5a5.45 5.45 0 1 0 10.9 0a5.45 5.45 0 1 0 -10.9 0zM407.2 1281.2a5.45 5.45 0 1 0 10.9 0a5.45 5.45 0 1 0 -10.9 0zM412.2 1282.9a5.45 5.45 0 1 0 10.9 0a5.45 5.45 0 1 0 -10.9 0zM418.2 1282.6a5.45 5.45 0 1 0 10.9 0a5.45 5.45 0 1 0 -10.9 0zM422.8 1282.4a5.45 5.45 0 1 0 10.9 0a5.45 5.45 0 1 0 -10.9 0zM344.9 1289.0a5.45 5.45 0 1 0 10.9 0a5.45 5.45 0 1 0 -10.9 0zM351.4 1286.2a5.45 5.45 0 1 0 10.9 0a5.45 5.45 0 1 0 -10.9 0zM356.7 1285.9a5.45 5.45 0 1 0 10.9 0a5.45 5.45 0 1 0 -10.9 0zM363.7 1285.6a5.45 5.45 0 1 0 10.9 0a5.45 5.45 0 1 0 -10.9 0zM368.9 1286.5a5.45 5.45 0 1 0 10.9 0a5.45 5.45 0 1 0 -10.9 0zM375.4 1285.9a5.45 5.45 0 1 0 10.9 0a5.45 5.45 0 1 0 -10.9 0zM380.8 1288.0a5.45 5.45 0 1 0 10.9 0a5.45 5.45 0 1 0 -10.9 0zM384.9 1285.9a5.45 5.45 0 1 0 10.9 0a5.45 5.45 0 1 0 -10.9 0zM391.2 1287.8a5.45 5.45 0 1 0 10.9 0a5.45 5.45 0 1 0 -10.9 0zM396.7 1285.5a5.45 5.45 0 1 0 10.9 0a5.45 5.45 0 1 0 -10.9 0zM403.2 1288.3a5.45 5.45 0 1 0 10.9 0a5.45 5.45 0 1 0 -10.9 0zM407.9 1288.8a5.45 5.45 0 1 0 10.9 0a5.45 5.45 0 1 0 -10.9 0zM414.9 1286.0a5.45 5.45 0 1 0 10.9 0a5.45 5.45 0 1 0 -10.9 0zM419.4 1286.8a5.45 5.45 0 1 0 10.9 0a5.45 5.45 0 1 0 -10.9 0zM342.4 1291.1a5.45 5.45 0 1 0 10.9 0a5.45 5.45 0 1 0 -10.9 0zM346.8 1292.3a5.45 5.45 0 1 0 10.9 0a5.45 5.45 0 1 0 -10.9 0zM353.2 1292.1a5.45 5.45 0 1 0 10.9 0a5.45 5.45 0 1 0 -10.9 0zM359.7 1293.0a5.45 5.45 0 1 0 10.9 0a5.45 5.45 0 1 0 -10.9 0zM365.9 1291.3a5.45 5.45 0 1 0 10.9 0a5.45 5.45 0 1 0 -10.9 0zM370.2 1293.5a5.45 5.45 0 1 0 10.9 0a5.45 5.45 0 1 0 -10.9 0zM375.7 1290.9a5.45 5.45 0 1 0 10.9 0a5.45 5.45 0 1 0 -10.9 0zM381.6 1293.4a5.45 5.45 0 1 0 10.9 0a5.45 5.45 0 1 0 -10.9 0zM388.9 1293.8a5.45 5.45 0 1 0 10.9 0a5.45 5.45 0 1 0 -10.9 0zM395.2 1291.7a5.45 5.45 0 1 0 10.9 0a5.45 5.45 0 1 0 -10.9 0zM400.2 1293.1a5.45 5.45 0 1 0 10.9 0a5.45 5.45 0 1 0 -10.9 0zM405.2 1293.3a5.45 5.45 0 1 0 10.9 0a5.45 5.45 0 1 0 -10.9 0zM411.8 1290.6a5.45 5.45 0 1 0 10.9 0a5.45 5.45 0 1 0 -10.9 0zM417.2 1292.5a5.45 5.45 0 1 0 10.9 0a5.45 5.45 0 1 0 -10.9 0zM422.4 1293.7a5.45 5.45 0 1 0 10.9 0a5.45 5.45 0 1 0 -10.9 0zM341.1 1297.3a5.45 5.45 0 1 0 10.9 0a5.45 5.45 0 1 0 -10.9 0zM346.9 1298.0a5.45 5.45 0 1 0 10.9 0a5.45 5.45 0 1 0 -10.9 0zM351.2 1296.0a5.45 5.45 0 1 0 10.9 0a5.45 5.45 0 1 0 -10.9 0zM358.6 1298.8a5.45 5.45 0 1 0 10.9 0a5.45 5.45 0 1 0 -10.9 0zM362.6 1296.9a5.45 5.45 0 1 0 10.9 0a5.45 5.45 0 1 0 -10.9 0zM367.1 1297.7a5.45 5.45 0 1 0 10.9 0a5.45 5.45 0 1 0 -10.9 0zM375.7 1296.9a5.45 5.45 0 1 0 10.9 0a5.45 5.45 0 1 0 -10.9 0zM379.4 1297.7a5.45 5.45 0 1 0 10.9 0a5.45 5.45 0 1 0 -10.9 0zM387.1 1296.1a5.45 5.45 0 1 0 10.9 0a5.45 5.45 0 1 0 -10.9 0zM390.9 1297.8a5.45 5.45 0 1 0 10.9 0a5.45 5.45 0 1 0 -10.9 0zM395.9 1298.4a5.45 5.45 0 1 0 10.9 0a5.45 5.45 0 1 0 -10.9 0zM402.7 1298.5a5.45 5.45 0 1 0 10.9 0a5.45 5.45 0 1 0 -10.9 0zM408.9 1296.1a5.45 5.45 0 1 0 10.9 0a5.45 5.45 0 1 0 -10.9 0zM413.2 1295.9a5.45 5.45 0 1 0 10.9 0a5.45 5.45 0 1 0 -10.9 0zM419.9 1298.2a5.45 5.45 0 1 0 10.9 0a5.45 5.45 0 1 0 -10.9 0zM347.6 1302.9a5.45 5.45 0 1 0 10.9 0a5.45 5.45 0 1 0 -10.9 0zM354.9 1301.8a5.45 5.45 0 1 0 10.9 0a5.45 5.45 0 1 0 -10.9 0zM358.4 1302.2a5.45 5.45 0 1 0 10.9 0a5.45 5.45 0 1 0 -10.9 0zM364.7 1301.2a5.45 5.45 0 1 0 10.9 0a5.45 5.45 0 1 0 -10.9 0zM371.1 1300.8a5.45 5.45 0 1 0 10.9 0a5.45 5.45 0 1 0 -10.9 0zM378.7 1301.5a5.45 5.45 0 1 0 10.9 0a5.45 5.45 0 1 0 -10.9 0zM384.4 1303.2a5.45 5.45 0 1 0 10.9 0a5.45 5.45 0 1 0 -10.9 0zM387.1 1303.7a5.45 5.45 0 1 0 10.9 0a5.45 5.45 0 1 0 -10.9 0zM395.8 1302.4a5.45 5.45 0 1 0 10.9 0a5.45 5.45 0 1 0 -10.9 0zM401.9 1302.2a5.45 5.45 0 1 0 10.9 0a5.45 5.45 0 1 0 -10.9 0zM404.6 1301.0a5.45 5.45 0 1 0 10.9 0a5.45 5.45 0 1 0 -10.9 0zM411.4 1303.6a5.45 5.45 0 1 0 10.9 0a5.45 5.45 0 1 0 -10.9 0zM419.1 1300.9a5.45 5.45 0 1 0 10.9 0a5.45 5.45 0 1 0 -10.9 0zM423.2 1300.9a5.45 5.45 0 1 0 10.9 0a5.45 5.45 0 1 0 -10.9 0zM358.4 1307.3a5.45 5.45 0 1 0 10.9 0a5.45 5.45 0 1 0 -10.9 0zM362.4 1308.3a5.45 5.45 0 1 0 10.9 0a5.45 5.45 0 1 0 -10.9 0zM367.9 1306.4a5.45 5.45 0 1 0 10.9 0a5.45 5.45 0 1 0 -10.9 0zM372.9 1306.6a5.45 5.45 0 1 0 10.9 0a5.45 5.45 0 1 0 -10.9 0zM379.2 1308.2a5.45 5.45 0 1 0 10.9 0a5.45 5.45 0 1 0 -10.9 0zM385.4 1308.1a5.45 5.45 0 1 0 10.9 0a5.45 5.45 0 1 0 -10.9 0zM390.9 1305.8a5.45 5.45 0 1 0 10.9 0a5.45 5.45 0 1 0 -10.9 0zM396.9 1306.9a5.45 5.45 0 1 0 10.9 0a5.45 5.45 0 1 0 -10.9 0zM404.9 1306.2a5.45 5.45 0 1 0 10.9 0a5.45 5.45 0 1 0 -10.9 0zM408.2 1306.1a5.45 5.45 0 1 0 10.9 0a5.45 5.45 0 1 0 -10.9 0zM414.1 1309.0a5.45 5.45 0 1 0 10.9 0a5.45 5.45 0 1 0 -10.9 0zM422.4 1306.3a5.45 5.45 0 1 0 10.9 0a5.45 5.45 0 1 0 -10.9 0zM366.4 1313.4a5.45 5.45 0 1 0 10.9 0a5.45 5.45 0 1 0 -10.9 0zM371.4 1312.2a5.45 5.45 0 1 0 10.9 0a5.45 5.45 0 1 0 -10.9 0zM377.4 1311.0a5.45 5.45 0 1 0 10.9 0a5.45 5.45 0 1 0 -10.9 0zM383.2 1311.4a5.45 5.45 0 1 0 10.9 0a5.45 5.45 0 1 0 -10.9 0zM388.2 1310.7a5.45 5.45 0 1 0 10.9 0a5.45 5.45 0 1 0 -10.9 0zM393.4 1310.7a5.45 5.45 0 1 0 10.9 0a5.45 5.45 0 1 0 -10.9 0zM400.6 1311.4a5.45 5.45 0 1 0 10.9 0a5.45 5.45 0 1 0 -10.9 0zM406.4 1312.4a5.45 5.45 0 1 0 10.9 0a5.45 5.45 0 1 0 -10.9 0zM411.1 1311.0a5.45 5.45 0 1 0 10.9 0a5.45 5.45 0 1 0 -10.9 0zM418.2 1313.0a5.45 5.45 0 1 0 10.9 0a5.45 5.45 0 1 0 -10.9 0zM424.4 1312.4a5.45 5.45 0 1 0 10.9 0a5.45 5.45 0 1 0 -10.9 0zM373.9 1316.5a5.45 5.45 0 1 0 10.9 0a5.45 5.45 0 1 0 -10.9 0zM381.2 1315.9a5.45 5.45 0 1 0 10.9 0a5.45 5.45 0 1 0 -10.9 0zM385.2 1317.7a5.45 5.45 0 1 0 10.9 0a5.45 5.45 0 1 0 -10.9 0zM393.1 1318.7a5.45 5.45 0 1 0 10.9 0a5.45 5.45 0 1 0 -10.9 0zM396.9 1316.5a5.45 5.45 0 1 0 10.9 0a5.45 5.45 0 1 0 -10.9 0zM402.9 1316.0a5.45 5.45 0 1 0 10.9 0a5.45 5.45 0 1 0 -10.9 0zM408.4 1318.3a5.45 5.45 0 1 0 10.9 0a5.45 5.45 0 1 0 -10.9 0zM416.7 1316.5a5.45 5.45 0 1 0 10.9 0a5.45 5.45 0 1 0 -10.9 0zM419.2 1318.2a5.45 5.45 0 1 0 10.9 0a5.45 5.45 0 1 0 -10.9 0zM389.9 1320.9a5.45 5.45 0 1 0 10.9 0a5.45 5.45 0 1 0 -10.9 0zM394.2 1322.3a5.45 5.45 0 1 0 10.9 0a5.45 5.45 0 1 0 -10.9 0zM400.4 1323.1a5.45 5.45 0 1 0 10.9 0a5.45 5.45 0 1 0 -10.9 0zM407.9 1323.5a5.45 5.45 0 1 0 10.9 0a5.45 5.45 0 1 0 -10.9 0zM412.2 1323.0a5.45 5.45 0 1 0 10.9 0a5.45 5.45 0 1 0 -10.9 0zM423.9 1322.7a5.45 5.45 0 1 0 10.9 0a5.45 5.45 0 1 0 -10.9 0zM460.2 1238.2a5.45 5.45 0 1 0 10.9 0a5.45 5.45 0 1 0 -10.9 0zM484.2 1239.1a5.45 5.45 0 1 0 10.9 0a5.45 5.45 0 1 0 -10.9 0zM428.4 1246.0a5.45 5.45 0 1 0 10.9 0a5.45 5.45 0 1 0 -10.9 0zM439.4 1244.7a5.45 5.45 0 1 0 10.9 0a5.45 5.45 0 1 0 -10.9 0zM449.1 1242.0a5.45 5.45 0 1 0 10.9 0a5.45 5.45 0 1 0 -10.9 0zM454.9 1244.6a5.45 5.45 0 1 0 10.9 0a5.45 5.45 0 1 0 -10.9 0zM462.9 1240.3a5.45 5.45 0 1 0 10.9 0a5.45 5.45 0 1 0 -10.9 0zM475.6 1244.3a5.45 5.45 0 1 0 10.9 0a5.45 5.45 0 1 0 -10.9 0zM480.9 1243.6a5.45 5.45 0 1 0 10.9 0a5.45 5.45 0 1 0 -10.9 0zM493.7 1242.0a5.45 5.45 0 1 0 10.9 0a5.45 5.45 0 1 0 -10.9 0zM432.2 1252.6a5.45 5.45 0 1 0 10.9 0a5.45 5.45 0 1 0 -10.9 0zM445.8 1250.1a5.45 5.45 0 1 0 10.9 0a5.45 5.45 0 1 0 -10.9 0zM451.6 1249.3a5.45 5.45 0 1 0 10.9 0a5.45 5.45 0 1 0 -10.9 0zM463.9 1253.3a5.45 5.45 0 1 0 10.9 0a5.45 5.45 0 1 0 -10.9 0zM470.6 1248.8a5.45 5.45 0 1 0 10.9 0a5.45 5.45 0 1 0 -10.9 0zM476.1 1252.6a5.45 5.45 0 1 0 10.9 0a5.45 5.45 0 1 0 -10.9 0zM484.8 1252.1a5.45 5.45 0 1 0 10.9 0a5.45 5.45 0 1 0 -10.9 0zM494.9 1247.9a5.45 5.45 0 1 0 10.9 0a5.45 5.45 0 1 0 -10.9 0zM428.9 1261.0a5.45 5.45 0 1 0 10.9 0a5.45 5.45 0 1 0 -10.9 0zM438.4 1259.5a5.45 5.45 0 1 0 10.9 0a5.45 5.45 0 1 0 -10.9 0zM449.8 1257.7a5.45 5.45 0 1 0 10.9 0a5.45 5.45 0 1 0 -10.9 0zM456.7 1260.6a5.45 5.45 0 1 0 10.9 0a5.45 5.45 0 1 0 -10.9 0zM466.8 1258.5a5.45 5.45 0 1 0 10.9 0a5.45 5.45 0 1 0 -10.9 0zM474.2 1258.0a5.45 5.45 0 1 0 10.9 0a5.45 5.45 0 1 0 -10.9 0zM481.9 1259.4a5.45 5.45 0 1 0 10.9 0a5.45 5.45 0 1 0 -10.9 0zM489.4 1260.7a5.45 5.45 0 1 0 10.9 0a5.45 5.45 0 1 0 -10.9 0zM498.4 1256.6a5.45 5.45 0 1 0 10.9 0a5.45 5.45 0 1 0 -10.9 0zM429.6 1262.7a5.45 5.45 0 1 0 10.9 0a5.45 5.45 0 1 0 -10.9 0zM434.6 1266.1a5.45 5.45 0 1 0 10.9 0a5.45 5.45 0 1 0 -10.9 0zM443.4 1267.9a5.45 5.45 0 1 0 10.9 0a5.45 5.45 0 1 0 -10.9 0zM453.4 1265.8a5.45 5.45 0 1 0 10.9 0a5.45 5.45 0 1 0 -10.9 0zM457.8 1268.9a5.45 5.45 0 1 0 10.9 0a5.45 5.45 0 1 0 -10.9 0zM468.7 1264.9a5.45 5.45 0 1 0 10.9 0a5.45 5.45 0 1 0 -10.9 0zM476.4 1263.8a5.45 5.45 0 1 0 10.9 0a5.45 5.45 0 1 0 -10.9 0zM484.2 1263.4a5.45 5.45 0 1 0 10.9 0a5.45 5.45 0 1 0 -10.9 0zM496.4 1264.5a5.45 5.45 0 1 0 10.9 0a5.45 5.45 0 1 0 -10.9 0zM430.9 1274.2a5.45 5.45 0 1 0 10.9 0a5.45 5.45 0 1 0 -10.9 0zM436.8 1274.9a5.45 5.45 0 1 0 10.9 0a5.45 5.45 0 1 0 -10.9 0zM446.1 1275.2a5.45 5.45 0 1 0 10.9 0a5.45 5.45 0 1 0 -10.9 0zM459.2 1272.9a5.45 5.45 0 1 0 10.9 0a5.45 5.45 0 1 0 -10.9 0zM464.1 1273.3a5.45 5.45 0 1 0 10.9 0a5.45 5.45 0 1 0 -10.9 0zM476.4 1276.3a5.45 5.45 0 1 0 10.9 0a5.45 5.45 0 1 0 -10.9 0zM483.9 1272.6a5.45 5.45 0 1 0 10.9 0a5.45 5.45 0 1 0 -10.9 0zM490.4 1274.5a5.45 5.45 0 1 0 10.9 0a5.45 5.45 0 1 0 -10.9 0zM498.6 1275.1a5.45 5.45 0 1 0 10.9 0a5.45 5.45 0 1 0 -10.9 0zM435.2 1280.8a5.45 5.45 0 1 0 10.9 0a5.45 5.45 0 1 0 -10.9 0zM445.9 1283.2a5.45 5.45 0 1 0 10.9 0a5.45 5.45 0 1 0 -10.9 0zM454.2 1281.6a5.45 5.45 0 1 0 10.9 0a5.45 5.45 0 1 0 -10.9 0zM460.2 1280.0a5.45 5.45 0 1 0 10.9 0a5.45 5.45 0 1 0 -10.9 0zM469.4 1282.9a5.45 5.45 0 1 0 10.9 0a5.45 5.45 0 1 0 -10.9 0zM479.7 1278.1a5.45 5.45 0 1 0 10.9 0a5.45 5.45 0 1 0 -10.9 0zM485.2 1277.9a5.45 5.45 0 1 0 10.9 0a5.45 5.45 0 1 0 -10.9 0zM494.1 1282.8a5.45 5.45 0 1 0 10.9 0a5.45 5.45 0 1 0 -10.9 0zM431.7 1285.1a5.45 5.45 0 1 0 10.9 0a5.45 5.45 0 1 0 -10.9 0zM441.1 1288.9a5.45 5.45 0 1 0 10.9 0a5.45 5.45 0 1 0 -10.9 0zM447.9 1285.1a5.45 5.45 0 1 0 10.9 0a5.45 5.45 0 1 0 -10.9 0zM453.6 1285.4a5.45 5.45 0 1 0 10.9 0a5.45 5.45 0 1 0 -10.9 0zM467.7 1287.6a5.45 5.45 0 1 0 10.9 0a5.45 5.45 0 1 0 -10.9 0zM471.1 1290.1a5.45 5.45 0 1 0 10.9 0a5.45 5.45 0 1 0 -10.9 0zM482.4 1287.1a5.45 5.45 0 1 0 10.9 0a5.45 5.45 0 1 0 -10.9 0zM490.4 1286.3a5.45 5.45 0 1 0 10.9 0a5.45 5.45 0 1 0 -10.9 0zM496.7 1290.0a5.45 5.45 0 1 0 10.9 0a5.45 5.45 0 1 0 -10.9 0zM429.1 1294.6a5.45 5.45 0 1 0 10.9 0a5.45 5.45 0 1 0 -10.9 0zM435.7 1297.9a5.45 5.45 0 1 0 10.9 0a5.45 5.45 0 1 0 -10.9 0zM440.8 1298.8a5.45 5.45 0 1 0 10.9 0a5.45 5.45 0 1 0 -10.9 0zM449.9 1294.8a5.45 5.45 0 1 0 10.9 0a5.45 5.45 0 1 0 -10.9 0zM458.2 1293.7a5.45 5.45 0 1 0 10.9 0a5.45 5.45 0 1 0 -10.9 0zM467.4 1294.0a5.45 5.45 0 1 0 10.9 0a5.45 5.45 0 1 0 -10.9 0zM477.9 1296.5a5.45 5.45 0 1 0 10.9 0a5.45 5.45 0 1 0 -10.9 0zM486.8 1297.1a5.45 5.45 0 1 0 10.9 0a5.45 5.45 0 1 0 -10.9 0zM498.2 1293.8a5.45 5.45 0 1 0 10.9 0a5.45 5.45 0 1 0 -10.9 0zM429.9 1303.6a5.45 5.45 0 1 0 10.9 0a5.45 5.45 0 1 0 -10.9 0zM437.6 1300.1a5.45 5.45 0 1 0 10.9 0a5.45 5.45 0 1 0 -10.9 0zM450.2 1303.1a5.45 5.45 0 1 0 10.9 0a5.45 5.45 0 1 0 -10.9 0zM455.9 1304.0a5.45 5.45 0 1 0 10.9 0a5.45 5.45 0 1 0 -10.9 0zM463.9 1302.2a5.45 5.45 0 1 0 10.9 0a5.45 5.45 0 1 0 -10.9 0zM471.7 1302.6a5.45 5.45 0 1 0 10.9 0a5.45 5.45 0 1 0 -10.9 0zM481.2 1303.3a5.45 5.45 0 1 0 10.9 0a5.45 5.45 0 1 0 -10.9 0zM493.4 1304.9a5.45 5.45 0 1 0 10.9 0a5.45 5.45 0 1 0 -10.9 0zM428.9 1308.3a5.45 5.45 0 1 0 10.9 0a5.45 5.45 0 1 0 -10.9 0zM438.1 1308.3a5.45 5.45 0 1 0 10.9 0a5.45 5.45 0 1 0 -10.9 0zM446.2 1310.4a5.45 5.45 0 1 0 10.9 0a5.45 5.45 0 1 0 -10.9 0zM453.7 1313.5a5.45 5.45 0 1 0 10.9 0a5.45 5.45 0 1 0 -10.9 0zM457.9 1309.3a5.45 5.45 0 1 0 10.9 0a5.45 5.45 0 1 0 -10.9 0zM467.2 1309.3a5.45 5.45 0 1 0 10.9 0a5.45 5.45 0 1 0 -10.9 0zM476.6 1311.5a5.45 5.45 0 1 0 10.9 0a5.45 5.45 0 1 0 -10.9 0zM488.9 1308.9a5.45 5.45 0 1 0 10.9 0a5.45 5.45 0 1 0 -10.9 0zM494.8 1308.0a5.45 5.45 0 1 0 10.9 0a5.45 5.45 0 1 0 -10.9 0zM428.2 1315.8a5.45 5.45 0 1 0 10.9 0a5.45 5.45 0 1 0 -10.9 0zM436.7 1320.1a5.45 5.45 0 1 0 10.9 0a5.45 5.45 0 1 0 -10.9 0zM446.8 1319.1a5.45 5.45 0 1 0 10.9 0a5.45 5.45 0 1 0 -10.9 0zM458.4 1316.3a5.45 5.45 0 1 0 10.9 0a5.45 5.45 0 1 0 -10.9 0zM464.9 1318.7a5.45 5.45 0 1 0 10.9 0a5.45 5.45 0 1 0 -10.9 0zM473.6 1318.7a5.45 5.45 0 1 0 10.9 0a5.45 5.45 0 1 0 -10.9 0zM479.8 1320.2a5.45 5.45 0 1 0 10.9 0a5.45 5.45 0 1 0 -10.9 0zM307.1 1266.2a5.45 5.45 0 1 0 10.9 0a5.45 5.45 0 1 0 -10.9 0zM248.5 1260.2a5.45 5.45 0 1 0 10.9 0a5.45 5.45 0 1 0 -10.9 0zM237.0 1263.3a5.45 5.45 0 1 0 10.9 0a5.45 5.45 0 1 0 -10.9 0zM243.7 1261.4a5.45 5.45 0 1 0 10.9 0a5.45 5.45 0 1 0 -10.9 0zM308.4 1263.6a5.45 5.45 0 1 0 10.9 0a5.45 5.45 0 1 0 -10.9 0zM276.4 1267.2a5.45 5.45 0 1 0 10.9 0a5.45 5.45 0 1 0 -10.9 0zM338.2 1240.2a5.45 5.45 0 1 0 10.9 0a5.45 5.45 0 1 0 -10.9 0zM284.9 1270.5a5.45 5.45 0 1 0 10.9 0a5.45 5.45 0 1 0 -10.9 0zM310.1 1252.0a5.45 5.45 0 1 0 10.9 0a5.45 5.45 0 1 0 -10.9 0zM260.9 1270.3a5.45 5.45 0 1 0 10.9 0a5.45 5.45 0 1 0 -10.9 0zM236.2 1263.4a5.45 5.45 0 1 0 10.9 0a5.45 5.45 0 1 0 -10.9 0zM321.9 1241.7a5.45 5.45 0 1 0 10.9 0a5.45 5.45 0 1 0 -10.9 0zM263.4 1247.0a5.45 5.45 0 1 0 10.9 0a5.45 5.45 0 1 0 -10.9 0zM287.9 1249.2a5.45 5.45 0 1 0 10.9 0a5.45 5.45 0 1 0 -10.9 0zM327.6 1269.3a5.45 5.45 0 1 0 10.9 0a5.45 5.45 0 1 0 -10.9 0zM262.2 1268.2a5.45 5.45 0 1 0 10.9 0a5.45 5.45 0 1 0 -10.9 0zM301.8 1264.8a5.45 5.45 0 1 0 10.9 0a5.45 5.45 0 1 0 -10.9 0zM323.7 1245.6a5.45 5.45 0 1 0 10.9 0a5.45 5.45 0 1 0 -10.9 0zM310.4 1269.3a5.45 5.45 0 1 0 10.9 0a5.45 5.45 0 1 0 -10.9 0zM237.2 1253.8a5.45 5.45 0 1 0 10.9 0a5.45 5.45 0 1 0 -10.9 0zM280.8 1260.1a5.45 5.45 0 1 0 10.9 0a5.45 5.45 0 1 0 -10.9 0zM336.6 1240.7a5.45 5.45 0 1 0 10.9 0a5.45 5.45 0 1 0 -10.9 0zM312.9 1255.2a5.45 5.45 0 1 0 10.9 0a5.45 5.45 0 1 0 -10.9 0zM253.9 1258.7a5.45 5.45 0 1 0 10.9 0a5.45 5.45 0 1 0 -10.9 0zM256.1 1259.2a5.45 5.45 0 1 0 10.9 0a5.45 5.45 0 1 0 -10.9 0zM299.9 1250.1a5.45 5.45 0 1 0 10.9 0a5.45 5.45 0 1 0 -10.9 0zM316.4 1250.5a5.45 5.45 0 1 0 10.9 0a5.45 5.45 0 1 0 -10.9 0zM279.6 1265.9a5.45 5.45 0 1 0 10.9 0a5.45 5.45 0 1 0 -10.9 0zM291.4 1251.6a5.45 5.45 0 1 0 10.9 0a5.45 5.45 0 1 0 -10.9 0zM325.4 1245.0a5.45 5.45 0 1 0 10.9 0a5.45 5.45 0 1 0 -10.9 0zM277.4 1247.3a5.45 5.45 0 1 0 10.9 0a5.45 5.45 0 1 0 -10.9 0zM277.2 1263.5a5.45 5.45 0 1 0 10.9 0a5.45 5.45 0 1 0 -10.9 0zM230.8 1271.6a5.45 5.45 0 1 0 10.9 0a5.45 5.45 0 1 0 -10.9 0zM306.9 1265.2a5.45 5.45 0 1 0 10.9 0a5.45 5.45 0 1 0 -10.9 0zM287.4 1256.7a5.45 5.45 0 1 0 10.9 0a5.45 5.45 0 1 0 -10.9 0zM272.9 1250.3a5.45 5.45 0 1 0 10.9 0a5.45 5.45 0 1 0 -10.9 0zM251.6 1246.9a5.45 5.45 0 1 0 10.9 0a5.45 5.45 0 1 0 -10.9 0zM259.8 1248.1a5.45 5.45 0 1 0 10.9 0a5.45 5.45 0 1 0 -10.9 0zM329.1 1264.7a5.45 5.45 0 1 0 10.9 0a5.45 5.45 0 1 0 -10.9 0zM256.2 1255.6a5.45 5.45 0 1 0 10.9 0a5.45 5.45 0 1 0 -10.9 0zM304.8 1251.1a5.45 5.45 0 1 0 10.9 0a5.45 5.45 0 1 0 -10.9 0zM298.1 1268.6a5.45 5.45 0 1 0 10.9 0a5.45 5.45 0 1 0 -10.9 0zM256.8 1249.8a5.45 5.45 0 1 0 10.9 0a5.45 5.45 0 1 0 -10.9 0zM312.4 1247.5a5.45 5.45 0 1 0 10.9 0a5.45 5.45 0 1 0 -10.9 0zM308.1 1250.3a5.45 5.45 0 1 0 10.9 0a5.45 5.45 0 1 0 -10.9 0zM370.9 1245.9a5.45 5.45 0 1 0 10.9 0a5.45 5.45 0 1 0 -10.9 0zM384.4 1238.1a5.45 5.45 0 1 0 10.9 0a5.45 5.45 0 1 0 -10.9 0zM389.6 1236.1a5.45 5.45 0 1 0 10.9 0a5.45 5.45 0 1 0 -10.9 0zM375.4 1245.6a5.45 5.45 0 1 0 10.9 0a5.45 5.45 0 1 0 -10.9 0zM368.7 1241.8a5.45 5.45 0 1 0 10.9 0a5.45 5.45 0 1 0 -10.9 0zM391.4 1246.0a5.45 5.45 0 1 0 10.9 0a5.45 5.45 0 1 0 -10.9 0zM356.2 1238.8a5.45 5.45 0 1 0 10.9 0a5.45 5.45 0 1 0 -10.9 0zM372.9 1248.2a5.45 5.45 0 1 0 10.9 0a5.45 5.45 0 1 0 -10.9 0zM362.9 1250.6a5.45 5.45 0 1 0 10.9 0a5.45 5.45 0 1 0 -10.9 0zM390.6 1244.2a5.45 5.45 0 1 0 10.9 0a5.45 5.45 0 1 0 -10.9 0zM337.4 968.1a5.45 5.45 0 1 0 10.9 0a5.45 5.45 0 1 0 -10.9 0zM378.7 963.8a5.45 5.45 0 1 0 10.9 0a5.45 5.45 0 1 0 -10.9 0zM301.4 1099.0a5.45 5.45 0 1 0 10.9 0a5.45 5.45 0 1 0 -10.9 0zM222.9 1128.5a5.45 5.45 0 1 0 10.9 0a5.45 5.45 0 1 0 -10.9 0zM456.2 1027.2a5.45 5.45 0 1 0 10.9 0a5.45 5.45 0 1 0 -10.9 0zM467.1 1133.3a5.45 5.45 0 1 0 10.9 0a5.45 5.45 0 1 0 -10.9 0zM301.2 1151.3a5.45 5.45 0 1 0 10.9 0a5.45 5.45 0 1 0 -10.9 0zM289.2 1179.3a5.45 5.45 0 1 0 10.9 0a5.45 5.45 0 1 0 -10.9 0zM317.9 1187.6a5.45 5.45 0 1 0 10.9 0a5.45 5.45 0 1 0 -10.9 0zM329.6 1194.5a5.45 5.45 0 1 0 10.9 0a5.45 5.45 0 1 0 -10.9 0zM350.8 1183.5a5.45 5.45 0 1 0 10.9 0a5.45 5.45 0 1 0 -10.9 0zM257.4 1198.3a5.45 5.45 0 1 0 10.9 0a5.45 5.45 0 1 0 -10.9 0zM271.6 1200.1a5.45 5.45 0 1 0 10.9 0a5.45 5.45 0 1 0 -10.9 0zM249.4 1210.9a5.45 5.45 0 1 0 10.9 0a5.45 5.45 0 1 0 -10.9 0zM251.2 1213.8a5.45 5.45 0 1 0 10.9 0a5.45 5.45 0 1 0 -10.9 0zM327.7 1202.8a5.45 5.45 0 1 0 10.9 0a5.45 5.45 0 1 0 -10.9 0zM265.4 1228.6a5.45 5.45 0 1 0 10.9 0a5.45 5.45 0 1 0 -10.9 0zM309.4 1224.2a5.45 5.45 0 1 0 10.9 0a5.45 5.45 0 1 0 -10.9 0zM317.7 1231.8a5.45 5.45 0 1 0 10.9 0a5.45 5.45 0 1 0 -10.9 0zM329.6 1227.1a5.45 5.45 0 1 0 10.9 0a5.45 5.45 0 1 0 -10.9 0zM235.2 1250.7a5.45 5.45 0 1 0 10.9 0a5.45 5.45 0 1 0 -10.9 0zM297.8 1241.3a5.45 5.45 0 1 0 10.9 0a5.45 5.45 0 1 0 -10.9 0zM348.9 1244.1a5.45 5.45 0 1 0 10.9 0a5.45 5.45 0 1 0 -10.9 0zM286.4 1256.4a5.45 5.45 0 1 0 10.9 0a5.45 5.45 0 1 0 -10.9 0zM237.1 1264.0a5.45 5.45 0 1 0 10.9 0a5.45 5.45 0 1 0 -10.9 0zM196.4 1288.3a5.45 5.45 0 1 0 10.9 0a5.45 5.45 0 1 0 -10.9 0zM356.9 1168.9a5.45 5.45 0 1 0 10.9 0a5.45 5.45 0 1 0 -10.9 0zM377.9 1187.6a5.45 5.45 0 1 0 10.9 0a5.45 5.45 0 1 0 -10.9 0zM401.9 1187.6a5.45 5.45 0 1 0 10.9 0a5.45 5.45 0 1 0 -10.9 0zM357.4 1203.4a5.45 5.45 0 1 0 10.9 0a5.45 5.45 0 1 0 -10.9 0zM357.4 1213.8a5.45 5.45 0 1 0 10.9 0a5.45 5.45 0 1 0 -10.9 0zM404.9 1203.0a5.45 5.45 0 1 0 10.9 0a5.45 5.45 0 1 0 -10.9 0zM409.9 1210.0a5.45 5.45 0 1 0 10.9 0a5.45 5.45 0 1 0 -10.9 0zM436.4 1208.1a5.45 5.45 0 1 0 10.9 0a5.45 5.45 0 1 0 -10.9 0zM476.2 1208.1a5.45 5.45 0 1 0 10.9 0a5.45 5.45 0 1 0 -10.9 0zM488.6 1206.2a5.45 5.45 0 1 0 10.9 0a5.45 5.45 0 1 0 -10.9 0zM513.8 1212.8a5.45 5.45 0 1 0 10.9 0a5.45 5.45 0 1 0 -10.9 0zM524.5 1211.9a5.45 5.45 0 1 0 10.9 0a5.45 5.45 0 1 0 -10.9 0zM450.7 1219.5a5.45 5.45 0 1 0 10.9 0a5.45 5.45 0 1 0 -10.9 0zM458.2 1220.4a5.45 5.45 0 1 0 10.9 0a5.45 5.45 0 1 0 -10.9 0zM454.4 1217.6a5.45 5.45 0 1 0 10.9 0a5.45 5.45 0 1 0 -10.9 0zM372.1 1221.4a5.45 5.45 0 1 0 10.9 0a5.45 5.45 0 1 0 -10.9 0zM386.2 1222.3a5.45 5.45 0 1 0 10.9 0a5.45 5.45 0 1 0 -10.9 0zM357.9 1227.1a5.45 5.45 0 1 0 10.9 0a5.45 5.45 0 1 0 -10.9 0zM414.7 1222.3a5.45 5.45 0 1 0 10.9 0a5.45 5.45 0 1 0 -10.9 0zM409.9 1228.9a5.45 5.45 0 1 0 10.9 0a5.45 5.45 0 1 0 -10.9 0zM384.4 1233.7a5.45 5.45 0 1 0 10.9 0a5.45 5.45 0 1 0 -10.9 0zM520.8 1269.7a5.45 5.45 0 1 0 10.9 0a5.45 5.45 0 1 0 -10.9 0zM542.9 1189.7a5.45 5.45 0 1 0 10.9 0a5.45 5.45 0 1 0 -10.9 0zM581.8 1219.5a5.45 5.45 0 1 0 10.9 0a5.45 5.45 0 1 0 -10.9 0zM617.8 1223.8a5.45 5.45 0 1 0 10.9 0a5.45 5.45 0 1 0 -10.9 0zM542.5 1231.8a5.45 5.45 0 1 0 10.9 0a5.45 5.45 0 1 0 -10.9 0zM565.8 1230.8a5.45 5.45 0 1 0 10.9 0a5.45 5.45 0 1 0 -10.9 0zM582.8 1232.2a5.45 5.45 0 1 0 10.9 0a5.45 5.45 0 1 0 -10.9 0zM626.3 1239.4a5.45 5.45 0 1 0 10.9 0a5.45 5.45 0 1 0 -10.9 0zM580.4 1250.2a5.45 5.45 0 1 0 10.9 0a5.45 5.45 0 1 0 -10.9 0zM596.5 1245.4a5.45 5.45 0 1 0 10.9 0a5.45 5.45 0 1 0 -10.9 0zM640.5 1253.6a5.45 5.45 0 1 0 10.9 0a5.45 5.45 0 1 0 -10.9 0zM648.1 1250.7a5.45 5.45 0 1 0 10.9 0a5.45 5.45 0 1 0 -10.9 0zM518.3 1250.7a5.45 5.45 0 1 0 10.9 0a5.45 5.45 0 1 0 -10.9 0zM522.1 1254.5a5.45 5.45 0 1 0 10.9 0a5.45 5.45 0 1 0 -10.9 0zM564.8 1259.3a5.45 5.45 0 1 0 10.9 0a5.45 5.45 0 1 0 -10.9 0zM569.4 1261.2a5.45 5.45 0 1 0 10.9 0a5.45 5.45 0 1 0 -10.9 0zM579.9 1271.6a5.45 5.45 0 1 0 10.9 0a5.45 5.45 0 1 0 -10.9 0zM536.3 1262.7a5.45 5.45 0 1 0 10.9 0a5.45 5.45 0 1 0 -10.9 0zM619.3 1265.5a5.45 5.45 0 1 0 10.9 0a5.45 5.45 0 1 0 -10.9 0zM643.3 1264.0a5.45 5.45 0 1 0 10.9 0a5.45 5.45 0 1 0 -10.9 0zM609.2 1275.4a5.45 5.45 0 1 0 10.9 0a5.45 5.45 0 1 0 -10.9 0zM528.8 1280.1a5.45 5.45 0 1 0 10.9 0a5.45 5.45 0 1 0 -10.9 0zM524.0 1284.8a5.45 5.45 0 1 0 10.9 0a5.45 5.45 0 1 0 -10.9 0zM545.8 1287.7a5.45 5.45 0 1 0 10.9 0a5.45 5.45 0 1 0 -10.9 0zM558.1 1285.8a5.45 5.45 0 1 0 10.9 0a5.45 5.45 0 1 0 -10.9 0zM647.1 1298.1a5.45 5.45 0 1 0 10.9 0a5.45 5.45 0 1 0 -10.9 0zM596.9 1299.1a5.45 5.45 0 1 0 10.9 0a5.45 5.45 0 1 0 -10.9 0zM298.7 1329.3a5.45 5.45 0 1 0 10.9 0a5.45 5.45 0 1 0 -10.9 0zM336.6 1330.2a5.45 5.45 0 1 0 10.9 0a5.45 5.45 0 1 0 -10.9 0zM434.9 1344.0a5.45 5.45 0 1 0 10.9 0a5.45 5.45 0 1 0 -10.9 0zM466.8 1350.5a5.45 5.45 0 1 0 10.9 0a5.45 5.45 0 1 0 -10.9 0zM456.4 1332.1a5.45 5.45 0 1 0 10.9 0a5.45 5.45 0 1 0 -10.9 0zM477.6 1373.2a5.45 5.45 0 1 0 10.9 0a5.45 5.45 0 1 0 -10.9 0zM509.8 1374.4a5.45 5.45 0 1 0 10.9 0a5.45 5.45 0 1 0 -10.9 0zM514.1 1432.5a5.45 5.45 0 1 0 10.9 0a5.45 5.45 0 1 0 -10.9 0zM419.4 1459.1a5.45 5.45 0 1 0 10.9 0a5.45 5.45 0 1 0 -10.9 0zM518.8 1336.5a5.45 5.45 0 1 0 10.9 0a5.45 5.45 0 1 0 -10.9 0zM498.1 1329.3a5.45 5.45 0 1 0 10.9 0a5.45 5.45 0 1 0 -10.9 0zM503.8 1323.6a5.45 5.45 0 1 0 10.9 0a5.45 5.45 0 1 0 -10.9 0zM426.4 1323.6a5.45 5.45 0 1 0 10.9 0a5.45 5.45 0 1 0 -10.9 0zM643.3 1312.2a5.45 5.45 0 1 0 10.9 0a5.45 5.45 0 1 0 -10.9 0zM667.0 1309.4a5.45 5.45 0 1 0 10.9 0a5.45 5.45 0 1 0 -10.9 0zM673.8 1317.5a5.45 5.45 0 1 0 10.9 0a5.45 5.45 0 1 0 -10.9 0zM625.3 1317.9a5.45 5.45 0 1 0 10.9 0a5.45 5.45 0 1 0 -10.9 0zM574.8 1324.5a5.45 5.45 0 1 0 10.9 0a5.45 5.45 0 1 0 -10.9 0zM572.8 1309.4a5.45 5.45 0 1 0 10.9 0a5.45 5.45 0 1 0 -10.9 0zM562.4 1307.5a5.45 5.45 0 1 0 10.9 0a5.45 5.45 0 1 0 -10.9 0zM549.6 1320.4a5.45 5.45 0 1 0 10.9 0a5.45 5.45 0 1 0 -10.9 0zM520.2 1304.6a5.45 5.45 0 1 0 10.9 0a5.45 5.45 0 1 0 -10.9 0zM525.9 1308.4a5.45 5.45 0 1 0 10.9 0a5.45 5.45 0 1 0 -10.9 0zM530.6 1312.2a5.45 5.45 0 1 0 10.9 0a5.45 5.45 0 1 0 -10.9 0zM523.0 1314.1a5.45 5.45 0 1 0 10.9 0a5.45 5.45 0 1 0 -10.9 0zM532.5 1319.8a5.45 5.45 0 1 0 10.9 0a5.45 5.45 0 1 0 -10.9 0zM542.9 1337.8a5.45 5.45 0 1 0 10.9 0a5.45 5.45 0 1 0 -10.9 0zM548.6 1340.3a5.45 5.45 0 1 0 10.9 0a5.45 5.45 0 1 0 -10.9 0zM513.4 1302.1a5.45 5.45 0 1 0 10.9 0a5.45 5.45 0 1 0 -10.9 0zM509.3 1308.9a5.45 5.45 0 1 0 10.9 0a5.45 5.45 0 1 0 -10.9 0zM529.9 1304.8a5.45 5.45 0 1 0 10.9 0a5.45 5.45 0 1 0 -10.9 0zM501.2 1315.8a5.45 5.45 0 1 0 10.9 0a5.45 5.45 0 1 0 -10.9 0z"/>
<path stroke="#1f77b4" d="M299.9 1265.4a5.45 5.45 0 1 0 10.9 0a5.45 5.45 0 1 0 -10.9 0zM334.7 1254.3a5.45 5.45 0 1 0 10.9 0a5.45 5.45 0 1 0 -10.9 0zM234.0 1268.1a5.45 5.45 0 1 0 10.9 0a5.45 5.45 0 1 0 -10.9 0zM264.2 1258.2a5.45 5.45 0 1 0 10.9 0a5.45 5.45 0 1 0 -10.9 0zM318.7 1254.0a5.45 5.45 0 1 0 10.9 0a5.45 5.45 0 1 0 -10.9 0zM329.4 1260.8a5.45 5.45 0 1 0 10.9 0a5.45 5.45 0 1 0 -10.9 0zM234.7 1270.2a5.45 5.45 0 1 0 10.9 0a5.45 5.45 0 1 0 -10.9 0zM291.2 1251.7a5.45 5.45 0 1 0 10.9 0a5.45 5.45 0 1 0 -10.9 0zM205.2 1287.1a5.45 5.45 0 1 0 10.9 0a5.45 5.45 0 1 0 -10.9 0zM210.2 1287.2a5.45 5.45 0 1 0 10.9 0a5.45 5.45 0 1 0 -10.9 0zM214.7 1288.4a5.45 5.45 0 1 0 10.9 0a5.45 5.45 0 1 0 -10.9 0zM218.6 1287.7a5.45 5.45 0 1 0 10.9 0a5.45 5.45 0 1 0 -10.9 0zM224.1 1287.7a5.45 5.45 0 1 0 10.9 0a5.45 5.45 0 1 0 -10.9 0zM227.5 1288.5a5.45 5.45 0 1 0 10.9 0a5.45 5.45 0 1 0 -10.9 0zM232.8 1288.5a5.45 5.45 0 1 0 10.9 0a5.45 5.45 0 1 0 -10.9 0zM236.9 1287.7a5.45 5.45 0 1 0 10.9 0a5.45 5.45 0 1 0 -10.9 0zM241.2 1288.4a5.45 5.45 0 1 0 10.9 0a5.45 5.45 0 1 0 -10.9 0zM245.7 1287.3a5.45 5.45 0 1 0 10.9 0a5.45 5.45 0 1 0 -10.9 0zM258.7 1288.4a5.45 5.45 0 1 0 10.9 0a5.45 5.45 0 1 0 -10.9 0zM212.5 1291.5a5.45 5.45 0 1 0 10.9 0a5.45 5.45 0 1 0 -10.9 0zM217.4 1291.2a5.45 5.45 0 1 0 10.9 0a5.45 5.45 0 1 0 -10.9 0zM221.8 1291.2a5.45 5.45 0 1 0 10.9 0a5.45 5.45 0 1 0 -10.9 0zM226.5 1291.9a5.45 5.45 0 1 0 10.9 0a5.45 5.45 0 1 0 -10.9 0zM229.2 1292.2a5.45 5.45 0 1 0 10.9 0a5.45 5.45 0 1 0 -10.9 0zM234.0 1291.4a5.45 5.45 0 1 0 10.9 0a5.45 5.45 0 1 0 -10.9 0zM238.2 1292.2a5.45 5.45 0 1 0 10.9 0a5.45 5.45 0 1 0 -10.9 0zM242.5 1292.0a5.45 5.45 0 1 0 10.9 0a5.45 5.45 0 1 0 -10.9 0zM247.4 1291.9a5.45 5.45 0 1 0 10.9 0a5.45 5.45 0 1 0 -10.9 0zM251.6 1290.9a5.45 5.45 0 1 0 10.9 0a5.45 5.45 0 1 0 -10.9 0zM257.1 1291.9a5.45 5.45 0 1 0 10.9 0a5.45 5.45 0 1 0 -10.9 0zM260.2 1292.5a5.45 5.45 0 1 0 10.9 0a5.45 5.45 0 1 0 -10.9 0zM265.9 1291.0a5.45 5.45 0 1 0 10.9 0a5.45 5.45 0 1 0 -10.9 0zM268.7 1291.8a5.45 5.45 0 1 0 10.9 0a5.45 5.45 0 1 0 -10.9 0zM273.4 1292.0a5.45 5.45 0 1 0 10.9 0a5.45 5.45 0 1 0 -10.9 0zM278.2 1292.0a5.45 5.45 0 1 0 10.9 0a5.45 5.45 0 1 0 -10.9 0zM282.9 1292.1a5.45 5.45 0 1 0 10.9 0a5.45 5.45 0 1 0 -10.9 0zM287.8 1291.8a5.45 5.45 0 1 0 10.9 0a5.45 5.45 0 1 0 -10.9 0zM291.8 1291.3a5.45 5.45 0 1 0 10.9 0a5.45 5.45 0 1 0 -10.9 0zM295.2 1290.9a5.45 5.45 0 1 0 10.9 0a5.45 5.45 0 1 0 -10.9 0zM300.9 1291.1a5.45 5.45 0 1 0 10.9 0a5.45 5.45 0 1 0 -10.9 0zM304.7 1291.3a5.45 5.45 0 1 0 10.9 0a5.45 5.45 0 1 0 -10.9 0zM309.4 1291.7a5.45 5.45 0 1 0 10.9 0a5.45 5.45 0 1 0 -10.9 0zM314.2 1291.5a5.45 5.45 0 1 0 10.9 0a5.45 5.45 0 1 0 -10.9 0zM317.8 1291.9a5.45 5.45 0 1 0 10.9 0a5.45 5.45 0 1 0 -10.9 0zM322.8 1292.4a5.45 5.45 0 1 0 10.9 0a5.45 5.45 0 1 0 -10.9 0zM326.4 1292.3a5.45 5.45 0 1 0 10.9 0a5.45 5.45 0 1 0 -10.9 0zM332.1 1292.5a5.45 5.45 0 1 0 10.9 0a5.45 5.45 0 1 0 -10.9 0zM227.6 1294.6a5.45 5.45 0 1 0 10.9 0a5.45 5.45 0 1 0 -10.9 0zM231.4 1295.2a5.45 5.45 0 1 0 10.9 0a5.45 5.45 0 1 0 -10.9 0zM237.5 1295.9a5.45 5.45 0 1 0 10.9 0a5.45 5.45 0 1 0 -10.9 0zM241.4 1295.7a5.45 5.45 0 1 0 10.9 0a5.45 5.45 0 1 0 -10.9 0zM245.0 1294.8a5.45 5.45 0 1 0 10.9 0a5.45 5.45 0 1 0 -10.9 0zM250.0 1294.6a5.45 5.45 0 1 0 10.9 0a5.45 5.45 0 1 0 -10.9 0zM254.4 1295.5a5.45 5.45 0 1 0 10.9 0a5.45 5.45 0 1 0 -10.9 0zM258.7 1294.7a5.45 5.45 0 1 0 10.9 0a5.45 5.45 0 1 0 -10.9 0zM262.2 1295.4a5.45 5.45 0 1 0 10.9 0a5.45 5.45 0 1 0 -10.9 0zM266.8 1295.7a5.45 5.45 0 1 0 10.9 0a5.45 5.45 0 1 0 -10.9 0zM271.4 1295.6a5.45 5.45 0 1 0 10.9 0a5.45 5.45 0 1 0 -10.9 0zM276.7 1295.6a5.45 5.45 0 1 0 10.9 0a5.45 5.45 0 1 0 -10.9 0zM280.7 1294.9a5.45 5.45 0 1 0 10.9 0a5.45 5.45 0 1 0 -10.9 0zM284.7 1296.3a5.45 5.45 0 1 0 10.9 0a5.45 5.45 0 1 0 -10.9 0zM288.9 1295.0a5.45 5.45 0 1 0 10.9 0a5.45 5.45 0 1 0 -10.9 0zM293.8 1295.5a5.45 5.45 0 1 0 10.9 0a5.45 5.45 0 1 0 -10.9 0zM298.7 1295.1a5.45 5.45 0 1 0 10.9 0a5.45 5.45 0 1 0 -10.9 0zM303.4 1294.6a5.45 5.45 0 1 0 10.9 0a5.45 5.45 0 1 0 -10.9 0zM307.4 1295.6a5.45 5.45 0 1 0 10.9 0a5.45 5.45 0 1 0 -10.9 0zM312.1 1294.8a5.45 5.45 0 1 0 10.9 0a5.45 5.45 0 1 0 -10.9 0zM316.1 1296.2a5.45 5.45 0 1 0 10.9 0a5.45 5.45 0 1 0 -10.9 0zM320.4 1294.7a5.45 5.45 0 1 0 10.9 0a5.45 5.45 0 1 0 -10.9 0zM325.4 1296.3a5.45 5.45 0 1 0 10.9 0a5.45 5.45 0 1 0 -10.9 0zM328.2 1296.0a5.45 5.45 0 1 0 10.9 0a5.45 5.45 0 1 0 -10.9 0zM332.6 1294.7a5.45 5.45 0 1 0 10.9 0a5.45 5.45 0 1 0 -10.9 0zM338.2 1295.8a5.45 5.45 0 1 0 10.9 0a5.45 5.45 0 1 0 -10.9 0zM342.9 1295.7a5.45 5.45 0 1 0 10.9 0a5.45 5.45 0 1 0 -10.9 0zM239.4 1298.7a5.45 5.45 0 1 0 10.9 0a5.45 5.45 0 1 0 -10.9 0zM243.7 1299.8a5.45 5.45 0 1 0 10.9 0a5.45 5.45 0 1 0 -10.9 0zM247.0 1298.6a5.45 5.45 0 1 0 10.9 0a5.45 5.45 0 1 0 -10.9 0zM252.1 1300.1a5.45 5.45 0 1 0 10.9 0a5.45 5.45 0 1 0 -10.9 0zM256.6 1299.1a5.45 5.45 0 1 0 10.9 0a5.45 5.45 0 1 0 -10.9 0zM260.8 1299.8a5.45 5.45 0 1 0 10.9 0a5.45 5.45 0 1 0 -10.9 0zM265.2 1299.3a5.45 5.45 0 1 0 10.9 0a5.45 5.45 0 1 0 -10.9 0zM269.8 1300.0a5.45 5.45 0 1 0 10.9 0a5.45 5.45 0 1 0 -10.9 0zM274.4 1299.9a5.45 5.45 0 1 0 10.9 0a5.45 5.45 0 1 0 -10.9 0zM277.9 1299.4a5.45 5.45 0 1 0 10.9 0a5.45 5.45 0 1 0 -10.9 0zM283.4 1299.6a5.45 5.45 0 1 0 10.9 0a5.45 5.45 0 1 0 -10.9 0zM287.9 1300.0a5.45 5.45 0 1 0 10.9 0a5.45 5.45 0 1 0 -10.9 0zM290.9 1299.3a5.45 5.45 0 1 0 10.9 0a5.45 5.45 0 1 0 -10.9 0zM295.7 1298.7a5.45 5.45 0 1 0 10.9 0a5.45 5.45 0 1 0 -10.9 0zM300.4 1300.1a5.45 5.45 0 1 0 10.9 0a5.45 5.45 0 1 0 -10.9 0zM305.2 1298.5a5.45 5.45 0 1 0 10.9 0a5.45 5.45 0 1 0 -10.9 0zM308.7 1299.0a5.45 5.45 0 1 0 10.9 0a5.45 5.45 0 1 0 -10.9 0zM314.2 1299.2a5.45 5.45 0 1 0 10.9 0a5.45 5.45 0 1 0 -10.9 0zM317.4 1299.3a5.45 5.45 0 1 0 10.9 0a5.45 5.45 0 1 0 -10.9 0zM321.9 1298.4a5.45 5.45 0 1 0 10.9 0a5.45 5.45 0 1 0 -10.9 0zM326.9 1300.1a5.45 5.45 0 1 0 10.9 0a5.45 5.45 0 1 0 -10.9 0zM331.7 1299.7a5.45 5.45 0 1 0 10.9 0a5.45 5.45 0 1 0 -10.9 0zM334.9 1299.4a5.45 5.45 0 1 0 10.9 0a5.45 5.45 0 1 0 -10.9 0zM340.2 1299.7a5.45 5.45 0 1 0 10.9 0a5.45 5.45 0 1 0 -10.9 0zM344.2 1298.4a5.45 5.45 0 1 0 10.9 0a5.45 5.45 0 1 0 -10.9 0zM349.6 1298.8a5.45 5.45 0 1 0 10.9 0a5.45 5.45 0 1 0 -10.9 0zM353.6 1299.2a5.45 5.45 0 1 0 10.9 0a5.45 5.45 0 1 0 -10.9 0zM262.6 1302.3a5.45 5.45 0 1 0 10.9 0a5.45 5.45 0 1 0 -10.9 0zM267.4 1302.8a5.45 5.45 0 1 0 10.9 0a5.45 5.45 0 1 0 -10.9 0zM272.6 1303.6a5.45 5.45 0 1 0 10.9 0a5.45 5.45 0 1 0 -10.9 0zM276.4 1303.7a5.45 5.45 0 1 0 10.9 0a5.45 5.45 0 1 0 -10.9 0zM280.2 1302.4a5.45 5.45 0 1 0 10.9 0a5.45 5.45 0 1 0 -10.9 0zM285.2 1302.6a5.45 5.45 0 1 0 10.9 0a5.45 5.45 0 1 0 -10.9 0zM290.2 1302.9a5.45 5.45 0 1 0 10.9 0a5.45 5.45 0 1 0 -10.9 0zM294.4 1302.6a5.45 5.45 0 1 0 10.9 0a5.45 5.45 0 1 0 -10.9 0zM297.4 1303.3a5.45 5.45 0 1 0 10.9 0a5.45 5.45 0 1 0 -10.9 0zM302.9 1302.6a5.45 5.45 0 1 0 10.9 0a5.45 5.45 0 1 0 -10.9 0zM307.8 1303.9a5.45 5.45 0 1 0 10.9 0a5.45 5.45 0 1 0 -10.9 0zM311.7 1303.9a5.45 5.45 0 1 0 10.9 0a5.45 5.45 0 1 0 -10.9 0zM316.7 1302.4a5.45 5.45 0 1 0 10.9 0a5.45 5.45 0 1 0 -10.9 0zM320.6 1303.5a5.45 5.45 0 1 0 10.9 0a5.45 5.45 0 1 0 -10.9 0zM324.9 1302.8a5.45 5.45 0 1 0 10.9 0a5.45 5.45 0 1 0 -10.9 0zM329.1 1303.2a5.45 5.45 0 1 0 10.9 0a5.45 5.45 0 1 0 -10.9 0zM333.9 1302.2a5.45 5.45 0 1 0 10.9 0a5.45 5.45 0 1 0 -10.9 0zM337.6 1302.7a5.45 5.45 0 1 0 10.9 0a5.45 5.45 0 1 0 -10.9 0zM342.7 1302.4a5.45 5.45 0 1 0 10.9 0a5.45 5.45 0 1 0 -10.9 0zM345.8 1302.4a5.45 5.45 0 1 0 10.9 0a5.45 5.45 0 1 0 -10.9 0zM350.2 1302.9a5.45 5.45 0 1 0 10.9 0a5.45 5.45 0 1 0 -10.9 0zM356.1 1302.8a5.45 5.45 0 1 0 10.9 0a5.45 5.45 0 1 0 -10.9 0zM359.1 1303.4a5.45 5.45 0 1 0 10.9 0a5.45 5.45 0 1 0 -10.9 0zM363.9 1303.2a5.45 5.45 0 1 0 10.9 0a5.45 5.45 0 1 0 -10.9 0zM368.9 1303.0a5.45 5.45 0 1 0 10.9 0a5.45 5.45 0 1 0 -10.9 0zM373.4 1303.3a5.45 5.45 0 1 0 10.9 0a5.45 5.45 0 1 0 -10.9 0zM277.4 1306.7a5.45 5.45 0 1 0 10.9 0a5.45 5.45 0 1 0 -10.9 0zM283.6 1307.5a5.45 5.45 0 1 0 10.9 0a5.45 5.45 0 1 0 -10.9 0zM286.6 1307.5a5.45 5.45 0 1 0 10.9 0a5.45 5.45 0 1 0 -10.9 0zM291.1 1306.4a5.45 5.45 0 1 0 10.9 0a5.45 5.45 0 1 0 -10.9 0zM296.2 1306.5a5.45 5.45 0 1 0 10.9 0a5.45 5.45 0 1 0 -10.9 0zM299.9 1306.1a5.45 5.45 0 1 0 10.9 0a5.45 5.45 0 1 0 -10.9 0zM304.2 1306.3a5.45 5.45 0 1 0 10.9 0a5.45 5.45 0 1 0 -10.9 0zM309.9 1306.0a5.45 5.45 0 1 0 10.9 0a5.45 5.45 0 1 0 -10.9 0zM313.7 1306.3a5.45 5.45 0 1 0 10.9 0a5.45 5.45 0 1 0 -10.9 0zM318.4 1306.0a5.45 5.45 0 1 0 10.9 0a5.45 5.45 0 1 0 -10.9 0zM322.2 1307.3a5.45 5.45 0 1 0 10.9 0a5.45 5.45 0 1 0 -10.9 0zM325.9 1306.7a5.45 5.45 0 1 0 10.9 0a5.45 5.45 0 1 0 -10.9 0zM330.9 1306.8a5.45 5.45 0 1 0 10.9 0a5.45 5.45 0 1 0 -10.9 0zM335.8 1306.1a5.45 5.45 0 1 0 10.9 0a5.45 5.45 0 1 0 -10.9 0zM340.7 1306.4a5.45 5.45 0 1 0 10.9 0a5.45 5.45 0 1 0 -10.9 0zM344.9 1306.2a5.45 5.45 0 1 0 10.9 0a5.45 5.45 0 1 0 -10.9 0zM348.1 1306.3a5.45 5.45 0 1 0 10.9 0a5.45 5.45 0 1 0 -10.9 0zM352.4 1306.4a5.45 5.45 0 1 0 10.9 0a5.45 5.45 0 1 0 -10.9 0zM356.9 1306.1a5.45 5.45 0 1 0 10.9 0a5.45 5.45 0 1 0 -10.9 0zM362.6 1306.9a5.45 5.45 0 1 0 10.9 0a5.45 5.45 0 1 0 -10.9 0zM366.4 1306.9a5.45 5.45 0 1 0 10.9 0a5.45 5.45 0 1 0 -10.9 0zM371.4 1306.0a5.45 5.45 0 1 0 10.9 0a5.45 5.45 0 1 0 -10.9 0zM374.4 1307.2a5.45 5.45 0 1 0 10.9 0a5.45 5.45 0 1 0 -10.9 0zM378.7 1306.9a5.45 5.45 0 1 0 10.9 0a5.45 5.45 0 1 0 -10.9 0zM384.2 1307.5a5.45 5.45 0 1 0 10.9 0a5.45 5.45 0 1 0 -10.9 0zM285.1 1309.9a5.45 5.45 0 1 0 10.9 0a5.45 5.45 0 1 0 -10.9 0zM288.9 1310.5a5.45 5.45 0 1 0 10.9 0a5.45 5.45 0 1 0 -10.9 0zM293.1 1311.2a5.45 5.45 0 1 0 10.9 0a5.45 5.45 0 1 0 -10.9 0zM298.9 1309.8a5.45 5.45 0 1 0 10.9 0a5.45 5.45 0 1 0 -10.9 0zM303.2 1310.1a5.45 5.45 0 1 0 10.9 0a5.45 5.45 0 1 0 -10.9 0zM307.4 1309.9a5.45 5.45 0 1 0 10.9 0a5.45 5.45 0 1 0 -10.9 0zM311.8 1311.5a5.45 5.45 0 1 0 10.9 0a5.45 5.45 0 1 0 -10.9 0zM315.4 1310.1a5.45 5.45 0 1 0 10.9 0a5.45 5.45 0 1 0 -10.9 0zM319.9 1311.3a5.45 5.45 0 1 0 10.9 0a5.45 5.45 0 1 0 -10.9 0zM325.1 1310.1a5.45 5.45 0 1 0 10.9 0a5.45 5.45 0 1 0 -10.9 0zM329.7 1311.1a5.45 5.45 0 1 0 10.9 0a5.45 5.45 0 1 0 -10.9 0zM334.2 1311.5a5.45 5.45 0 1 0 10.9 0a5.45 5.45 0 1 0 -10.9 0zM337.2 1311.1a5.45 5.45 0 1 0 10.9 0a5.45 5.45 0 1 0 -10.9 0zM341.2 1310.1a5.45 5.45 0 1 0 10.9 0a5.45 5.45 0 1 0 -10.9 0zM346.7 1310.2a5.45 5.45 0 1 0 10.9 0a5.45 5.45 0 1 0 -10.9 0zM350.4 1310.4a5.45 5.45 0 1 0 10.9 0a5.45 5.45 0 1 0 -10.9 0zM355.2 1311.4a5.45 5.45 0 1 0 10.9 0a5.45 5.45 0 1 0 -10.9 0zM359.9 1310.8a5.45 5.45 0 1 0 10.9 0a5.45 5.45 0 1 0 -10.9 0zM364.6 1310.1a5.45 5.45 0 1 0 10.9 0a5.45 5.45 0 1 0 -10.9 0zM369.1 1311.1a5.45 5.45 0 1 0 10.9 0a5.45 5.45 0 1 0 -10.9 0zM373.6 1310.6a5.45 5.45 0 1 0 10.9 0a5.45 5.45 0 1 0 -10.9 0zM377.4 1309.9a5.45 5.45 0 1 0 10.9 0a5.45 5.45 0 1 0 -10.9 0zM381.7 1310.9a5.45 5.45 0 1 0 10.9 0a5.45 5.45 0 1 0 -10.9 0zM386.9 1311.4a5.45 5.45 0 1 0 10.9 0a5.45 5.45 0 1 0 -10.9 0zM300.9 1314.7a5.45 5.45 0 1 0 10.9 0a5.45 5.45 0 1 0 -10.9 0zM304.6 1315.4a5.45 5.45 0 1 0 10.9 0a5.45 5.45 0 1 0 -10.9 0zM308.6 1313.6a5.45 5.45 0 1 0 10.9 0a5.45 5.45 0 1 0 -10.9 0zM312.9 1314.8a5.45 5.45 0 1 0 10.9 0a5.45 5.45 0 1 0 -10.9 0zM317.2 1314.9a5.45 5.45 0 1 0 10.9 0a5.45 5.45 0 1 0 -10.9 0zM321.7 1314.1a5.45 5.45 0 1 0 10.9 0a5.45 5.45 0 1 0 -10.9 0zM326.9 1313.6a5.45 5.45 0 1 0 10.9 0a5.45 5.45 0 1 0 -10.9 0zM331.1 1315.4a5.45 5.45 0 1 0 10.9 0a5.45 5.45 0 1 0 -10.9 0zM335.9 1314.3a5.45 5.45 0 1 0 10.9 0a5.45 5.45 0 1 0 -10.9 0zM340.7 1314.6a5.45 5.45 0 1 0 10.9 0a5.45 5.45 0 1 0 -10.9 0zM344.9 1314.2a5.45 5.45 0 1 0 10.9 0a5.45 5.45 0 1 0 -10.9 0zM348.6 1314.8a5.45 5.45 0 1 0 10.9 0a5.45 5.45 0 1 0 -10.9 0zM353.7 1314.8a5.45 5.45 0 1 0 10.9 0a5.45 5.45 0 1 0 -10.9 0zM356.9 1314.3a5.45 5.45 0 1 0 10.9 0a5.45 5.45 0 1 0 -10.9 0zM361.7 1314.0a5.45 5.45 0 1 0 10.9 0a5.45 5.45 0 1 0 -10.9 0zM365.7 1314.9a5.45 5.45 0 1 0 10.9 0a5.45 5.45 0 1 0 -10.9 0zM370.2 1314.2a5.45 5.45 0 1 0 10.9 0a5.45 5.45 0 1 0 -10.9 0zM374.2 1314.9a5.45 5.45 0 1 0 10.9 0a5.45 5.45 0 1 0 -10.9 0zM379.8 1313.7a5.45 5.45 0 1 0 10.9 0a5.45 5.45 0 1 0 -10.9 0zM384.8 1315.4a5.45 5.45 0 1 0 10.9 0a5.45 5.45 0 1 0 -10.9 0zM315.8 1317.7a5.45 5.45 0 1 0 10.9 0a5.45 5.45 0 1 0 -10.9 0zM320.4 1318.3a5.45 5.45 0 1 0 10.9 0a5.45 5.45 0 1 0 -10.9 0zM324.6 1318.2a5.45 5.45 0 1 0 10.9 0a5.45 5.45 0 1 0 -10.9 0zM329.7 1318.6a5.45 5.45 0 1 0 10.9 0a5.45 5.45 0 1 0 -10.9 0zM333.7 1318.3a5.45 5.45 0 1 0 10.9 0a5.45 5.45 0 1 0 -10.9 0zM337.6 1318.2a5.45 5.45 0 1 0 10.9 0a5.45 5.45 0 1 0 -10.9 0zM342.4 1318.2a5.45 5.45 0 1 0 10.9 0a5.45 5.45 0 1 0 -10.9 0zM345.8 1317.8a5.45 5.45 0 1 0 10.9 0a5.45 5.45 0 1 0 -10.9 0zM350.2 1317.5a5.45 5.45 0 1 0 10.9 0a5.45 5.45 0 1 0 -10.9 0zM355.1 1318.1a5.45 5.45 0 1 0 10.9 0a5.45 5.45 0 1 0 -10.9 0zM359.7 1317.8a5.45 5.45 0 1 0 10.9 0a5.45 5.45 0 1 0 -10.9 0zM363.7 1318.2a5.45 5.45 0 1 0 10.9 0a5.45 5.45 0 1 0 -10.9 0zM368.2 1317.9a5.45 5.45 0 1 0 10.9 0a5.45 5.45 0 1 0 -10.9 0zM372.9 1318.8a5.45 5.45 0 1 0 10.9 0a5.45 5.45 0 1 0 -10.9 0zM376.6 1317.4a5.45 5.45 0 1 0 10.9 0a5.45 5.45 0 1 0 -10.9 0zM255.9 1269.3a5.45 5.45 0 1 0 10.9 0a5.45 5.45 0 1 0 -10.9 0zM267.2 1268.3a5.45 5.45 0 1 0 10.9 0a5.45 5.45 0 1 0 -10.9 0zM277.4 1269.6a5.45 5.45 0 1 0 10.9 0a5.45 5.45 0 1 0 -10.9 0zM284.9 1268.5a5.45 5.45 0 1 0 10.9 0a5.45 5.45 0 1 0 -10.9 0zM303.8 1268.6a5.45 5.45 0 1 0 10.9 0a5.45 5.45 0 1 0 -10.9 0zM326.2 1268.4a5.45 5.45 0 1 0 10.9 0a5.45 5.45 0 1 0 -10.9 0zM332.9 1269.6a5.45 5.45 0 1 0 10.9 0a5.45 5.45 0 1 0 -10.9 0zM225.0 1271.9a5.45 5.45 0 1 0 10.9 0a5.45 5.45 0 1 0 -10.9 0zM231.4 1276.6a5.45 5.45 0 1 0 10.9 0a5.45 5.45 0 1 0 -10.9 0zM236.7 1273.9a5.45 5.45 0 1 0 10.9 0a5.45 5.45 0 1 0 -10.9 0zM242.2 1272.9a5.45 5.45 0 1 0 10.9 0a5.45 5.45 0 1 0 -10.9 0zM249.7 1273.0a5.45 5.45 0 1 0 10.9 0a5.45 5.45 0 1 0 -10.9 0zM255.9 1273.0a5.45 5.45 0 1 0 10.9 0a5.45 5.45 0 1 0 -10.9 0zM262.9 1274.2a5.45 5.45 0 1 0 10.9 0a5.45 5.45 0 1 0 -10.9 0zM271.6 1272.6a5.45 5.45 0 1 0 10.9 0a5.45 5.45 0 1 0 -10.9 0zM281.4 1273.1a5.45 5.45 0 1 0 10.9 0a5.45 5.45 0 1 0 -10.9 0zM286.2 1276.1a5.45 5.45 0 1 0 10.9 0a5.45 5.45 0 1 0 -10.9 0zM294.4 1276.5a5.45 5.45 0 1 0 10.9 0a5.45 5.45 0 1 0 -10.9 0zM300.7 1276.0a5.45 5.45 0 1 0 10.9 0a5.45 5.45 0 1 0 -10.9 0zM304.8 1275.3a5.45 5.45 0 1 0 10.9 0a5.45 5.45 0 1 0 -10.9 0zM313.2 1273.1a5.45 5.45 0 1 0 10.9 0a5.45 5.45 0 1 0 -10.9 0zM322.4 1275.3a5.45 5.45 0 1 0 10.9 0a5.45 5.45 0 1 0 -10.9 0zM327.2 1273.4a5.45 5.45 0 1 0 10.9 0a5.45 5.45 0 1 0 -10.9 0zM333.9 1276.3a5.45 5.45 0 1 0 10.9 0a5.45 5.45 0 1 0 -10.9 0zM211.4 1280.1a5.45 5.45 0 1 0 10.9 0a5.45 5.45 0 1 0 -10.9 0zM222.1 1282.0a5.45 5.45 0 1 0 10.9 0a5.45 5.45 0 1 0 -10.9 0zM226.8 1281.5a5.45 5.45 0 1 0 10.9 0a5.45 5.45 0 1 0 -10.9 0zM232.2 1281.1a5.45 5.45 0 1 0 10.9 0a5.45 5.45 0 1 0 -10.9 0zM243.2 1278.3a5.45 5.45 0 1 0 10.9 0a5.45 5.45 0 1 0 -10.9 0zM249.8 1282.6a5.45 5.45 0 1 0 10.9 0a5.45 5.45 0 1 0 -10.9 0zM253.9 1281.8a5.45 5.45 0 1 0 10.9 0a5.45 5.45 0 1 0 -10.9 0zM264.1 1278.3a5.45 5.45 0 1 0 10.9 0a5.45 5.45 0 1 0 -10.9 0zM268.4 1280.6a5.45 5.45 0 1 0 10.9 0a5.45 5.45 0 1 0 -10.9 0zM277.1 1278.9a5.45 5.45 0 1 0 10.9 0a5.45 5.45 0 1 0 -10.9 0zM283.9 1281.2a5.45 5.45 0 1 0 10.9 0a5.45 5.45 0 1 0 -10.9 0zM291.4 1281.3a5.45 5.45 0 1 0 10.9 0a5.45 5.45 0 1 0 -10.9 0zM298.4 1280.7a5.45 5.45 0 1 0 10.9 0a5.45 5.45 0 1 0 -10.9 0zM303.8 1279.9a5.45 5.45 0 1 0 10.9 0a5.45 5.45 0 1 0 -10.9 0zM310.1 1279.9a5.45 5.45 0 1 0 10.9 0a5.45 5.45 0 1 0 -10.9 0zM317.6 1279.6a5.45 5.45 0 1 0 10.9 0a5.45 5.45 0 1 0 -10.9 0zM322.8 1279.6a5.45 5.45 0 1 0 10.9 0a5.45 5.45 0 1 0 -10.9 0zM333.9 1279.1a5.45 5.45 0 1 0 10.9 0a5.45 5.45 0 1 0 -10.9 0zM341.1 1281.9a5.45 5.45 0 1 0 10.9 0a5.45 5.45 0 1 0 -10.9 0zM211.1 1288.6a5.45 5.45 0 1 0 10.9 0a5.45 5.45 0 1 0 -10.9 0zM215.1 1287.1a5.45 5.45 0 1 0 10.9 0a5.45 5.45 0 1 0 -10.9 0zM224.4 1286.8a5.45 5.45 0 1 0 10.9 0a5.45 5.45 0 1 0 -10.9 0zM228.1 1284.8a5.45 5.45 0 1 0 10.9 0a5.45 5.45 0 1 0 -10.9 0zM238.2 1286.9a5.45 5.45 0 1 0 10.9 0a5.45 5.45 0 1 0 -10.9 0zM245.0 1285.0a5.45 5.45 0 1 0 10.9 0a5.45 5.45 0 1 0 -10.9 0zM253.1 1287.6a5.45 5.45 0 1 0 10.9 0a5.45 5.45 0 1 0 -10.9 0zM257.9 1288.0a5.45 5.45 0 1 0 10.9 0a5.45 5.45 0 1 0 -10.9 0zM264.1 1286.4a5.45 5.45 0 1 0 10.9 0a5.45 5.45 0 1 0 -10.9 0zM272.2 1288.6a5.45 5.45 0 1 0 10.9 0a5.45 5.45 0 1 0 -10.9 0zM281.4 1285.4a5.45 5.45 0 1 0 10.9 0a5.45 5.45 0 1 0 -10.9 0zM287.6 1285.1a5.45 5.45 0 1 0 10.9 0a5.45 5.45 0 1 0 -10.9 0zM295.1 1288.2a5.45 5.45 0 1 0 10.9 0a5.45 5.45 0 1 0 -10.9 0zM300.9 1283.8a5.45 5.45 0 1 0 10.9 0a5.45 5.45 0 1 0 -10.9 0zM306.1 1284.5a5.45 5.45 0 1 0 10.9 0a5.45 5.45 0 1 0 -10.9 0zM314.1 1283.8a5.45 5.45 0 1 0 10.9 0a5.45 5.45 0 1 0 -10.9 0zM318.8 1284.1a5.45 5.45 0 1 0 10.9 0a5.45 5.45 0 1 0 -10.9 0zM329.9 1286.7a5.45 5.45 0 1 0 10.9 0a5.45 5.45 0 1 0 -10.9 0zM336.9 1288.5a5.45 5.45 0 1 0 10.9 0a5.45 5.45 0 1 0 -10.9 0zM342.4 1288.0a5.45 5.45 0 1 0 10.9 0a5.45 5.45 0 1 0 -10.9 0zM381.6 1285.2a5.45 5.45 0 1 0 10.9 0a5.45 5.45 0 1 0 -10.9 0zM378.6 1285.5a5.45 5.45 0 1 0 10.9 0a5.45 5.45 0 1 0 -10.9 0zM384.6 1285.0a5.45 5.45 0 1 0 10.9 0a5.45 5.45 0 1 0 -10.9 0zM381.6 1283.0a5.45 5.45 0 1 0 10.9 0a5.45 5.45 0 1 0 -10.9 0zM406.1 1256.5a5.45 5.45 0 1 0 10.9 0a5.45 5.45 0 1 0 -10.9 0zM404.9 1250.5a5.45 5.45 0 1 0 10.9 0a5.45 5.45 0 1 0 -10.9 0zM405.6 1253.0a5.45 5.45 0 1 0 10.9 0a5.45 5.45 0 1 0 -10.9 0zM406.6 1259.0a5.45 5.45 0 1 0 10.9 0a5.45 5.45 0 1 0 -10.9 0zM405.4 1262.0a5.45 5.45 0 1 0 10.9 0a5.45 5.45 0 1 0 -10.9 0zM338.8 938.5a5.45 5.45 0 1 0 10.9 0a5.45 5.45 0 1 0 -10.9 0zM310.4 1010.3a5.45 5.45 0 1 0 10.9 0a5.45 5.45 0 1 0 -10.9 0zM324.9 1016.9a5.45 5.45 0 1 0 10.9 0a5.45 5.45 0 1 0 -10.9 0zM376.9 1053.5a5.45 5.45 0 1 0 10.9 0a5.45 5.45 0 1 0 -10.9 0zM298.6 1109.1a5.45 5.45 0 1 0 10.9 0a5.45 5.45 0 1 0 -10.9 0zM366.6 1143.7a5.45 5.45 0 1 0 10.9 0a5.45 5.45 0 1 0 -10.9 0zM434.9 1142.9a5.45 5.45 0 1 0 10.9 0a5.45 5.45 0 1 0 -10.9 0zM295.9 1194.8a5.45 5.45 0 1 0 10.9 0a5.45 5.45 0 1 0 -10.9 0zM293.9 1201.5a5.45 5.45 0 1 0 10.9 0a5.45 5.45 0 1 0 -10.9 0zM275.6 1207.9a5.45 5.45 0 1 0 10.9 0a5.45 5.45 0 1 0 -10.9 0zM298.7 1228.0a5.45 5.45 0 1 0 10.9 0a5.45 5.45 0 1 0 -10.9 0zM280.7 1232.2a5.45 5.45 0 1 0 10.9 0a5.45 5.45 0 1 0 -10.9 0zM248.9 1232.7a5.45 5.45 0 1 0 10.9 0a5.45 5.45 0 1 0 -10.9 0zM255.1 1242.2a5.45 5.45 0 1 0 10.9 0a5.45 5.45 0 1 0 -10.9 0zM290.2 1238.4a5.45 5.45 0 1 0 10.9 0a5.45 5.45 0 1 0 -10.9 0zM334.7 1238.4a5.45 5.45 0 1 0 10.9 0a5.45 5.45 0 1 0 -10.9 0zM243.8 1249.8a5.45 5.45 0 1 0 10.9 0a5.45 5.45 0 1 0 -10.9 0zM267.4 1250.7a5.45 5.45 0 1 0 10.9 0a5.45 5.45 0 1 0 -10.9 0zM278.8 1252.6a5.45 5.45 0 1 0 10.9 0a5.45 5.45 0 1 0 -10.9 0zM305.2 1249.8a5.45 5.45 0 1 0 10.9 0a5.45 5.45 0 1 0 -10.9 0zM319.4 1252.6a5.45 5.45 0 1 0 10.9 0a5.45 5.45 0 1 0 -10.9 0zM339.4 1252.6a5.45 5.45 0 1 0 10.9 0a5.45 5.45 0 1 0 -10.9 0zM213.4 1256.0a5.45 5.45 0 1 0 10.9 0a5.45 5.45 0 1 0 -10.9 0zM230.1 1256.0a5.45 5.45 0 1 0 10.9 0a5.45 5.45 0 1 0 -10.9 0zM246.6 1260.2a5.45 5.45 0 1 0 10.9 0a5.45 5.45 0 1 0 -10.9 0zM247.5 1255.5a5.45 5.45 0 1 0 10.9 0a5.45 5.45 0 1 0 -10.9 0zM265.4 1261.2a5.45 5.45 0 1 0 10.9 0a5.45 5.45 0 1 0 -10.9 0zM294.2 1264.0a5.45 5.45 0 1 0 10.9 0a5.45 5.45 0 1 0 -10.9 0zM310.1 1263.1a5.45 5.45 0 1 0 10.9 0a5.45 5.45 0 1 0 -10.9 0zM327.1 1264.9a5.45 5.45 0 1 0 10.9 0a5.45 5.45 0 1 0 -10.9 0zM348.9 1271.6a5.45 5.45 0 1 0 10.9 0a5.45 5.45 0 1 0 -10.9 0zM206.8 1282.0a5.45 5.45 0 1 0 10.9 0a5.45 5.45 0 1 0 -10.9 0zM359.4 1167.0a5.45 5.45 0 1 0 10.9 0a5.45 5.45 0 1 0 -10.9 0zM487.7 1184.0a5.45 5.45 0 1 0 10.9 0a5.45 5.45 0 1 0 -10.9 0zM498.1 1181.2a5.45 5.45 0 1 0 10.9 0a5.45 5.45 0 1 0 -10.9 0zM425.4 1208.5a5.45 5.45 0 1 0 10.9 0a5.45 5.45 0 1 0 -10.9 0zM497.1 1208.1a5.45 5.45 0 1 0 10.9 0a5.45 5.45 0 1 0 -10.9 0zM491.1 1215.7a5.45 5.45 0 1 0 10.9 0a5.45 5.45 0 1 0 -10.9 0zM492.4 1224.2a5.45 5.45 0 1 0 10.9 0a5.45 5.45 0 1 0 -10.9 0zM372.9 1231.4a5.45 5.45 0 1 0 10.9 0a5.45 5.45 0 1 0 -10.9 0zM423.8 1228.9a5.45 5.45 0 1 0 10.9 0a5.45 5.45 0 1 0 -10.9 0zM409.6 1238.4a5.45 5.45 0 1 0 10.9 0a5.45 5.45 0 1 0 -10.9 0zM428.9 1238.4a5.45 5.45 0 1 0 10.9 0a5.45 5.45 0 1 0 -10.9 0zM446.9 1236.5a5.45 5.45 0 1 0 10.9 0a5.45 5.45 0 1 0 -10.9 0zM459.6 1237.5a5.45 5.45 0 1 0 10.9 0a5.45 5.45 0 1 0 -10.9 0zM471.9 1239.4a5.45 5.45 0 1 0 10.9 0a5.45 5.45 0 1 0 -10.9 0zM507.8 1232.7a5.45 5.45 0 1 0 10.9 0a5.45 5.45 0 1 0 -10.9 0zM512.2 1237.5a5.45 5.45 0 1 0 10.9 0a5.45 5.45 0 1 0 -10.9 0zM438.8 1246.0a5.45 5.45 0 1 0 10.9 0a5.45 5.45 0 1 0 -10.9 0zM427.9 1248.8a5.45 5.45 0 1 0 10.9 0a5.45 5.45 0 1 0 -10.9 0zM467.8 1249.8a5.45 5.45 0 1 0 10.9 0a5.45 5.45 0 1 0 -10.9 0zM456.4 1252.6a5.45 5.45 0 1 0 10.9 0a5.45 5.45 0 1 0 -10.9 0zM446.9 1256.4a5.45 5.45 0 1 0 10.9 0a5.45 5.45 0 1 0 -10.9 0zM461.1 1263.1a5.45 5.45 0 1 0 10.9 0a5.45 5.45 0 1 0 -10.9 0zM438.4 1265.9a5.45 5.45 0 1 0 10.9 0a5.45 5.45 0 1 0 -10.9 0zM427.4 1272.5a5.45 5.45 0 1 0 10.9 0a5.45 5.45 0 1 0 -10.9 0zM458.2 1274.4a5.45 5.45 0 1 0 10.9 0a5.45 5.45 0 1 0 -10.9 0zM439.2 1284.8a5.45 5.45 0 1 0 10.9 0a5.45 5.45 0 1 0 -10.9 0zM452.6 1287.7a5.45 5.45 0 1 0 10.9 0a5.45 5.45 0 1 0 -10.9 0zM478.2 1279.2a5.45 5.45 0 1 0 10.9 0a5.45 5.45 0 1 0 -10.9 0zM495.2 1263.1a5.45 5.45 0 1 0 10.9 0a5.45 5.45 0 1 0 -10.9 0zM494.2 1279.2a5.45 5.45 0 1 0 10.9 0a5.45 5.45 0 1 0 -10.9 0zM506.6 1276.3a5.45 5.45 0 1 0 10.9 0a5.45 5.45 0 1 0 -10.9 0zM499.9 1288.6a5.45 5.45 0 1 0 10.9 0a5.45 5.45 0 1 0 -10.9 0zM355.9 1252.6a5.45 5.45 0 1 0 10.9 0a5.45 5.45 0 1 0 -10.9 0zM352.2 1261.2a5.45 5.45 0 1 0 10.9 0a5.45 5.45 0 1 0 -10.9 0zM369.2 1257.4a5.45 5.45 0 1 0 10.9 0a5.45 5.45 0 1 0 -10.9 0zM380.6 1258.3a5.45 5.45 0 1 0 10.9 0a5.45 5.45 0 1 0 -10.9 0zM395.8 1260.2a5.45 5.45 0 1 0 10.9 0a5.45 5.45 0 1 0 -10.9 0zM405.2 1254.5a5.45 5.45 0 1 0 10.9 0a5.45 5.45 0 1 0 -10.9 0zM407.1 1260.2a5.45 5.45 0 1 0 10.9 0a5.45 5.45 0 1 0 -10.9 0zM368.2 1273.5a5.45 5.45 0 1 0 10.9 0a5.45 5.45 0 1 0 -10.9 0zM407.1 1276.3a5.45 5.45 0 1 0 10.9 0a5.45 5.45 0 1 0 -10.9 0zM384.4 1285.8a5.45 5.45 0 1 0 10.9 0a5.45 5.45 0 1 0 -10.9 0zM379.7 1285.8a5.45 5.45 0 1 0 10.9 0a5.45 5.45 0 1 0 -10.9 0zM350.2 1284.8a5.45 5.45 0 1 0 10.9 0a5.45 5.45 0 1 0 -10.9 0zM667.2 1202.8a5.45 5.45 0 1 0 10.9 0a5.45 5.45 0 1 0 -10.9 0zM615.5 1224.2a5.45 5.45 0 1 0 10.9 0a5.45 5.45 0 1 0 -10.9 0zM572.8 1233.1a5.45 5.45 0 1 0 10.9 0a5.45 5.45 0 1 0 -10.9 0zM622.1 1237.1a5.45 5.45 0 1 0 10.9 0a5.45 5.45 0 1 0 -10.9 0zM515.4 1237.5a5.45 5.45 0 1 0 10.9 0a5.45 5.45 0 1 0 -10.9 0zM527.8 1241.3a5.45 5.45 0 1 0 10.9 0a5.45 5.45 0 1 0 -10.9 0zM526.8 1245.1a5.45 5.45 0 1 0 10.9 0a5.45 5.45 0 1 0 -10.9 0zM535.3 1243.2a5.45 5.45 0 1 0 10.9 0a5.45 5.45 0 1 0 -10.9 0zM548.6 1244.1a5.45 5.45 0 1 0 10.9 0a5.45 5.45 0 1 0 -10.9 0zM549.6 1247.9a5.45 5.45 0 1 0 10.9 0a5.45 5.45 0 1 0 -10.9 0zM562.4 1246.6a5.45 5.45 0 1 0 10.9 0a5.45 5.45 0 1 0 -10.9 0zM626.3 1251.3a5.45 5.45 0 1 0 10.9 0a5.45 5.45 0 1 0 -10.9 0zM583.1 1264.9a5.45 5.45 0 1 0 10.9 0a5.45 5.45 0 1 0 -10.9 0zM568.1 1268.7a5.45 5.45 0 1 0 10.9 0a5.45 5.45 0 1 0 -10.9 0zM602.6 1270.6a5.45 5.45 0 1 0 10.9 0a5.45 5.45 0 1 0 -10.9 0zM603.6 1277.3a5.45 5.45 0 1 0 10.9 0a5.45 5.45 0 1 0 -10.9 0zM612.1 1278.2a5.45 5.45 0 1 0 10.9 0a5.45 5.45 0 1 0 -10.9 0zM595.4 1285.8a5.45 5.45 0 1 0 10.9 0a5.45 5.45 0 1 0 -10.9 0zM758.0 1266.5a5.45 5.45 0 1 0 10.9 0a5.45 5.45 0 1 0 -10.9 0zM237.5 1357.3a5.45 5.45 0 1 0 10.9 0a5.45 5.45 0 1 0 -10.9 0zM315.6 1408.8a5.45 5.45 0 1 0 10.9 0a5.45 5.45 0 1 0 -10.9 0zM346.9 1435.9a5.45 5.45 0 1 0 10.9 0a5.45 5.45 0 1 0 -10.9 0zM316.2 1355.8a5.45 5.45 0 1 0 10.9 0a5.45 5.45 0 1 0 -10.9 0zM276.9 1314.1a5.45 5.45 0 1 0 10.9 0a5.45 5.45 0 1 0 -10.9 0zM288.2 1316.0a5.45 5.45 0 1 0 10.9 0a5.45 5.45 0 1 0 -10.9 0zM290.2 1325.5a5.45 5.45 0 1 0 10.9 0a5.45 5.45 0 1 0 -10.9 0zM289.2 1333.1a5.45 5.45 0 1 0 10.9 0a5.45 5.45 0 1 0 -10.9 0zM311.9 1328.3a5.45 5.45 0 1 0 10.9 0a5.45 5.45 0 1 0 -10.9 0zM328.9 1324.5a5.45 5.45 0 1 0 10.9 0a5.45 5.45 0 1 0 -10.9 0zM357.4 1351.6a5.45 5.45 0 1 0 10.9 0a5.45 5.45 0 1 0 -10.9 0zM417.9 1334.6a5.45 5.45 0 1 0 10.9 0a5.45 5.45 0 1 0 -10.9 0zM426.8 1355.2a5.45 5.45 0 1 0 10.9 0a5.45 5.45 0 1 0 -10.9 0zM466.8 1335.5a5.45 5.45 0 1 0 10.9 0a5.45 5.45 0 1 0 -10.9 0zM456.4 1328.9a5.45 5.45 0 1 0 10.9 0a5.45 5.45 0 1 0 -10.9 0zM434.9 1397.9a5.45 5.45 0 1 0 10.9 0a5.45 5.45 0 1 0 -10.9 0zM486.7 1318.8a5.45 5.45 0 1 0 10.9 0a5.45 5.45 0 1 0 -10.9 0zM434.9 1316.0a5.45 5.45 0 1 0 10.9 0a5.45 5.45 0 1 0 -10.9 0zM419.9 1307.5a5.45 5.45 0 1 0 10.9 0a5.45 5.45 0 1 0 -10.9 0zM408.9 1310.3a5.45 5.45 0 1 0 10.9 0a5.45 5.45 0 1 0 -10.9 0zM408.1 1316.0a5.45 5.45 0 1 0 10.9 0a5.45 5.45 0 1 0 -10.9 0zM395.4 1304.6a5.45 5.45 0 1 0 10.9 0a5.45 5.45 0 1 0 -10.9 0zM396.7 1318.8a5.45 5.45 0 1 0 10.9 0a5.45 5.45 0 1 0 -10.9 0zM471.4 1304.3a5.45 5.45 0 1 0 10.9 0a5.45 5.45 0 1 0 -10.9 0zM458.2 1302.7a5.45 5.45 0 1 0 10.9 0a5.45 5.45 0 1 0 -10.9 0zM447.9 1306.5a5.45 5.45 0 1 0 10.9 0a5.45 5.45 0 1 0 -10.9 0zM429.9 1280.0a5.45 5.45 0 1 0 10.9 0a5.45 5.45 0 1 0 -10.9 0zM407.1 1281.9a5.45 5.45 0 1 0 10.9 0a5.45 5.45 0 1 0 -10.9 0zM358.8 1287.6a5.45 5.45 0 1 0 10.9 0a5.45 5.45 0 1 0 -10.9 0zM587.4 1321.1a5.45 5.45 0 1 0 10.9 0a5.45 5.45 0 1 0 -10.9 0zM448.4 1518.4a5.45 5.45 0 1 0 10.9 0a5.45 5.45 0 1 0 -10.9 0zM433.9 1297.4a5.45 5.45 0 1 0 10.9 0a5.45 5.45 0 1 0 -10.9 0zM442.4 1299.1a5.45 5.45 0 1 0 10.9 0a5.45 5.45 0 1 0 -10.9 0zM425.4 1295.7a5.45 5.45 0 1 0 10.9 0a5.45 5.45 0 1 0 -10.9 0zM337.9 1246.8a5.45 5.45 0 1 0 10.9 0a5.45 5.45 0 1 0 -10.9 0zM341.2 1255.3a5.45 5.45 0 1 0 10.9 0a5.45 5.45 0 1 0 -10.9 0zM334.6 1278.8a5.45 5.45 0 1 0 10.9 0a5.45 5.45 0 1 0 -10.9 0zM342.9 1283.9a5.45 5.45 0 1 0 10.9 0a5.45 5.45 0 1 0 -10.9 0zM428.7 1276.1a5.45 5.45 0 1 0 10.9 0a5.45 5.45 0 1 0 -10.9 0z"/>
</g>
<rect x="180.0" y="920.5" width="735.0" height="735.60" fill="none" stroke="#000" stroke-width="3.85"/>
<text x="159.7" y="935.20" text-anchor="end">3000</text>
<text x="159.7" y="1057.80" text-anchor="end">2000</text>
<text x="159.7" y="1180.40" text-anchor="end">1000</text>
<text x="159.7" y="1303.00" text-anchor="end">0</text>
<text x="159.7" y="1425.60" text-anchor="end">-1000</text>
<text x="159.7" y="1548.20" text-anchor="end">-2000</text>
<text x="159.7" y="1670.80" text-anchor="end">-3000</text>
<text x="185.00" y="1712.90" text-anchor="middle">0</text>
<text x="368.75" y="1712.90" text-anchor="middle">50</text>
<text x="552.50" y="1712.90" text-anchor="middle">100</text>
<text x="736.25" y="1712.90" text-anchor="middle">150</text>
<text x="920.00" y="1712.90" text-anchor="middle">200</text>
<g transform="translate(32.2 1382.70) rotate(-90)"><text x="0" y="0">ZPR<tspan dy="-15.3" class="s">sFr</tspan><tspan dy="15.3">(meV)</tspan></text></g>
<text x="455" y="1775.3" class="w">ω</text>
<text x="487" y="1759.5" class="s">sFr</text>
<text x="485.9 499.6 504.6" y="1782.6" class="s" style="font-size:21.5px">eff</text>
<text x="536.9" y="1775.3">(meV)</text>
</g>
</svg></body></html>
